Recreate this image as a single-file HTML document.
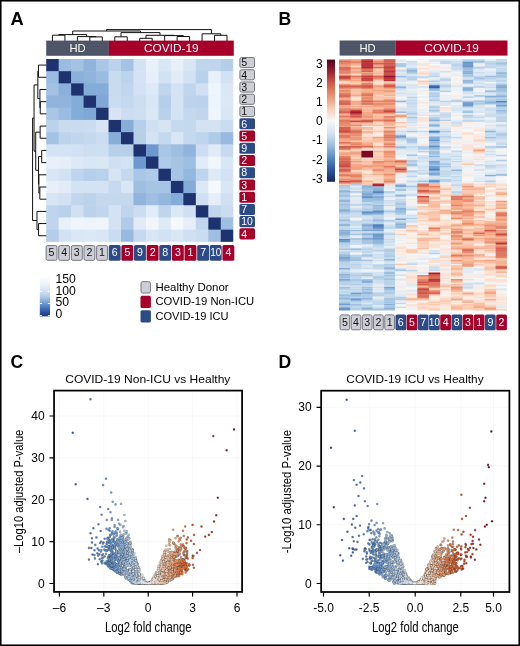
<!DOCTYPE html>
<html><head><meta charset="utf-8"><title>Figure</title>
<style>html,body{margin:0;padding:0;background:#fff;overflow:hidden}svg{display:block;will-change:transform}</style>
</head><body>
<svg width="520" height="646" viewBox="0 0 520 646" font-family="'Liberation Sans', sans-serif">
<rect width="520" height="646" fill="#fff"/>
<g>
<rect x="46.2" y="59" width="13.07" height="12.79" fill="#1d326f"/>
<rect x="58.67" y="59" width="13.07" height="12.79" fill="#9abce0"/>
<rect x="71.14" y="59" width="13.07" height="12.79" fill="#a2c1e3"/>
<rect x="83.61" y="59" width="13.07" height="12.79" fill="#90b4dc"/>
<rect x="96.08" y="59" width="13.07" height="12.79" fill="#a9c6e6"/>
<rect x="108.55" y="59" width="13.07" height="12.79" fill="#bbd2ec"/>
<rect x="121.02" y="59" width="13.07" height="12.79" fill="#a4c2e4"/>
<rect x="133.49" y="59" width="13.07" height="12.79" fill="#d4e3f3"/>
<rect x="145.96" y="59" width="13.07" height="12.79" fill="#e8f0fa"/>
<rect x="158.43" y="59" width="13.07" height="12.79" fill="#d8e6f5"/>
<rect x="170.9" y="59" width="13.07" height="12.79" fill="#e7eff9"/>
<rect x="183.37" y="59" width="13.07" height="12.79" fill="#d8e5f4"/>
<rect x="195.84" y="59" width="13.07" height="12.79" fill="#bfd4ed"/>
<rect x="208.31" y="59" width="13.07" height="12.79" fill="#c0d5ed"/>
<rect x="220.78" y="59" width="12.47" height="12.79" fill="#b4cde9"/>
<rect x="46.2" y="71.19" width="13.07" height="12.79" fill="#9abce0"/>
<rect x="58.67" y="71.19" width="13.07" height="12.79" fill="#1d326f"/>
<rect x="71.14" y="71.19" width="13.07" height="12.79" fill="#8bb1db"/>
<rect x="83.61" y="71.19" width="13.07" height="12.79" fill="#90b4dc"/>
<rect x="96.08" y="71.19" width="13.07" height="12.79" fill="#9abce0"/>
<rect x="108.55" y="71.19" width="13.07" height="12.79" fill="#c8dbef"/>
<rect x="121.02" y="71.19" width="13.07" height="12.79" fill="#bdd3ec"/>
<rect x="133.49" y="71.19" width="13.07" height="12.79" fill="#d4e3f3"/>
<rect x="145.96" y="71.19" width="13.07" height="12.79" fill="#e6eff9"/>
<rect x="158.43" y="71.19" width="13.07" height="12.79" fill="#d3e2f3"/>
<rect x="170.9" y="71.19" width="13.07" height="12.79" fill="#e2ecf8"/>
<rect x="183.37" y="71.19" width="13.07" height="12.79" fill="#d2e1f3"/>
<rect x="195.84" y="71.19" width="13.07" height="12.79" fill="#bad1eb"/>
<rect x="208.31" y="71.19" width="13.07" height="12.79" fill="#e8f0fa"/>
<rect x="220.78" y="71.19" width="12.47" height="12.79" fill="#d2e1f3"/>
<rect x="46.2" y="83.38" width="13.07" height="12.79" fill="#a2c1e3"/>
<rect x="58.67" y="83.38" width="13.07" height="12.79" fill="#8bb1db"/>
<rect x="71.14" y="83.38" width="13.07" height="12.79" fill="#1d326f"/>
<rect x="83.61" y="83.38" width="13.07" height="12.79" fill="#84acd8"/>
<rect x="96.08" y="83.38" width="13.07" height="12.79" fill="#84acd8"/>
<rect x="108.55" y="83.38" width="13.07" height="12.79" fill="#c8dbef"/>
<rect x="121.02" y="83.38" width="13.07" height="12.79" fill="#c1d6ed"/>
<rect x="133.49" y="83.38" width="13.07" height="12.79" fill="#d2e1f3"/>
<rect x="145.96" y="83.38" width="13.07" height="12.79" fill="#dde9f6"/>
<rect x="158.43" y="83.38" width="13.07" height="12.79" fill="#c0d5ed"/>
<rect x="170.9" y="83.38" width="13.07" height="12.79" fill="#d4e3f3"/>
<rect x="183.37" y="83.38" width="13.07" height="12.79" fill="#c1d6ed"/>
<rect x="195.84" y="83.38" width="13.07" height="12.79" fill="#d1e0f2"/>
<rect x="208.31" y="83.38" width="13.07" height="12.79" fill="#eff5fc"/>
<rect x="220.78" y="83.38" width="12.47" height="12.79" fill="#dae7f5"/>
<rect x="46.2" y="95.57" width="13.07" height="12.79" fill="#90b4dc"/>
<rect x="58.67" y="95.57" width="13.07" height="12.79" fill="#90b4dc"/>
<rect x="71.14" y="95.57" width="13.07" height="12.79" fill="#84acd8"/>
<rect x="83.61" y="95.57" width="13.07" height="12.79" fill="#1d326f"/>
<rect x="96.08" y="95.57" width="13.07" height="12.79" fill="#7fa8d6"/>
<rect x="108.55" y="95.57" width="13.07" height="12.79" fill="#c9dcf0"/>
<rect x="121.02" y="95.57" width="13.07" height="12.79" fill="#c4d8ee"/>
<rect x="133.49" y="95.57" width="13.07" height="12.79" fill="#cddef1"/>
<rect x="145.96" y="95.57" width="13.07" height="12.79" fill="#d9e6f5"/>
<rect x="158.43" y="95.57" width="13.07" height="12.79" fill="#b5ceea"/>
<rect x="170.9" y="95.57" width="13.07" height="12.79" fill="#d4e3f3"/>
<rect x="183.37" y="95.57" width="13.07" height="12.79" fill="#bdd3ec"/>
<rect x="195.84" y="95.57" width="13.07" height="12.79" fill="#bbd2ec"/>
<rect x="208.31" y="95.57" width="13.07" height="12.79" fill="#eef4fc"/>
<rect x="220.78" y="95.57" width="12.47" height="12.79" fill="#dbe8f6"/>
<rect x="46.2" y="107.76" width="13.07" height="12.79" fill="#a9c6e6"/>
<rect x="58.67" y="107.76" width="13.07" height="12.79" fill="#9abce0"/>
<rect x="71.14" y="107.76" width="13.07" height="12.79" fill="#84acd8"/>
<rect x="83.61" y="107.76" width="13.07" height="12.79" fill="#7fa8d6"/>
<rect x="96.08" y="107.76" width="13.07" height="12.79" fill="#1d326f"/>
<rect x="108.55" y="107.76" width="13.07" height="12.79" fill="#d6e4f4"/>
<rect x="121.02" y="107.76" width="13.07" height="12.79" fill="#ccddf1"/>
<rect x="133.49" y="107.76" width="13.07" height="12.79" fill="#cfdff2"/>
<rect x="145.96" y="107.76" width="13.07" height="12.79" fill="#dae7f5"/>
<rect x="158.43" y="107.76" width="13.07" height="12.79" fill="#bad1eb"/>
<rect x="170.9" y="107.76" width="13.07" height="12.79" fill="#d4e3f3"/>
<rect x="183.37" y="107.76" width="13.07" height="12.79" fill="#c4d8ee"/>
<rect x="195.84" y="107.76" width="13.07" height="12.79" fill="#c1d6ed"/>
<rect x="208.31" y="107.76" width="13.07" height="12.79" fill="#eff5fc"/>
<rect x="220.78" y="107.76" width="12.47" height="12.79" fill="#d8e6f5"/>
<rect x="46.2" y="119.95" width="13.07" height="12.79" fill="#bbd2ec"/>
<rect x="58.67" y="119.95" width="13.07" height="12.79" fill="#c8dbef"/>
<rect x="71.14" y="119.95" width="13.07" height="12.79" fill="#c8dbef"/>
<rect x="83.61" y="119.95" width="13.07" height="12.79" fill="#c9dcf0"/>
<rect x="96.08" y="119.95" width="13.07" height="12.79" fill="#d6e4f4"/>
<rect x="108.55" y="119.95" width="13.07" height="12.79" fill="#1d326f"/>
<rect x="121.02" y="119.95" width="13.07" height="12.79" fill="#87aed9"/>
<rect x="133.49" y="119.95" width="13.07" height="12.79" fill="#b7d0ea"/>
<rect x="145.96" y="119.95" width="13.07" height="12.79" fill="#d0e0f2"/>
<rect x="158.43" y="119.95" width="13.07" height="12.79" fill="#d6e4f4"/>
<rect x="170.9" y="119.95" width="13.07" height="12.79" fill="#c6d9ef"/>
<rect x="183.37" y="119.95" width="13.07" height="12.79" fill="#c4d8ee"/>
<rect x="195.84" y="119.95" width="13.07" height="12.79" fill="#d4e3f3"/>
<rect x="208.31" y="119.95" width="13.07" height="12.79" fill="#d4e3f3"/>
<rect x="220.78" y="119.95" width="12.47" height="12.79" fill="#cadcf0"/>
<rect x="46.2" y="132.14" width="13.07" height="12.79" fill="#a4c2e4"/>
<rect x="58.67" y="132.14" width="13.07" height="12.79" fill="#bdd3ec"/>
<rect x="71.14" y="132.14" width="13.07" height="12.79" fill="#c1d6ed"/>
<rect x="83.61" y="132.14" width="13.07" height="12.79" fill="#c4d8ee"/>
<rect x="96.08" y="132.14" width="13.07" height="12.79" fill="#ccddf1"/>
<rect x="108.55" y="132.14" width="13.07" height="12.79" fill="#87aed9"/>
<rect x="121.02" y="132.14" width="13.07" height="12.79" fill="#1d326f"/>
<rect x="133.49" y="132.14" width="13.07" height="12.79" fill="#b7d0ea"/>
<rect x="145.96" y="132.14" width="13.07" height="12.79" fill="#d4e3f3"/>
<rect x="158.43" y="132.14" width="13.07" height="12.79" fill="#c4d8ee"/>
<rect x="170.9" y="132.14" width="13.07" height="12.79" fill="#d8e6f5"/>
<rect x="183.37" y="132.14" width="13.07" height="12.79" fill="#c4d8ee"/>
<rect x="195.84" y="132.14" width="13.07" height="12.79" fill="#bfd4ed"/>
<rect x="208.31" y="132.14" width="13.07" height="12.79" fill="#b0cbe8"/>
<rect x="220.78" y="132.14" width="12.47" height="12.79" fill="#98bae0"/>
<rect x="46.2" y="144.33" width="13.07" height="12.79" fill="#d4e3f3"/>
<rect x="58.67" y="144.33" width="13.07" height="12.79" fill="#d4e3f3"/>
<rect x="71.14" y="144.33" width="13.07" height="12.79" fill="#d2e1f3"/>
<rect x="83.61" y="144.33" width="13.07" height="12.79" fill="#cddef1"/>
<rect x="96.08" y="144.33" width="13.07" height="12.79" fill="#cfdff2"/>
<rect x="108.55" y="144.33" width="13.07" height="12.79" fill="#b7d0ea"/>
<rect x="121.02" y="144.33" width="13.07" height="12.79" fill="#b7d0ea"/>
<rect x="133.49" y="144.33" width="13.07" height="12.79" fill="#1d326f"/>
<rect x="145.96" y="144.33" width="13.07" height="12.79" fill="#6d99ce"/>
<rect x="158.43" y="144.33" width="13.07" height="12.79" fill="#a9c6e6"/>
<rect x="170.9" y="144.33" width="13.07" height="12.79" fill="#9ebee2"/>
<rect x="183.37" y="144.33" width="13.07" height="12.79" fill="#90b4dc"/>
<rect x="195.84" y="144.33" width="13.07" height="12.79" fill="#ccddf1"/>
<rect x="208.31" y="144.33" width="13.07" height="12.79" fill="#e0ebf7"/>
<rect x="220.78" y="144.33" width="12.47" height="12.79" fill="#c6d9ef"/>
<rect x="46.2" y="156.52" width="13.07" height="12.79" fill="#e8f0fa"/>
<rect x="58.67" y="156.52" width="13.07" height="12.79" fill="#e6eff9"/>
<rect x="71.14" y="156.52" width="13.07" height="12.79" fill="#dde9f6"/>
<rect x="83.61" y="156.52" width="13.07" height="12.79" fill="#d9e6f5"/>
<rect x="96.08" y="156.52" width="13.07" height="12.79" fill="#dae7f5"/>
<rect x="108.55" y="156.52" width="13.07" height="12.79" fill="#d0e0f2"/>
<rect x="121.02" y="156.52" width="13.07" height="12.79" fill="#d4e3f3"/>
<rect x="133.49" y="156.52" width="13.07" height="12.79" fill="#6d99ce"/>
<rect x="145.96" y="156.52" width="13.07" height="12.79" fill="#1d326f"/>
<rect x="158.43" y="156.52" width="13.07" height="12.79" fill="#b0cbe8"/>
<rect x="170.9" y="156.52" width="13.07" height="12.79" fill="#a7c4e5"/>
<rect x="183.37" y="156.52" width="13.07" height="12.79" fill="#9fbfe2"/>
<rect x="195.84" y="156.52" width="13.07" height="12.79" fill="#e2ecf8"/>
<rect x="208.31" y="156.52" width="13.07" height="12.79" fill="#f1f6fd"/>
<rect x="220.78" y="156.52" width="12.47" height="12.79" fill="#d8e6f5"/>
<rect x="46.2" y="168.71" width="13.07" height="12.79" fill="#d8e6f5"/>
<rect x="58.67" y="168.71" width="13.07" height="12.79" fill="#d3e2f3"/>
<rect x="71.14" y="168.71" width="13.07" height="12.79" fill="#c0d5ed"/>
<rect x="83.61" y="168.71" width="13.07" height="12.79" fill="#b5ceea"/>
<rect x="96.08" y="168.71" width="13.07" height="12.79" fill="#bad1eb"/>
<rect x="108.55" y="168.71" width="13.07" height="12.79" fill="#d6e4f4"/>
<rect x="121.02" y="168.71" width="13.07" height="12.79" fill="#c4d8ee"/>
<rect x="133.49" y="168.71" width="13.07" height="12.79" fill="#a9c6e6"/>
<rect x="145.96" y="168.71" width="13.07" height="12.79" fill="#b0cbe8"/>
<rect x="158.43" y="168.71" width="13.07" height="12.79" fill="#1d326f"/>
<rect x="170.9" y="168.71" width="13.07" height="12.79" fill="#a7c4e5"/>
<rect x="183.37" y="168.71" width="13.07" height="12.79" fill="#94b7de"/>
<rect x="195.84" y="168.71" width="13.07" height="12.79" fill="#bfd4ed"/>
<rect x="208.31" y="168.71" width="13.07" height="12.79" fill="#dfeaf7"/>
<rect x="220.78" y="168.71" width="12.47" height="12.79" fill="#d2e1f3"/>
<rect x="46.2" y="180.9" width="13.07" height="12.79" fill="#e7eff9"/>
<rect x="58.67" y="180.9" width="13.07" height="12.79" fill="#e2ecf8"/>
<rect x="71.14" y="180.9" width="13.07" height="12.79" fill="#d4e3f3"/>
<rect x="83.61" y="180.9" width="13.07" height="12.79" fill="#d4e3f3"/>
<rect x="96.08" y="180.9" width="13.07" height="12.79" fill="#d4e3f3"/>
<rect x="108.55" y="180.9" width="13.07" height="12.79" fill="#c6d9ef"/>
<rect x="121.02" y="180.9" width="13.07" height="12.79" fill="#d8e6f5"/>
<rect x="133.49" y="180.9" width="13.07" height="12.79" fill="#9ebee2"/>
<rect x="145.96" y="180.9" width="13.07" height="12.79" fill="#a7c4e5"/>
<rect x="158.43" y="180.9" width="13.07" height="12.79" fill="#a7c4e5"/>
<rect x="170.9" y="180.9" width="13.07" height="12.79" fill="#1d326f"/>
<rect x="183.37" y="180.9" width="13.07" height="12.79" fill="#84acd8"/>
<rect x="195.84" y="180.9" width="13.07" height="12.79" fill="#dbe8f6"/>
<rect x="208.31" y="180.9" width="13.07" height="12.79" fill="#f5f9fe"/>
<rect x="220.78" y="180.9" width="12.47" height="12.79" fill="#d8e6f5"/>
<rect x="46.2" y="193.09" width="13.07" height="12.79" fill="#d8e5f4"/>
<rect x="58.67" y="193.09" width="13.07" height="12.79" fill="#d2e1f3"/>
<rect x="71.14" y="193.09" width="13.07" height="12.79" fill="#c1d6ed"/>
<rect x="83.61" y="193.09" width="13.07" height="12.79" fill="#bdd3ec"/>
<rect x="96.08" y="193.09" width="13.07" height="12.79" fill="#c4d8ee"/>
<rect x="108.55" y="193.09" width="13.07" height="12.79" fill="#c4d8ee"/>
<rect x="121.02" y="193.09" width="13.07" height="12.79" fill="#c4d8ee"/>
<rect x="133.49" y="193.09" width="13.07" height="12.79" fill="#90b4dc"/>
<rect x="145.96" y="193.09" width="13.07" height="12.79" fill="#9fbfe2"/>
<rect x="158.43" y="193.09" width="13.07" height="12.79" fill="#94b7de"/>
<rect x="170.9" y="193.09" width="13.07" height="12.79" fill="#84acd8"/>
<rect x="183.37" y="193.09" width="13.07" height="12.79" fill="#1d326f"/>
<rect x="195.84" y="193.09" width="13.07" height="12.79" fill="#d0e0f2"/>
<rect x="208.31" y="193.09" width="13.07" height="12.79" fill="#e5eef9"/>
<rect x="220.78" y="193.09" width="12.47" height="12.79" fill="#d0e0f2"/>
<rect x="46.2" y="205.28" width="13.07" height="12.79" fill="#bfd4ed"/>
<rect x="58.67" y="205.28" width="13.07" height="12.79" fill="#bad1eb"/>
<rect x="71.14" y="205.28" width="13.07" height="12.79" fill="#d1e0f2"/>
<rect x="83.61" y="205.28" width="13.07" height="12.79" fill="#bbd2ec"/>
<rect x="96.08" y="205.28" width="13.07" height="12.79" fill="#c1d6ed"/>
<rect x="108.55" y="205.28" width="13.07" height="12.79" fill="#d4e3f3"/>
<rect x="121.02" y="205.28" width="13.07" height="12.79" fill="#bfd4ed"/>
<rect x="133.49" y="205.28" width="13.07" height="12.79" fill="#ccddf1"/>
<rect x="145.96" y="205.28" width="13.07" height="12.79" fill="#e2ecf8"/>
<rect x="158.43" y="205.28" width="13.07" height="12.79" fill="#bfd4ed"/>
<rect x="170.9" y="205.28" width="13.07" height="12.79" fill="#dbe8f6"/>
<rect x="183.37" y="205.28" width="13.07" height="12.79" fill="#d0e0f2"/>
<rect x="195.84" y="205.28" width="13.07" height="12.79" fill="#1d326f"/>
<rect x="208.31" y="205.28" width="13.07" height="12.79" fill="#c1d6ed"/>
<rect x="220.78" y="205.28" width="12.47" height="12.79" fill="#cadcf0"/>
<rect x="46.2" y="217.47" width="13.07" height="12.79" fill="#c0d5ed"/>
<rect x="58.67" y="217.47" width="13.07" height="12.79" fill="#e8f0fa"/>
<rect x="71.14" y="217.47" width="13.07" height="12.79" fill="#eff5fc"/>
<rect x="83.61" y="217.47" width="13.07" height="12.79" fill="#eef4fc"/>
<rect x="96.08" y="217.47" width="13.07" height="12.79" fill="#eff5fc"/>
<rect x="108.55" y="217.47" width="13.07" height="12.79" fill="#d4e3f3"/>
<rect x="121.02" y="217.47" width="13.07" height="12.79" fill="#b0cbe8"/>
<rect x="133.49" y="217.47" width="13.07" height="12.79" fill="#e0ebf7"/>
<rect x="145.96" y="217.47" width="13.07" height="12.79" fill="#f1f6fd"/>
<rect x="158.43" y="217.47" width="13.07" height="12.79" fill="#dfeaf7"/>
<rect x="170.9" y="217.47" width="13.07" height="12.79" fill="#f5f9fe"/>
<rect x="183.37" y="217.47" width="13.07" height="12.79" fill="#e5eef9"/>
<rect x="195.84" y="217.47" width="13.07" height="12.79" fill="#c1d6ed"/>
<rect x="208.31" y="217.47" width="13.07" height="12.79" fill="#1d326f"/>
<rect x="220.78" y="217.47" width="12.47" height="12.79" fill="#9fbfe2"/>
<rect x="46.2" y="229.66" width="13.07" height="12.19" fill="#b4cde9"/>
<rect x="58.67" y="229.66" width="13.07" height="12.19" fill="#d2e1f3"/>
<rect x="71.14" y="229.66" width="13.07" height="12.19" fill="#dae7f5"/>
<rect x="83.61" y="229.66" width="13.07" height="12.19" fill="#dbe8f6"/>
<rect x="96.08" y="229.66" width="13.07" height="12.19" fill="#d8e6f5"/>
<rect x="108.55" y="229.66" width="13.07" height="12.19" fill="#cadcf0"/>
<rect x="121.02" y="229.66" width="13.07" height="12.19" fill="#98bae0"/>
<rect x="133.49" y="229.66" width="13.07" height="12.19" fill="#c6d9ef"/>
<rect x="145.96" y="229.66" width="13.07" height="12.19" fill="#d8e6f5"/>
<rect x="158.43" y="229.66" width="13.07" height="12.19" fill="#d2e1f3"/>
<rect x="170.9" y="229.66" width="13.07" height="12.19" fill="#d8e6f5"/>
<rect x="183.37" y="229.66" width="13.07" height="12.19" fill="#d0e0f2"/>
<rect x="195.84" y="229.66" width="13.07" height="12.19" fill="#cadcf0"/>
<rect x="208.31" y="229.66" width="13.07" height="12.19" fill="#9fbfe2"/>
<rect x="220.78" y="229.66" width="12.47" height="12.19" fill="#1d326f"/>
</g>
<path d="M52.44 41V35.2H64.91V41M89.84 41V36.9H102.31V41M77.38 41V36.6H96.08V36.9M58.67 35.2V34.6H86.73V36.6M114.79 41V36.8H127.26V41M139.73 41V38.3H152.19V41M177.13 41V36.5H189.61V41M164.67 41V35.6H183.37V36.5M145.96 38.3V35.3H174.02V35.6M121.02 36.8V32.6H159.99V35.3M72.7 34.6V31H140.5V32.6M214.55 41V35.3H227.01V41M202.07 41V33.8H220.78V35.3M106.6 31V29.6H211.43V33.8" fill="none" stroke="#111" stroke-width="1"/>
<path d="M46.3 65.09H38.46V77.28H46.3M46.3 101.66H40.24V113.85H46.3M46.3 89.47H39.93V107.76H40.24M38.46 71.19H37.83V98.62H39.93M46.3 126.05H40.14V138.24H46.3M46.3 150.43H41.71V162.62H46.3M46.3 187H39.83V199.19H46.3M46.3 174.81H38.88V193.09H39.83M41.71 156.52H38.56V183.95H38.88M40.14 132.14H35.73V170.23H38.56M37.83 84.9H34.05V151.19H35.73M46.3 223.56H38.56V235.75H46.3M46.3 211.38H36.99V229.66H38.56M34.05 118.05H32.58V220.52H36.99" fill="none" stroke="#111" stroke-width="1"/>
<rect x="46.2" y="40.6" width="62.7" height="15.2" fill="#4e5567"/>
<rect x="108.8" y="40.6" width="125" height="15.2" fill="#a6002a"/>
<text x="77.6" y="51.6" font-size="11.2" text-anchor="middle" fill="#fff">HD</text>
<text x="171.3" y="51.7" font-size="11.2" text-anchor="middle" fill="#fff" textLength="54.5" lengthAdjust="spacingAndGlyphs">COVID-19</text>
<rect x="239.9" y="57.5" width="14.6" height="10.1" rx="1.6" fill="#cecfd6" stroke="#757882" stroke-width="1"/>
<text x="241.3" y="66.3" font-size="10.6" fill="#111">5</text>
<rect x="239.9" y="69.74" width="14.6" height="10.1" rx="1.6" fill="#cecfd6" stroke="#757882" stroke-width="1"/>
<text x="241.3" y="78.54" font-size="10.6" fill="#111">4</text>
<rect x="239.9" y="81.98" width="14.6" height="10.1" rx="1.6" fill="#cecfd6" stroke="#757882" stroke-width="1"/>
<text x="241.3" y="90.78" font-size="10.6" fill="#111">3</text>
<rect x="239.9" y="94.22" width="14.6" height="10.1" rx="1.6" fill="#cecfd6" stroke="#757882" stroke-width="1"/>
<text x="241.3" y="103.02" font-size="10.6" fill="#111">2</text>
<rect x="239.9" y="106.46" width="14.6" height="10.1" rx="1.6" fill="#cecfd6" stroke="#757882" stroke-width="1"/>
<text x="241.3" y="115.26" font-size="10.6" fill="#111">1</text>
<rect x="239.4" y="118.2" width="15.6" height="11.1" rx="1.6" fill="#2c4a86"/>
<text x="241.3" y="127.5" font-size="10.6" fill="#fff">6</text>
<rect x="239.4" y="130.44" width="15.6" height="11.1" rx="1.6" fill="#a6002a"/>
<text x="241.3" y="139.74" font-size="10.6" fill="#fff">5</text>
<rect x="239.4" y="142.68" width="15.6" height="11.1" rx="1.6" fill="#2c4a86"/>
<text x="241.3" y="151.98" font-size="10.6" fill="#fff">9</text>
<rect x="239.4" y="154.92" width="15.6" height="11.1" rx="1.6" fill="#a6002a"/>
<text x="241.3" y="164.22" font-size="10.6" fill="#fff">2</text>
<rect x="239.4" y="167.16" width="15.6" height="11.1" rx="1.6" fill="#2c4a86"/>
<text x="241.3" y="176.46" font-size="10.6" fill="#fff">8</text>
<rect x="239.4" y="179.4" width="15.6" height="11.1" rx="1.6" fill="#a6002a"/>
<text x="241.3" y="188.7" font-size="10.6" fill="#fff">3</text>
<rect x="239.4" y="191.64" width="15.6" height="11.1" rx="1.6" fill="#a6002a"/>
<text x="241.3" y="200.94" font-size="10.6" fill="#fff">1</text>
<rect x="239.4" y="203.88" width="15.6" height="11.1" rx="1.6" fill="#2c4a86"/>
<text x="241.3" y="213.18" font-size="10.6" fill="#fff">7</text>
<rect x="239.4" y="216.12" width="15.6" height="11.1" rx="1.6" fill="#2c4a86"/>
<text x="241.3" y="225.42" font-size="10.6" fill="#fff" textLength="11.6" lengthAdjust="spacingAndGlyphs">10</text>
<rect x="239.4" y="228.36" width="15.6" height="11.1" rx="1.6" fill="#a6002a"/>
<text x="241.3" y="237.66" font-size="10.6" fill="#fff">4</text>
<rect x="46.1" y="245.6" width="10.9" height="14.7" rx="1.6" fill="#cecfd6" stroke="#757882" stroke-width="1"/>
<text x="51.55" y="256" font-size="10.6" text-anchor="middle" fill="#111">5</text>
<rect x="58.73" y="245.6" width="10.9" height="14.7" rx="1.6" fill="#cecfd6" stroke="#757882" stroke-width="1"/>
<text x="64.18" y="256" font-size="10.6" text-anchor="middle" fill="#111">4</text>
<rect x="71.36" y="245.6" width="10.9" height="14.7" rx="1.6" fill="#cecfd6" stroke="#757882" stroke-width="1"/>
<text x="76.81" y="256" font-size="10.6" text-anchor="middle" fill="#111">3</text>
<rect x="83.99" y="245.6" width="10.9" height="14.7" rx="1.6" fill="#cecfd6" stroke="#757882" stroke-width="1"/>
<text x="89.44" y="256" font-size="10.6" text-anchor="middle" fill="#111">2</text>
<rect x="96.62" y="245.6" width="10.9" height="14.7" rx="1.6" fill="#cecfd6" stroke="#757882" stroke-width="1"/>
<text x="102.07" y="256" font-size="10.6" text-anchor="middle" fill="#111">1</text>
<rect x="108.75" y="245.1" width="11.9" height="15.7" rx="1.6" fill="#2c4a86"/>
<text x="114.7" y="256" font-size="10.6" text-anchor="middle" fill="#fff">6</text>
<rect x="121.38" y="245.1" width="11.9" height="15.7" rx="1.6" fill="#a6002a"/>
<text x="127.33" y="256" font-size="10.6" text-anchor="middle" fill="#fff">5</text>
<rect x="134.01" y="245.1" width="11.9" height="15.7" rx="1.6" fill="#2c4a86"/>
<text x="139.96" y="256" font-size="10.6" text-anchor="middle" fill="#fff">9</text>
<rect x="146.64" y="245.1" width="11.9" height="15.7" rx="1.6" fill="#a6002a"/>
<text x="152.59" y="256" font-size="10.6" text-anchor="middle" fill="#fff">2</text>
<rect x="159.27" y="245.1" width="11.9" height="15.7" rx="1.6" fill="#2c4a86"/>
<text x="165.22" y="256" font-size="10.6" text-anchor="middle" fill="#fff">8</text>
<rect x="171.9" y="245.1" width="11.9" height="15.7" rx="1.6" fill="#a6002a"/>
<text x="177.85" y="256" font-size="10.6" text-anchor="middle" fill="#fff">3</text>
<rect x="184.53" y="245.1" width="11.9" height="15.7" rx="1.6" fill="#a6002a"/>
<text x="190.48" y="256" font-size="10.6" text-anchor="middle" fill="#fff">1</text>
<rect x="197.16" y="245.1" width="11.9" height="15.7" rx="1.6" fill="#2c4a86"/>
<text x="203.11" y="256" font-size="10.6" text-anchor="middle" fill="#fff">7</text>
<rect x="209.79" y="245.1" width="11.9" height="15.7" rx="1.6" fill="#2c4a86"/>
<text x="215.74" y="256" font-size="10.6" text-anchor="middle" fill="#fff" textLength="11.2" lengthAdjust="spacingAndGlyphs">10</text>
<rect x="222.42" y="245.1" width="11.9" height="15.7" rx="1.6" fill="#a6002a"/>
<text x="228.37" y="256" font-size="10.6" text-anchor="middle" fill="#fff">4</text>
<defs><linearGradient id="gA" x1="0" y1="1" x2="0" y2="0">
<stop offset="0" stop-color="#1e3680"/>
<stop offset=".02" stop-color="#1f3a86"/>
<stop offset=".18" stop-color="#3a68b0"/>
<stop offset=".33" stop-color="#6a98d0"/>
<stop offset=".49" stop-color="#a9c5e5"/>
<stop offset=".65" stop-color="#d2e0f0"/>
<stop offset=".8" stop-color="#e8eff8"/>
<stop offset=".9" stop-color="#f2f6fc"/>
<stop offset="1" stop-color="#f7fafe"/>
</linearGradient>
<linearGradient id="gB" x1="0" y1="1" x2="0" y2="0">
<stop offset="0" stop-color="#142a66"/>
<stop offset=".1" stop-color="#2b56a0"/>
<stop offset=".2" stop-color="#5a8cc6"/>
<stop offset=".3" stop-color="#9dc0e0"/>
<stop offset=".4" stop-color="#d3e3f1"/>
<stop offset=".5" stop-color="#f7f7f7"/>
<stop offset=".6" stop-color="#f9cbb4"/>
<stop offset=".7" stop-color="#eb9474"/>
<stop offset=".8" stop-color="#d2604a"/>
<stop offset=".9" stop-color="#a02030"/>
<stop offset="1" stop-color="#50001a"/>
</linearGradient></defs>
<rect x="39.8" y="277.9" width="10.2" height="38.5" fill="url(#gA)"/>
<path d="M39.8 291.5h2.2M47.8 291.5h2.2" stroke="#fff" stroke-width="0.9"/>
<path d="M39.8 303.5h2.2M47.8 303.5h2.2" stroke="#fff" stroke-width="0.9"/>
<path d="M39.8 315.6h2.2M47.8 315.6h2.2" stroke="#fff" stroke-width="0.9"/>
<text x="55.4" y="282.6" font-size="12.2">150</text>
<text x="55.4" y="294.5" font-size="12.2">100</text>
<text x="55.4" y="306.2" font-size="12.2">50</text>
<text x="55.4" y="317.9" font-size="12.2">0</text>
<rect x="141" y="281.7" width="9.4" height="11.3" rx="1.6" fill="#cecfd6" stroke="#757882" stroke-width="1"/>
<rect x="140.5" y="295.7" width="10.4" height="12.3" rx="1.6" fill="#a6002a"/>
<rect x="140.5" y="310.2" width="10.4" height="12.3" rx="1.6" fill="#2c4a86"/>
<text x="155.4" y="290.9" font-size="11.2" textLength="73.2" lengthAdjust="spacingAndGlyphs">Healthy Donor</text>
<text x="155.4" y="305.35" font-size="11.2" textLength="98.8" lengthAdjust="spacingAndGlyphs">COVID-19 Non-ICU</text>
<text x="155.4" y="319.8" font-size="11.2" textLength="73.2" lengthAdjust="spacingAndGlyphs">COVID-19 ICU</text>
<path d="M428.55 87.64h11.59" stroke="#335fa6" stroke-width="1.55"/>
<path d="M428.55 86.38h11.59M372.58 226.94h11.59" stroke="#3b68ad" stroke-width="1.55"/>
<path d="M372.58 211.88h11.59" stroke="#4271b3" stroke-width="1.55"/>
<path d="M428.55 169.21h11.59M372.58 225.69h11.59" stroke="#4a7ab9" stroke-width="1.55"/>
<path d="M462.13 65.05h11.59M495.71 101.44h11.19M462.13 103.95h11.59M428.55 131.56h11.59M428.55 140.35h11.59M428.55 146.62h11.59M372.58 191.8h11.59M372.58 193.06h11.59M361.39 211.88h11.59" stroke="#5283c0" stroke-width="1.55"/>
<path d="M428.55 85.13h11.59M428.55 167.96h11.59M428.55 181.76h11.59M361.39 213.14h11.59M339 239.49h11.59" stroke="#5a8cc6" stroke-width="1.55"/>
<path d="M462.13 62.54h11.59M462.13 66.3h11.59M462.13 105.21h11.59M428.55 161.68h11.59M428.55 166.7h11.59M428.55 172.98h11.59M361.39 196.82h11.59M361.39 198.08h11.59M372.58 213.14h11.59M372.58 224.43h11.59M372.58 228.2h11.59M372.58 234.47h11.59M372.58 238.24h11.59M350.19 299.73h11.59M339 304.75h11.59M339 308.52h11.59M339 309.77h11.59" stroke="#6595ca" stroke-width="1.55"/>
<path d="M462.13 63.79h11.59M462.13 102.7h11.59M495.71 105.21h11.19M428.55 132.82h11.59M394.97 136.58h11.59M428.55 139.09h11.59M428.55 162.94h11.59M428.55 170.47h11.59M428.55 174.23h11.59M428.55 180.51h11.59M361.39 193.06h11.59M372.58 210.63h11.59M394.97 226.94h11.59M372.58 235.73h11.59M372.58 236.98h11.59M339 240.75h11.59M339 242h11.59M372.58 242h11.59M339 279.65h11.59M361.39 280.91h11.59M383.77 287.18h11.59M350.19 293.46h11.59" stroke="#709dcf" stroke-width="1.55"/>
<path d="M495.71 87.64h11.19M428.55 88.89h11.59M495.71 102.7h11.19M428.55 120.27h11.59M428.55 125.29h11.59M428.55 137.84h11.59M428.55 152.9h11.59M428.55 156.66h11.59M394.97 185.53h11.59M394.97 186.78h11.59M361.39 188.04h11.59M372.58 188.04h11.59M361.39 194.31h11.59M372.58 196.82h11.59M372.58 198.08h11.59M394.97 219.41h11.59M361.39 225.69h11.59M339 230.71h11.59M361.39 230.71h11.59M372.58 230.71h11.59M361.39 238.24h11.59M372.58 239.49h11.59M339 257.06h11.59M339 258.32h11.59M339 268.36h11.59M339 274.63h11.59M361.39 282.16h11.59M383.77 304.75h11.59" stroke="#7ca6d3" stroke-width="1.55"/>
<path d="M462.13 67.56h11.59M462.13 71.32h11.59M462.13 73.83h11.59M394.97 76.34h11.59M495.71 85.13h11.19M495.71 86.38h11.19M394.97 87.64h11.59M462.13 87.64h11.59M462.13 88.89h11.59M462.13 90.15h11.59M484.51 96.42h11.59M495.71 96.42h11.19M484.51 102.7h11.59M473.32 103.95h11.59M406.16 113.99h11.59M394.97 137.84h11.59M428.55 142.86h11.59M428.55 145.37h11.59M428.55 147.88h11.59M428.55 164.19h11.59M484.51 175.49h11.59M361.39 186.78h11.59M372.58 189.29h11.59M372.58 190.55h11.59M339 191.8h11.59M361.39 195.57h11.59M372.58 205.61h11.59M394.97 208.12h11.59M394.97 209.37h11.59M339 210.63h11.59M394.97 224.43h11.59M361.39 226.94h11.59M372.58 229.45h11.59M350.19 230.71h11.59M339 231.96h11.59M339 233.22h11.59M361.39 234.47h11.59M361.39 239.49h11.59M339 259.57h11.59M383.77 268.36h11.59M339 280.91h11.59M350.19 295.97h11.59M350.19 298.48h11.59M350.19 300.99h11.59M339 307.26h11.59M361.39 308.52h11.59M383.77 308.52h11.59" stroke="#87afd7" stroke-width="1.55"/>
<path d="M473.32 61.28h11.59M406.16 70.07h11.59M406.16 71.32h11.59M462.13 72.58h11.59M495.71 73.83h11.19M484.51 76.34h11.59M462.13 80.11h11.59M462.13 81.36h11.59M428.55 90.15h11.59M394.97 101.44h11.59M484.51 103.95h11.59M495.71 103.95h11.19M495.71 106.46h11.19M495.71 110.23h11.19M394.97 112.74h11.59M484.51 131.56h11.59M495.71 134.07h11.19M394.97 135.33h11.59M484.51 137.84h11.59M406.16 139.09h11.59M394.97 147.88h11.59M428.55 149.13h11.59M450.93 170.47h11.59M428.55 183.02h11.59M361.39 191.8h11.59M372.58 194.31h11.59M394.97 195.57h11.59M372.58 199.33h11.59M339 200.59h11.59M339 201.84h11.59M372.58 208.12h11.59M339 209.37h11.59M339 211.88h11.59M394.97 211.88h11.59M361.39 214.39h11.59M339 220.67h11.59M372.58 220.67h11.59M339 224.43h11.59M361.39 224.43h11.59M339 225.69h11.59M361.39 229.45h11.59M372.58 233.22h11.59M339 234.47h11.59M372.58 240.75h11.59M361.39 242h11.59M372.58 243.26h11.59M339 255.81h11.59M383.77 259.57h11.59M339 260.83h11.59M383.77 273.38h11.59M361.39 275.89h11.59M383.77 275.89h11.59M339 277.14h11.59M361.39 279.65h11.59M383.77 288.44h11.59M361.39 289.69h11.59M361.39 292.2h11.59M361.39 293.46h11.59M339 298.48h11.59M361.39 298.48h11.59M339 303.5h11.59M350.19 304.75h11.59" stroke="#92b7dc" stroke-width="1.55"/>
<path d="M462.13 61.28h11.59M394.97 63.79h11.59M495.71 63.79h11.19M450.93 65.05h11.59M462.13 68.81h11.59M462.13 70.07h11.59M495.71 72.58h11.19M473.32 78.85h11.59M462.13 82.62h11.59M495.71 88.89h11.19M495.71 90.15h11.19M484.51 91.4h11.59M428.55 93.91h11.59M495.71 95.17h11.19M484.51 101.44h11.59M462.13 106.46h11.59M428.55 110.23h11.59M406.16 117.76h11.59M428.55 119.01h11.59M439.74 120.27h11.59M428.55 124.03h11.59M406.16 140.35h11.59M428.55 141.6h11.59M495.71 146.62h11.19M428.55 151.64h11.59M406.16 164.19h11.59M428.55 171.72h11.59M495.71 174.23h11.19M417.35 181.76h11.59M361.39 185.53h11.59M372.58 186.78h11.59M406.16 186.78h11.59M339 188.04h11.59M361.39 189.29h11.59M394.97 189.29h11.59M339 190.55h11.59M339 193.06h11.59M339 195.57h11.59M361.39 199.33h11.59M361.39 200.59h11.59M372.58 200.59h11.59M361.39 201.84h11.59M339 204.35h11.59M361.39 204.35h11.59M372.58 206.86h11.59M394.97 210.63h11.59M383.77 211.88h11.59M394.97 213.14h11.59M372.58 214.39h11.59M383.77 220.67h11.59M394.97 223.18h11.59M394.97 225.69h11.59M361.39 228.2h11.59M361.39 233.22h11.59M339 235.73h11.59M361.39 243.26h11.59M350.19 249.53h11.59M361.39 252.04h11.59M361.39 255.81h11.59M350.19 259.57h11.59M350.19 260.83h11.59M361.39 260.83h11.59M339 262.08h11.59M383.77 267.1h11.59M406.16 270.87h11.59M383.77 272.12h11.59M339 275.89h11.59M383.77 279.65h11.59M339 287.18h11.59M361.39 287.18h11.59M383.77 289.69h11.59M339 294.71h11.59M350.19 294.71h11.59M339 295.97h11.59M383.77 302.24h11.59M361.39 309.77h11.59M372.58 309.77h11.59M383.77 309.77h11.59" stroke="#9dc0e0" stroke-width="1.55"/>
<path d="M394.97 65.05h11.59M495.71 65.05h11.19M394.97 66.3h11.59M406.16 72.58h11.59M462.13 75.09h11.59M495.71 75.09h11.19M462.13 76.34h11.59M495.71 76.34h11.19M439.74 80.11h11.59M428.55 81.36h11.59M495.71 91.4h11.19M495.71 93.91h11.19M484.51 97.68h11.59M495.71 98.93h11.19M428.55 100.19h11.59M495.71 100.19h11.19M462.13 101.44h11.59M473.32 101.44h11.59M462.13 111.48h11.59M495.71 111.48h11.19M462.13 112.74h11.59M495.71 113.99h11.19M428.55 126.54h11.59M428.55 130.31h11.59M406.16 131.56h11.59M428.55 136.58h11.59M394.97 139.09h11.59M428.55 144.11h11.59M394.97 146.62h11.59M428.55 154.15h11.59M406.16 155.41h11.59M439.74 164.19h11.59M406.16 165.45h11.59M428.55 165.45h11.59M439.74 166.7h11.59M406.16 171.72h11.59M428.55 175.49h11.59M495.71 175.49h11.19M350.19 184.27h11.59M394.97 184.27h11.59M339 185.53h11.59M361.39 190.55h11.59M394.97 190.55h11.59M350.19 191.8h11.59M383.77 191.8h11.59M372.58 195.57h11.59M339 196.82h11.59M394.97 203.1h11.59M394.97 204.35h11.59M339 205.61h11.59M372.58 209.37h11.59M350.19 211.88h11.59M339 213.14h11.59M339 216.9h11.59M394.97 218.16h11.59M406.16 218.16h11.59M372.58 219.41h11.59M350.19 221.92h11.59M372.58 221.92h11.59M394.97 228.2h11.59M350.19 234.47h11.59M361.39 236.98h11.59M350.19 239.49h11.59M361.39 240.75h11.59M339 249.53h11.59M339 252.04h11.59M428.55 253.3h11.59M339 254.55h11.59M350.19 257.06h11.59M350.19 258.32h11.59M383.77 260.83h11.59M339 269.61h11.59M394.97 270.87h11.59M350.19 275.89h11.59M372.58 277.14h11.59M350.19 279.65h11.59M350.19 280.91h11.59M350.19 284.67h11.59M361.39 290.95h11.59M383.77 290.95h11.59M350.19 292.2h11.59M339 297.22h11.59M383.77 298.48h11.59M339 299.73h11.59M361.39 299.73h11.59M383.77 299.73h11.59M383.77 300.99h11.59M339 302.24h11.59M339 306.01h11.59M350.19 306.01h11.59M383.77 306.01h11.59M361.39 307.26h11.59M383.77 307.26h11.59" stroke="#a6c6e3" stroke-width="1.55"/>
<path d="M462.13 60.03h11.59M495.71 60.03h11.19M473.32 62.54h11.59M495.71 62.54h11.19M484.51 63.79h11.59M406.16 68.81h11.59M428.55 76.34h11.59M473.32 77.6h11.59M495.71 77.6h11.19M484.51 78.85h11.59M495.71 83.87h11.19M394.97 86.38h11.59M439.74 86.38h11.59M473.32 95.17h11.59M428.55 96.42h11.59M406.16 97.68h11.59M495.71 97.68h11.19M484.51 100.19h11.59M406.16 103.95h11.59M428.55 107.72h11.59M495.71 112.74h11.19M462.13 115.25h11.59M428.55 117.76h11.59M495.71 119.01h11.19M439.74 131.56h11.59M495.71 135.33h11.19M406.16 141.6h11.59M406.16 142.86h11.59M417.35 146.62h11.59M484.51 146.62h11.59M417.35 147.88h11.59M495.71 147.88h11.19M417.35 149.13h11.59M417.35 151.64h11.59M417.35 157.92h11.59M439.74 159.17h11.59M406.16 160.43h11.59M495.71 160.43h11.19M406.16 161.68h11.59M439.74 162.94h11.59M417.35 172.98h11.59M428.55 179.25h11.59M484.51 181.76h11.59M339 186.78h11.59M383.77 193.06h11.59M339 194.31h11.59M394.97 196.82h11.59M339 199.33h11.59M372.58 201.84h11.59M339 203.1h11.59M372.58 203.1h11.59M339 206.86h11.59M339 208.12h11.59M361.39 209.37h11.59M350.19 210.63h11.59M361.39 210.63h11.59M350.19 216.9h11.59M339 219.41h11.59M361.39 220.67h11.59M339 221.92h11.59M394.97 221.92h11.59M383.77 226.94h11.59M361.39 235.73h11.59M339 236.98h11.59M350.19 238.24h11.59M350.19 242h11.59M383.77 242h11.59M339 243.26h11.59M372.58 244.51h11.59M372.58 247.02h11.59M383.77 249.53h11.59M372.58 250.79h11.59M383.77 250.79h11.59M383.77 252.04h11.59M350.19 255.81h11.59M383.77 255.81h11.59M361.39 257.06h11.59M383.77 257.06h11.59M383.77 264.59h11.59M372.58 265.85h11.59M383.77 269.61h11.59M394.97 269.61h11.59M361.39 273.38h11.59M339 278.4h11.59M383.77 278.4h11.59M339 288.44h11.59M361.39 288.44h11.59M383.77 292.2h11.59M383.77 293.46h11.59M361.39 294.71h11.59M361.39 295.97h11.59M361.39 297.22h11.59M394.97 297.22h11.59M394.97 299.73h11.59M339 300.99h11.59M361.39 300.99h11.59M383.77 303.5h11.59M350.19 308.52h11.59" stroke="#afcce6" stroke-width="1.55"/>
<path d="M473.32 60.03h11.59M484.51 65.05h11.59M473.32 67.56h11.59M495.71 68.81h11.19M394.97 70.07h11.59M406.16 73.83h11.59M406.16 77.6h11.59M484.51 77.6h11.59M406.16 78.85h11.59M439.74 78.85h11.59M406.16 80.11h11.59M473.32 80.11h11.59M495.71 80.11h11.19M495.71 81.36h11.19M462.13 83.87h11.59M439.74 85.13h11.59M473.32 86.38h11.59M484.51 90.15h11.59M439.74 91.4h11.59M428.55 92.66h11.59M495.71 92.66h11.19M428.55 95.17h11.59M473.32 96.42h11.59M462.13 97.68h11.59M428.55 98.93h11.59M484.51 98.93h11.59M406.16 100.19h11.59M450.93 100.19h11.59M439.74 101.44h11.59M450.93 101.44h11.59M473.32 102.7h11.59M428.55 106.46h11.59M495.71 107.72h11.19M484.51 108.97h11.59M495.71 108.97h11.19M394.97 111.48h11.59M428.55 111.48h11.59M484.51 113.99h11.59M462.13 116.5h11.59M495.71 117.76h11.19M462.13 120.27h11.59M495.71 120.27h11.19M428.55 121.52h11.59M495.71 121.52h11.19M495.71 125.29h11.19M484.51 132.82h11.59M428.55 134.07h11.59M439.74 136.58h11.59M484.51 139.09h11.59M495.71 139.09h11.19M495.71 144.11h11.19M406.16 146.62h11.59M484.51 147.88h11.59M428.55 150.39h11.59M450.93 151.64h11.59M428.55 155.41h11.59M495.71 155.41h11.19M428.55 160.43h11.59M450.93 161.68h11.59M406.16 162.94h11.59M484.51 165.45h11.59M484.51 167.96h11.59M450.93 169.21h11.59M439.74 171.72h11.59M406.16 176.74h11.59M450.93 176.74h11.59M439.74 179.25h11.59M439.74 180.51h11.59M450.93 191.8h11.59M350.19 193.06h11.59M450.93 193.06h11.59M394.97 194.31h11.59M339 198.08h11.59M394.97 201.84h11.59M372.58 204.35h11.59M361.39 205.61h11.59M394.97 205.61h11.59M394.97 206.86h11.59M361.39 208.12h11.59M406.16 209.37h11.59M383.77 210.63h11.59M394.97 214.39h11.59M406.16 221.92h11.59M339 223.18h11.59M361.39 223.18h11.59M372.58 223.18h11.59M339 226.94h11.59M383.77 228.2h11.59M339 229.45h11.59M372.58 231.96h11.59M383.77 234.47h11.59M339 238.24h11.59M339 244.51h11.59M339 248.28h11.59M350.19 248.28h11.59M361.39 249.53h11.59M339 253.3h11.59M383.77 253.3h11.59M361.39 254.55h11.59M383.77 254.55h11.59M339 263.34h11.59M339 264.59h11.59M350.19 264.59h11.59M383.77 265.85h11.59M361.39 268.36h11.59M339 272.12h11.59M339 273.38h11.59M350.19 274.63h11.59M361.39 274.63h11.59M383.77 274.63h11.59M372.58 275.89h11.59M383.77 277.14h11.59M372.58 278.4h11.59M372.58 279.65h11.59M383.77 280.91h11.59M339 282.16h11.59M350.19 282.16h11.59M383.77 282.16h11.59M339 283.42h11.59M383.77 283.42h11.59M339 284.67h11.59M361.39 284.67h11.59M383.77 284.67h11.59M339 289.69h11.59M350.19 289.69h11.59M339 292.2h11.59M372.58 293.46h11.59M372.58 294.71h11.59M372.58 295.97h11.59M383.77 295.97h11.59M350.19 297.22h11.59M394.97 298.48h11.59M361.39 304.75h11.59M361.39 306.01h11.59M394.97 307.26h11.59M372.58 308.52h11.59M350.19 309.77h11.59" stroke="#b8d2e8" stroke-width="1.55"/>
<path d="M406.16 61.28h11.59M439.74 61.28h11.59M484.51 61.28h11.59M439.74 62.54h11.59M484.51 62.54h11.59M439.74 63.79h11.59M450.93 63.79h11.59M450.93 66.3h11.59M484.51 66.3h11.59M495.71 66.3h11.19M484.51 67.56h11.59M473.32 68.81h11.59M495.71 70.07h11.19M495.71 71.32h11.19M406.16 76.34h11.59M473.32 76.34h11.59M394.97 77.6h11.59M417.35 77.6h11.59M484.51 81.36h11.59M428.55 83.87h11.59M473.32 87.64h11.59M484.51 87.64h11.59M394.97 88.89h11.59M462.13 91.4h11.59M406.16 93.91h11.59M484.51 95.17h11.59M473.32 100.19h11.59M406.16 102.7h11.59M462.13 107.72h11.59M394.97 108.97h11.59M406.16 108.97h11.59M428.55 108.97h11.59M462.13 110.23h11.59M406.16 112.74h11.59M439.74 113.99h11.59M428.55 115.25h11.59M439.74 115.25h11.59M495.71 116.5h11.19M462.13 117.76h11.59M473.32 117.76h11.59M406.16 119.01h11.59M473.32 120.27h11.59M484.51 130.31h11.59M495.71 132.82h11.19M495.71 136.58h11.19M406.16 137.84h11.59M439.74 137.84h11.59M450.93 137.84h11.59M495.71 137.84h11.19M439.74 141.6h11.59M495.71 142.86h11.19M439.74 146.62h11.59M439.74 147.88h11.59M406.16 154.15h11.59M450.93 156.66h11.59M428.55 157.92h11.59M439.74 157.92h11.59M428.55 159.17h11.59M439.74 165.45h11.59M484.51 166.7h11.59M439.74 167.96h11.59M439.74 172.98h11.59M417.35 174.23h11.59M439.74 174.23h11.59M439.74 176.74h11.59M417.35 180.51h11.59M450.93 180.51h11.59M406.16 181.76h11.59M439.74 181.76h11.59M450.93 185.53h11.59M350.19 188.04h11.59M394.97 188.04h11.59M339 189.29h11.59M383.77 196.82h11.59M394.97 199.33h11.59M361.39 203.1h11.59M350.19 204.35h11.59M350.19 205.61h11.59M383.77 205.61h11.59M361.39 206.86h11.59M350.19 213.14h11.59M339 214.39h11.59M361.39 215.65h11.59M372.58 215.65h11.59M372.58 216.9h11.59M339 218.16h11.59M372.58 218.16h11.59M361.39 221.92h11.59M383.77 221.92h11.59M339 228.2h11.59M350.19 228.2h11.59M361.39 231.96h11.59M350.19 233.22h11.59M383.77 233.22h11.59M383.77 239.49h11.59M350.19 240.75h11.59M339 245.77h11.59M372.58 245.77h11.59M339 247.02h11.59M361.39 248.28h11.59M372.58 257.06h11.59M383.77 258.32h11.59M406.16 264.59h11.59M339 265.85h11.59M350.19 265.85h11.59M339 267.1h11.59M350.19 267.1h11.59M372.58 267.1h11.59M428.55 267.1h11.59M350.19 268.36h11.59M372.58 268.36h11.59M350.19 273.38h11.59M350.19 277.14h11.59M350.19 278.4h11.59M350.19 283.42h11.59M361.39 283.42h11.59M361.39 285.93h11.59M383.77 285.93h11.59M350.19 287.18h11.59M462.13 287.18h11.59M339 290.95h11.59M350.19 290.95h11.59M383.77 294.71h11.59M383.77 297.22h11.59M372.58 300.99h11.59M350.19 302.24h11.59M372.58 302.24h11.59M350.19 303.5h11.59M372.58 303.5h11.59M394.97 303.5h11.59M372.58 304.75h11.59M350.19 307.26h11.59" stroke="#c1d7eb" stroke-width="1.55"/>
<path d="M450.93 61.28h11.59M495.71 61.28h11.19M450.93 67.56h11.59M450.93 68.81h11.59M450.93 70.07h11.59M394.97 71.32h11.59M439.74 71.32h11.59M473.32 72.58h11.59M428.55 73.83h11.59M428.55 75.09h11.59M484.51 75.09h11.59M417.35 76.34h11.59M462.13 77.6h11.59M495.71 78.85h11.19M428.55 80.11h11.59M484.51 80.11h11.59M439.74 83.87h11.59M406.16 85.13h11.59M439.74 87.64h11.59M439.74 90.15h11.59M484.51 92.66h11.59M462.13 96.42h11.59M428.55 97.68h11.59M394.97 100.19h11.59M406.16 106.46h11.59M450.93 108.97h11.59M484.51 110.23h11.59M406.16 111.48h11.59M439.74 112.74h11.59M484.51 115.25h11.59M495.71 115.25h11.19M406.16 116.5h11.59M439.74 116.5h11.59M484.51 116.5h11.59M439.74 117.76h11.59M406.16 120.27h11.59M462.13 121.52h11.59M473.32 121.52h11.59M406.16 122.78h11.59M450.93 122.78h11.59M450.93 124.03h11.59M484.51 129.05h11.59M394.97 131.56h11.59M417.35 131.56h11.59M439.74 132.82h11.59M394.97 134.07h11.59M484.51 134.07h11.59M484.51 135.33h11.59M484.51 136.58h11.59M439.74 139.09h11.59M394.97 140.35h11.59M484.51 140.35h11.59M406.16 147.88h11.59M394.97 149.13h11.59M484.51 151.64h11.59M439.74 154.15h11.59M484.51 154.15h11.59M450.93 159.17h11.59M439.74 160.43h11.59M495.71 165.45h11.19M406.16 166.7h11.59M406.16 170.47h11.59M417.35 170.47h11.59M439.74 170.47h11.59M450.93 171.72h11.59M406.16 172.98h11.59M450.93 172.98h11.59M450.93 174.23h11.59M484.51 174.23h11.59M439.74 175.49h11.59M484.51 176.74h11.59M450.93 178h11.59M484.51 180.51h11.59M473.32 181.76h11.59M450.93 184.27h11.59M350.19 185.53h11.59M406.16 185.53h11.59M383.77 188.04h11.59M406.16 188.04h11.59M350.19 189.29h11.59M406.16 194.31h11.59M406.16 195.57h11.59M350.19 196.82h11.59M383.77 200.59h11.59M394.97 200.59h11.59M350.19 209.37h11.59M383.77 213.14h11.59M350.19 214.39h11.59M339 215.65h11.59M350.19 215.65h11.59M406.16 215.65h11.59M361.39 216.9h11.59M361.39 219.41h11.59M394.97 220.67h11.59M350.19 223.18h11.59M350.19 224.43h11.59M350.19 225.69h11.59M383.77 225.69h11.59M350.19 231.96h11.59M350.19 243.26h11.59M350.19 244.51h11.59M361.39 247.02h11.59M383.77 248.28h11.59M372.58 249.53h11.59M350.19 250.79h11.59M361.39 250.79h11.59M428.55 250.79h11.59M350.19 252.04h11.59M372.58 252.04h11.59M372.58 254.55h11.59M372.58 258.32h11.59M361.39 259.57h11.59M372.58 260.83h11.59M350.19 262.08h11.59M361.39 262.08h11.59M383.77 262.08h11.59M350.19 263.34h11.59M406.16 263.34h11.59M361.39 264.59h11.59M372.58 264.59h11.59M428.55 269.61h11.59M339 270.87h11.59M383.77 270.87h11.59M428.55 270.87h11.59M372.58 280.91h11.59M372.58 282.16h11.59M473.32 283.42h11.59M462.13 284.67h11.59M339 285.93h11.59M350.19 285.93h11.59M372.58 287.18h11.59M350.19 288.44h11.59M406.16 290.95h11.59M372.58 292.2h11.59M339 293.46h11.59M372.58 299.73h11.59M361.39 302.24h11.59M372.58 307.26h11.59" stroke="#caddee" stroke-width="1.55"/>
<path d="M439.74 60.03h11.59M406.16 62.54h11.59M450.93 62.54h11.59M406.16 63.79h11.59M406.16 65.05h11.59M495.71 67.56h11.19M406.16 75.09h11.59M473.32 75.09h11.59M462.13 78.85h11.59M394.97 80.11h11.59M394.97 81.36h11.59M439.74 81.36h11.59M428.55 82.62h11.59M473.32 82.62h11.59M495.71 82.62h11.19M473.32 83.87h11.59M484.51 83.87h11.59M394.97 85.13h11.59M484.51 85.13h11.59M417.35 86.38h11.59M462.13 86.38h11.59M406.16 87.64h11.59M394.97 90.15h11.59M394.97 92.66h11.59M462.13 92.66h11.59M473.32 92.66h11.59M394.97 93.91h11.59M462.13 93.91h11.59M406.16 98.93h11.59M406.16 101.44h11.59M428.55 101.44h11.59M394.97 102.7h11.59M406.16 105.21h11.59M428.55 105.21h11.59M439.74 105.21h11.59M473.32 105.21h11.59M406.16 107.72h11.59M473.32 107.72h11.59M484.51 107.72h11.59M406.16 110.23h11.59M450.93 110.23h11.59M428.55 112.74h11.59M484.51 112.74h11.59M406.16 115.25h11.59M428.55 116.5h11.59M473.32 116.5h11.59M462.13 119.01h11.59M450.93 121.52h11.59M450.93 125.29h11.59M484.51 125.29h11.59M495.71 126.54h11.19M428.55 129.05h11.59M439.74 129.05h11.59M495.71 129.05h11.19M406.16 130.31h11.59M439.74 130.31h11.59M495.71 131.56h11.19M439.74 134.07h11.59M428.55 135.33h11.59M439.74 135.33h11.59M406.16 144.11h11.59M406.16 149.13h11.59M439.74 149.13h11.59M462.13 152.9h11.59M450.93 154.15h11.59M417.35 155.41h11.59M417.35 156.66h11.59M473.32 159.17h11.59M417.35 160.43h11.59M417.35 161.68h11.59M439.74 161.68h11.59M484.51 161.68h11.59M473.32 164.19h11.59M495.71 164.19h11.19M473.32 165.45h11.59M417.35 166.7h11.59M495.71 166.7h11.19M417.35 167.96h11.59M495.71 167.96h11.19M439.74 169.21h11.59M473.32 170.47h11.59M495.71 172.98h11.19M406.16 175.49h11.59M428.55 176.74h11.59M428.55 178h11.59M450.93 179.25h11.59M406.16 183.02h11.59M417.35 183.02h11.59M484.51 183.02h11.59M450.93 194.31h11.59M350.19 195.57h11.59M383.77 201.84h11.59M383.77 203.1h11.59M350.19 208.12h11.59M406.16 208.12h11.59M394.97 215.65h11.59M394.97 216.9h11.59M406.16 216.9h11.59M361.39 218.16h11.59M350.19 220.67h11.59M406.16 220.67h11.59M350.19 229.45h11.59M383.77 231.96h11.59M383.77 240.75h11.59M361.39 244.51h11.59M383.77 244.51h11.59M383.77 245.77h11.59M372.58 248.28h11.59M339 250.79h11.59M428.55 252.04h11.59M361.39 253.3h11.59M372.58 255.81h11.59M383.77 263.34h11.59M361.39 267.1h11.59M428.55 268.36h11.59M350.19 272.12h11.59M361.39 272.12h11.59M372.58 272.12h11.59M372.58 273.38h11.59M372.58 274.63h11.59M394.97 274.63h11.59M372.58 283.42h11.59M462.13 283.42h11.59M406.16 285.93h11.59M462.13 285.93h11.59M462.13 288.44h11.59M372.58 289.69h11.59M495.71 289.69h11.19M394.97 295.97h11.59" stroke="#d3e3f1" stroke-width="1.55"/>
<path d="M428.55 60.03h11.59M450.93 60.03h11.59M394.97 61.28h11.59M428.55 61.28h11.59M473.32 66.3h11.59M394.97 67.56h11.59M428.55 72.58h11.59M484.51 72.58h11.59M394.97 73.83h11.59M473.32 73.83h11.59M394.97 75.09h11.59M394.97 78.85h11.59M473.32 81.36h11.59M394.97 83.87h11.59M473.32 85.13h11.59M450.93 86.38h11.59M484.51 86.38h11.59M417.35 87.64h11.59M439.74 88.89h11.59M428.55 91.4h11.59M484.51 93.91h11.59M406.16 96.42h11.59M450.93 98.93h11.59M462.13 100.19h11.59M439.74 102.7h11.59M439.74 103.95h11.59M473.32 106.46h11.59M394.97 107.72h11.59M450.93 107.72h11.59M462.13 108.97h11.59M473.32 108.97h11.59M394.97 110.23h11.59M473.32 111.48h11.59M484.51 111.48h11.59M473.32 112.74h11.59M473.32 115.25h11.59M439.74 119.01h11.59M484.51 120.27h11.59M406.16 121.52h11.59M484.51 121.52h11.59M428.55 122.78h11.59M495.71 124.03h11.19M406.16 125.29h11.59M428.55 127.8h11.59M439.74 127.8h11.59M495.71 127.8h11.19M495.71 130.31h11.19M394.97 132.82h11.59M406.16 132.82h11.59M439.74 140.35h11.59M495.71 140.35h11.19M484.51 141.6h11.59M495.71 141.6h11.19M439.74 142.86h11.59M394.97 145.37h11.59M495.71 145.37h11.19M484.51 149.13h11.59M417.35 150.39h11.59M450.93 150.39h11.59M394.97 152.9h11.59M439.74 152.9h11.59M450.93 152.9h11.59M439.74 155.41h11.59M450.93 155.41h11.59M439.74 156.66h11.59M450.93 157.92h11.59M417.35 159.17h11.59M495.71 161.68h11.19M417.35 165.45h11.59M450.93 166.7h11.59M450.93 167.96h11.59M417.35 169.21h11.59M473.32 169.21h11.59M484.51 169.21h11.59M495.71 170.47h11.19M417.35 171.72h11.59M473.32 172.98h11.59M484.51 172.98h11.59M406.16 174.23h11.59M417.35 178h11.59M473.32 178h11.59M406.16 180.51h11.59M450.93 181.76h11.59M394.97 183.02h11.59M450.93 183.02h11.59M383.77 185.53h11.59M450.93 186.78h11.59M450.93 188.04h11.59M406.16 189.29h11.59M406.16 190.55h11.59M406.16 193.06h11.59M383.77 195.57h11.59M394.97 198.08h11.59M350.19 203.1h11.59M383.77 204.35h11.59M406.16 206.86h11.59M406.16 210.63h11.59M383.77 216.9h11.59M406.16 219.41h11.59M383.77 224.43h11.59M350.19 235.73h11.59M383.77 235.73h11.59M383.77 236.98h11.59M383.77 238.24h11.59M383.77 243.26h11.59M428.55 258.32h11.59M361.39 263.34h11.59M361.39 265.85h11.59M428.55 265.85h11.59M394.97 268.36h11.59M350.19 269.61h11.59M372.58 269.61h11.59M406.16 269.61h11.59M473.32 269.61h11.59M417.35 272.12h11.59M462.13 272.12h11.59M394.97 275.89h11.59M361.39 277.14h11.59M394.97 279.65h11.59M361.39 303.5h11.59M372.58 306.01h11.59" stroke="#d9e6f2" stroke-width="1.55"/>
<path d="M394.97 60.03h11.59M473.32 63.79h11.59M406.16 66.3h11.59M406.16 67.56h11.59M484.51 68.81h11.59M473.32 70.07h11.59M428.55 71.32h11.59M450.93 71.32h11.59M473.32 71.32h11.59M484.51 71.32h11.59M394.97 72.58h11.59M439.74 72.58h11.59M484.51 73.83h11.59M450.93 75.09h11.59M428.55 77.6h11.59M439.74 77.6h11.59M450.93 85.13h11.59M406.16 86.38h11.59M406.16 88.89h11.59M484.51 88.89h11.59M406.16 91.4h11.59M394.97 95.17h11.59M406.16 95.17h11.59M473.32 97.68h11.59M439.74 100.19h11.59M428.55 102.7h11.59M428.55 103.95h11.59M450.93 105.21h11.59M450.93 106.46h11.59M473.32 110.23h11.59M417.35 112.74h11.59M462.13 113.99h11.59M473.32 119.01h11.59M484.51 122.78h11.59M406.16 124.03h11.59M439.74 125.29h11.59M406.16 127.8h11.59M406.16 129.05h11.59M394.97 130.31h11.59M417.35 132.82h11.59M450.93 134.07h11.59M450.93 139.09h11.59M394.97 141.6h11.59M394.97 144.11h11.59M406.16 145.37h11.59M417.35 145.37h11.59M450.93 147.88h11.59M406.16 150.39h11.59M406.16 151.64h11.59M417.35 152.9h11.59M484.51 152.9h11.59M394.97 154.15h11.59M484.51 155.41h11.59M406.16 156.66h11.59M495.71 156.66h11.19M406.16 157.92h11.59M406.16 159.17h11.59M495.71 159.17h11.19M450.93 160.43h11.59M417.35 162.94h11.59M450.93 162.94h11.59M484.51 162.94h11.59M450.93 164.19h11.59M484.51 164.19h11.59M450.93 165.45h11.59M495.71 169.21h11.19M495.71 171.72h11.19M450.93 175.49h11.59M406.16 178h11.59M439.74 178h11.59M417.35 179.25h11.59M473.32 179.25h11.59M350.19 186.78h11.59M450.93 189.29h11.59M350.19 190.55h11.59M450.93 190.55h11.59M394.97 191.8h11.59M394.97 193.06h11.59M383.77 194.31h11.59M350.19 198.08h11.59M406.16 199.33h11.59M350.19 200.59h11.59M350.19 201.84h11.59M383.77 209.37h11.59M383.77 214.39h11.59M383.77 215.65h11.59M383.77 219.41h11.59M350.19 226.94h11.59M383.77 229.45h11.59M394.97 236.98h11.59M350.19 254.55h11.59M394.97 257.06h11.59M372.58 259.57h11.59M417.35 259.57h11.59M428.55 259.57h11.59M406.16 262.08h11.59M462.13 267.1h11.59M462.13 268.36h11.59M473.32 268.36h11.59M462.13 269.61h11.59M462.13 270.87h11.59M473.32 270.87h11.59M361.39 278.4h11.59M473.32 282.16h11.59M406.16 283.42h11.59M406.16 284.67h11.59M473.32 284.67h11.59M372.58 285.93h11.59M495.71 285.93h11.19M372.58 290.95h11.59M394.97 294.71h11.59M372.58 297.22h11.59M394.97 300.99h11.59M495.71 306.01h11.19M495.71 307.26h11.19" stroke="#dfeaf3" stroke-width="1.55"/>
<path d="M484.51 60.03h11.59M428.55 63.79h11.59M439.74 67.56h11.59M428.55 70.07h11.59M417.35 78.85h11.59M428.55 78.85h11.59M406.16 81.36h11.59M439.74 82.62h11.59M406.16 83.87h11.59M450.93 90.15h11.59M394.97 91.4h11.59M406.16 92.66h11.59M473.32 93.91h11.59M439.74 95.17h11.59M394.97 96.42h11.59M450.93 102.7h11.59M417.35 110.23h11.59M450.93 111.48h11.59M450.93 112.74h11.59M417.35 113.99h11.59M428.55 113.99h11.59M450.93 115.25h11.59M484.51 117.76h11.59M450.93 120.27h11.59M417.35 121.52h11.59M439.74 124.03h11.59M417.35 125.29h11.59M484.51 126.54h11.59M462.13 127.8h11.59M484.51 127.8h11.59M394.97 129.05h11.59M417.35 130.31h11.59M417.35 135.33h11.59M406.16 136.58h11.59M450.93 136.58h11.59M417.35 137.84h11.59M417.35 141.6h11.59M394.97 142.86h11.59M484.51 142.86h11.59M439.74 144.11h11.59M473.32 144.11h11.59M484.51 145.37h11.59M394.97 150.39h11.59M484.51 150.39h11.59M394.97 151.64h11.59M406.16 152.9h11.59M495.71 154.15h11.19M484.51 156.66h11.59M462.13 160.43h11.59M484.51 160.43h11.59M417.35 164.19h11.59M473.32 166.7h11.59M406.16 167.96h11.59M484.51 171.72h11.59M394.97 176.74h11.59M394.97 178h11.59M484.51 178h11.59M484.51 179.25h11.59M473.32 180.51h11.59M439.74 183.02h11.59M462.13 183.02h11.59M406.16 184.27h11.59M383.77 186.78h11.59M383.77 189.29h11.59M406.16 196.82h11.59M383.77 198.08h11.59M350.19 199.33h11.59M350.19 206.86h11.59M383.77 206.86h11.59M406.16 214.39h11.59M383.77 223.18h11.59M383.77 230.71h11.59M361.39 245.77h11.59M383.77 247.02h11.59M372.58 253.3h11.59M439.74 253.3h11.59M428.55 254.55h11.59M361.39 258.32h11.59M394.97 258.32h11.59M417.35 258.32h11.59M372.58 262.08h11.59M439.74 262.08h11.59M417.35 263.34h11.59M439.74 263.34h11.59M350.19 270.87h11.59M406.16 272.12h11.59M417.35 273.38h11.59M473.32 274.63h11.59M439.74 275.89h11.59M394.97 280.91h11.59M462.13 282.16h11.59M372.58 284.67h11.59M495.71 284.67h11.19M394.97 285.93h11.59M372.58 288.44h11.59M495.71 288.44h11.19M406.16 289.69h11.59M394.97 290.95h11.59M394.97 292.2h11.59M372.58 298.48h11.59M394.97 302.24h11.59" stroke="#e5edf4" stroke-width="1.55"/>
<path d="M417.35 60.03h11.59M473.32 65.05h11.59M484.51 70.07h11.59M450.93 73.83h11.59M439.74 76.34h11.59M450.93 76.34h11.59M394.97 82.62h11.59M462.13 85.13h11.59M450.93 87.64h11.59M406.16 90.15h11.59M417.35 90.15h11.59M439.74 92.66h11.59M417.35 93.91h11.59M462.13 95.17h11.59M417.35 96.42h11.59M439.74 96.42h11.59M417.35 97.68h11.59M439.74 97.68h11.59M439.74 98.93h11.59M462.13 98.93h11.59M473.32 98.93h11.59M417.35 100.19h11.59M394.97 103.95h11.59M484.51 105.21h11.59M394.97 106.46h11.59M484.51 106.46h11.59M484.51 119.01h11.59M439.74 121.52h11.59M495.71 122.78h11.19M473.32 124.03h11.59M484.51 124.03h11.59M462.13 125.29h11.59M439.74 126.54h11.59M462.13 129.05h11.59M450.93 131.56h11.59M473.32 131.56h11.59M406.16 134.07h11.59M417.35 134.07h11.59M450.93 135.33h11.59M417.35 139.09h11.59M450.93 140.35h11.59M473.32 142.86h11.59M450.93 144.11h11.59M462.13 144.11h11.59M450.93 146.62h11.59M439.74 150.39h11.59M473.32 154.15h11.59M394.97 155.41h11.59M394.97 156.66h11.59M462.13 157.92h11.59M484.51 157.92h11.59M495.71 162.94h11.19M462.13 166.7h11.59M462.13 167.96h11.59M473.32 167.96h11.59M462.13 174.23h11.59M462.13 175.49h11.59M473.32 175.49h11.59M417.35 176.74h11.59M473.32 176.74h11.59M406.16 179.25h11.59M462.13 181.76h11.59M406.16 191.8h11.59M383.77 199.33h11.59M484.51 199.33h11.59M406.16 203.1h11.59M383.77 208.12h11.59M484.51 215.65h11.59M406.16 223.18h11.59M350.19 236.98h11.59M394.97 240.75h11.59M394.97 244.51h11.59M406.16 245.77h11.59M439.74 245.77h11.59M484.51 253.3h11.59M439.74 254.55h11.59M484.51 254.55h11.59M417.35 255.81h11.59M417.35 257.06h11.59M394.97 259.57h11.59M417.35 262.08h11.59M372.58 263.34h11.59M417.35 264.59h11.59M394.97 267.1h11.59M439.74 268.36h11.59M361.39 269.61h11.59M462.13 273.38h11.59M462.13 274.63h11.59M394.97 278.4h11.59M473.32 280.91h11.59M473.32 285.93h11.59M394.97 287.18h11.59M462.13 289.69h11.59M394.97 293.46h11.59M495.71 295.97h11.19M394.97 306.01h11.59M439.74 307.26h11.59M406.16 308.52h11.59" stroke="#ebf0f5" stroke-width="1.55"/>
<path d="M394.97 62.54h11.59M428.55 62.54h11.59M439.74 65.05h11.59M439.74 66.3h11.59M450.93 72.58h11.59M439.74 73.83h11.59M450.93 81.36h11.59M406.16 82.62h11.59M484.51 82.62h11.59M417.35 88.89h11.59M450.93 88.89h11.59M473.32 88.89h11.59M473.32 90.15h11.59M417.35 91.4h11.59M473.32 91.4h11.59M450.93 92.66h11.59M417.35 101.44h11.59M417.35 103.95h11.59M450.93 103.95h11.59M417.35 111.48h11.59M439.74 111.48h11.59M394.97 113.99h11.59M473.32 113.99h11.59M450.93 116.5h11.59M450.93 119.01h11.59M473.32 122.78h11.59M417.35 126.54h11.59M450.93 132.82h11.59M406.16 135.33h11.59M462.13 142.86h11.59M439.74 145.37h11.59M473.32 146.62h11.59M495.71 149.13h11.19M439.74 151.64h11.59M462.13 151.64h11.59M495.71 151.64h11.19M495.71 152.9h11.19M473.32 155.41h11.59M462.13 156.66h11.59M394.97 157.92h11.59M495.71 157.92h11.19M473.32 160.43h11.59M406.16 169.21h11.59M462.13 169.21h11.59M462.13 170.47h11.59M484.51 170.47h11.59M462.13 171.72h11.59M473.32 171.72h11.59M473.32 174.23h11.59M495.71 180.51h11.19M394.97 181.76h11.59M495.71 181.76h11.19M495.71 183.02h11.19M484.51 188.04h11.59M383.77 190.55h11.59M406.16 204.35h11.59M406.16 213.14h11.59M439.74 215.65h11.59M383.77 218.16h11.59M350.19 219.41h11.59M417.35 225.69h11.59M394.97 238.24h11.59M394.97 239.49h11.59M406.16 239.49h11.59M394.97 245.77h11.59M350.19 247.02h11.59M406.16 247.02h11.59M428.55 249.53h11.59M350.19 253.3h11.59M406.16 254.55h11.59M428.55 257.06h11.59M406.16 258.32h11.59M406.16 260.83h11.59M406.16 265.85h11.59M361.39 270.87h11.59M372.58 270.87h11.59M417.35 270.87h11.59M394.97 272.12h11.59M394.97 273.38h11.59M417.35 274.63h11.59M439.74 282.16h11.59M484.51 282.16h11.59M406.16 287.18h11.59M473.32 290.95h11.59M495.71 292.2h11.19M394.97 304.75h11.59" stroke="#f1f4f6" stroke-width="1.55"/>
<path d="M406.16 60.03h11.59M417.35 61.28h11.59M428.55 65.05h11.59M450.93 77.6h11.59M417.35 80.11h11.59M450.93 82.62h11.59M450.93 91.4h11.59M439.74 93.91h11.59M450.93 93.91h11.59M417.35 95.17h11.59M394.97 97.68h11.59M417.35 98.93h11.59M439.74 106.46h11.59M417.35 107.72h11.59M417.35 116.5h11.59M450.93 117.76h11.59M462.13 124.03h11.59M462.13 126.54h11.59M450.93 127.8h11.59M417.35 129.05h11.59M462.13 130.31h11.59M462.13 131.56h11.59M473.32 132.82h11.59M417.35 140.35h11.59M417.35 142.86h11.59M484.51 144.11h11.59M450.93 149.13h11.59M417.35 154.15h11.59M462.13 154.15h11.59M394.97 159.17h11.59M417.35 175.49h11.59M462.13 178h11.59M495.71 178h11.19M394.97 179.25h11.59M462.13 179.25h11.59M495.71 179.25h11.19M462.13 180.51h11.59M484.51 189.29h11.59M484.51 193.06h11.59M350.19 194.31h11.59M484.51 194.31h11.59M473.32 195.57h11.59M406.16 198.08h11.59M484.51 198.08h11.59M484.51 200.59h11.59M439.74 204.35h11.59M484.51 204.35h11.59M406.16 211.88h11.59M484.51 214.39h11.59M417.35 229.45h11.59M406.16 233.22h11.59M439.74 236.98h11.59M406.16 244.51h11.59M417.35 254.55h11.59M428.55 255.81h11.59M417.35 260.83h11.59M394.97 262.08h11.59M417.35 265.85h11.59M473.32 267.1h11.59M473.32 272.12h11.59M394.97 277.14h11.59M484.51 277.14h11.59M473.32 278.4h11.59M495.71 278.4h11.19M439.74 279.65h11.59M394.97 282.16h11.59M495.71 283.42h11.19M495.71 287.18h11.19M406.16 288.44h11.59M406.16 295.97h11.59M450.93 300.99h11.59M406.16 303.5h11.59M394.97 308.52h11.59M394.97 309.77h11.59" stroke="#f7f7f7" stroke-width="1.55"/>
<path d="M417.35 62.54h11.59M417.35 66.3h11.59M417.35 67.56h11.59M428.55 68.81h11.59M417.35 70.07h11.59M439.74 70.07h11.59M450.93 78.85h11.59M450.93 80.11h11.59M417.35 92.66h11.59M450.93 97.68h11.59M394.97 105.21h11.59M417.35 105.21h11.59M417.35 106.46h11.59M450.93 113.99h11.59M394.97 121.52h11.59M417.35 122.78h11.59M394.97 125.29h11.59M473.32 125.29h11.59M473.32 126.54h11.59M450.93 130.31h11.59M372.58 134.07h11.59M462.13 135.33h11.59M417.35 136.58h11.59M462.13 136.58h11.59M462.13 137.84h11.59M462.13 140.35h11.59M450.93 141.6h11.59M450.93 145.37h11.59M495.71 150.39h11.19M462.13 155.41h11.59M484.51 159.17h11.59M473.32 162.94h11.59M462.13 165.45h11.59M361.39 171.72h11.59M462.13 176.74h11.59M495.71 176.74h11.19M473.32 183.02h11.59M495.71 186.78h11.19M495.71 198.08h11.19M495.71 199.33h11.19M406.16 200.59h11.59M439.74 205.61h11.59M350.19 218.16h11.59M439.74 218.16h11.59M450.93 220.67h11.59M406.16 224.43h11.59M394.97 229.45h11.59M394.97 233.22h11.59M406.16 234.47h11.59M394.97 235.73h11.59M406.16 235.73h11.59M439.74 235.73h11.59M406.16 240.75h11.59M394.97 242h11.59M406.16 242h11.59M394.97 243.26h11.59M350.19 245.77h11.59M439.74 247.02h11.59M406.16 248.28h11.59M428.55 248.28h11.59M394.97 253.3h11.59M406.16 255.81h11.59M406.16 257.06h11.59M394.97 263.34h11.59M428.55 263.34h11.59M394.97 265.85h11.59M417.35 267.1h11.59M439.74 267.1h11.59M417.35 269.61h11.59M428.55 272.12h11.59M439.74 272.12h11.59M473.32 273.38h11.59M462.13 278.4h11.59M473.32 279.65h11.59M462.13 280.91h11.59M484.51 283.42h11.59M394.97 284.67h11.59M394.97 288.44h11.59M462.13 290.95h11.59M406.16 292.2h11.59M439.74 292.2h11.59M495.71 293.46h11.19M439.74 295.97h11.59M462.13 297.22h11.59M428.55 298.48h11.59M417.35 300.99h11.59M417.35 302.24h11.59M406.16 307.26h11.59M406.16 309.77h11.59" stroke="#f8f2ef" stroke-width="1.55"/>
<path d="M394.97 68.81h11.59M439.74 68.81h11.59M417.35 71.32h11.59M439.74 75.09h11.59M450.93 83.87h11.59M417.35 85.13h11.59M450.93 95.17h11.59M450.93 96.42h11.59M394.97 98.93h11.59M417.35 108.97h11.59M394.97 119.01h11.59M394.97 120.27h11.59M417.35 124.03h11.59M361.39 126.54h11.59M406.16 126.54h11.59M473.32 127.8h11.59M450.93 129.05h11.59M473.32 129.05h11.59M473.32 134.07h11.59M372.58 135.33h11.59M473.32 135.33h11.59M462.13 139.09h11.59M462.13 141.6h11.59M372.58 145.37h11.59M473.32 145.37h11.59M361.39 150.39h11.59M462.13 159.17h11.59M473.32 161.68h11.59M462.13 172.98h11.59M394.97 174.23h11.59M394.97 180.51h11.59M439.74 184.27h11.59M495.71 190.55h11.19M484.51 196.82h11.59M439.74 198.08h11.59M406.16 201.84h11.59M417.35 204.35h11.59M406.16 205.61h11.59M417.35 205.61h11.59M484.51 206.86h11.59M439.74 208.12h11.59M495.71 209.37h11.19M417.35 210.63h11.59M484.51 211.88h11.59M484.51 213.14h11.59M439.74 216.9h11.59M484.51 216.9h11.59M473.32 219.41h11.59M417.35 223.18h11.59M428.55 223.18h11.59M417.35 226.94h11.59M417.35 228.2h11.59M417.35 236.98h11.59M439.74 238.24h11.59M428.55 242h11.59M473.32 244.51h11.59M417.35 250.79h11.59M417.35 252.04h11.59M473.32 253.3h11.59M394.97 255.81h11.59M484.51 255.81h11.59M484.51 258.32h11.59M439.74 259.57h11.59M450.93 264.59h11.59M406.16 268.36h11.59M417.35 268.36h11.59M439.74 270.87h11.59M406.16 274.63h11.59M462.13 275.89h11.59M484.51 275.89h11.59M462.13 277.14h11.59M450.93 278.4h11.59M406.16 279.65h11.59M394.97 283.42h11.59M394.97 289.69h11.59M473.32 289.69h11.59M495.71 290.95h11.19M439.74 293.46h11.59M439.74 294.71h11.59M473.32 295.97h11.59M428.55 297.22h11.59M462.13 298.48h11.59M473.32 298.48h11.59M428.55 299.73h11.59M495.71 300.99h11.19M406.16 302.24h11.59M495.71 308.52h11.19" stroke="#f9eee7" stroke-width="1.55"/>
<path d="M428.55 67.56h11.59M417.35 75.09h11.59M372.58 82.62h11.59M350.19 97.68h11.59M439.74 110.23h11.59M462.13 122.78h11.59M372.58 127.8h11.59M394.97 127.8h11.59M473.32 137.84h11.59M450.93 142.86h11.59M417.35 144.11h11.59M473.32 147.88h11.59M462.13 150.39h11.59M473.32 156.66h11.59M473.32 157.92h11.59M462.13 161.68h11.59M394.97 175.49h11.59M361.39 179.25h11.59M473.32 185.53h11.59M439.74 186.78h11.59M439.74 193.06h11.59M428.55 195.57h11.59M439.74 199.33h11.59M484.51 208.12h11.59M417.35 215.65h11.59M439.74 219.41h11.59M484.51 220.67h11.59M417.35 221.92h11.59M406.16 228.2h11.59M394.97 231.96h11.59M439.74 231.96h11.59M406.16 236.98h11.59M406.16 238.24h11.59M439.74 239.49h11.59M439.74 242h11.59M428.55 243.26h11.59M439.74 244.51h11.59M439.74 248.28h11.59M394.97 249.53h11.59M394.97 250.79h11.59M439.74 250.79h11.59M394.97 252.04h11.59M394.97 254.55h11.59M439.74 258.32h11.59M406.16 259.57h11.59M394.97 260.83h11.59M428.55 264.59h11.59M450.93 270.87h11.59M406.16 273.38h11.59M439.74 273.38h11.59M473.32 275.89h11.59M439.74 277.14h11.59M450.93 277.14h11.59M473.32 277.14h11.59M484.51 278.4h11.59M406.16 282.16h11.59M495.71 282.16h11.19M473.32 287.18h11.59M484.51 287.18h11.59M473.32 288.44h11.59M439.74 290.95h11.59M495.71 294.71h11.19M406.16 297.22h11.59M495.71 298.48h11.19M473.32 299.73h11.59M406.16 300.99h11.59M450.93 302.24h11.59M450.93 303.5h11.59M484.51 303.5h11.59M495.71 303.5h11.19M495.71 304.75h11.19M439.74 308.52h11.59M439.74 309.77h11.59" stroke="#fae9df" stroke-width="1.55"/>
<path d="M417.35 63.79h11.59M417.35 65.05h11.59M428.55 66.3h11.59M417.35 82.62h11.59M372.58 83.87h11.59M350.19 98.93h11.59M417.35 102.7h11.59M439.74 107.72h11.59M439.74 108.97h11.59M417.35 115.25h11.59M417.35 117.76h11.59M417.35 119.01h11.59M417.35 120.27h11.59M439.74 122.78h11.59M394.97 124.03h11.59M372.58 126.54h11.59M417.35 127.8h11.59M372.58 129.05h11.59M361.39 130.31h11.59M473.32 130.31h11.59M372.58 132.82h11.59M462.13 132.82h11.59M361.39 135.33h11.59M473.32 136.58h11.59M473.32 139.09h11.59M473.32 141.6h11.59M372.58 144.11h11.59M462.13 145.37h11.59M462.13 146.62h11.59M462.13 147.88h11.59M372.58 149.13h11.59M462.13 149.13h11.59M361.39 157.92h11.59M361.39 172.98h11.59M473.32 184.27h11.59M439.74 185.53h11.59M484.51 190.55h11.59M484.51 191.8h11.59M473.32 194.31h11.59M484.51 203.1h11.59M473.32 206.86h11.59M473.32 209.37h11.59M495.71 210.63h11.19M417.35 211.88h11.59M439.74 214.39h11.59M473.32 218.16h11.59M417.35 219.41h11.59M428.55 221.92h11.59M439.74 221.92h11.59M450.93 221.92h11.59M439.74 223.18h11.59M417.35 224.43h11.59M428.55 224.43h11.59M394.97 230.71h11.59M417.35 230.71h11.59M406.16 231.96h11.59M428.55 233.22h11.59M417.35 235.73h11.59M428.55 236.98h11.59M406.16 243.26h11.59M439.74 243.26h11.59M473.32 245.77h11.59M439.74 249.53h11.59M450.93 250.79h11.59M439.74 252.04h11.59M406.16 253.3h11.59M473.32 258.32h11.59M473.32 259.57h11.59M473.32 263.34h11.59M439.74 264.59h11.59M473.32 265.85h11.59M406.16 267.1h11.59M439.74 269.61h11.59M484.51 270.87h11.59M484.51 272.12h11.59M439.74 274.63h11.59M495.71 274.63h11.19M406.16 275.89h11.59M495.71 277.14h11.19M439.74 280.91h11.59M439.74 283.42h11.59M450.93 283.42h11.59M484.51 284.67h11.59M439.74 288.44h11.59M484.51 288.44h11.59M473.32 292.2h11.59M406.16 293.46h11.59M428.55 295.97h11.59M439.74 297.22h11.59M495.71 297.22h11.19M462.13 299.73h11.59M484.51 302.24h11.59M495.71 302.24h11.19M462.13 303.5h11.59M406.16 304.75h11.59M439.74 304.75h11.59M484.51 304.75h11.59M406.16 306.01h11.59M428.55 306.01h11.59M439.74 306.01h11.59" stroke="#fbe4d7" stroke-width="1.55"/>
<path d="M350.19 66.3h11.59M417.35 68.81h11.59M417.35 72.58h11.59M350.19 75.09h11.59M372.58 81.36h11.59M339 82.62h11.59M417.35 83.87h11.59M394.97 117.76h11.59M372.58 122.78h11.59M450.93 126.54h11.59M361.39 134.07h11.59M361.39 149.13h11.59M350.19 150.39h11.59M473.32 152.9h11.59M462.13 162.94h11.59M394.97 172.98h11.59M372.58 178h11.59M495.71 184.27h11.19M495.71 188.04h11.19M439.74 190.55h11.59M439.74 194.31h11.59M484.51 195.57h11.59M428.55 196.82h11.59M495.71 196.82h11.19M428.55 200.59h11.59M484.51 201.84h11.59M439.74 206.86h11.59M428.55 210.63h11.59M484.51 210.63h11.59M473.32 215.65h11.59M484.51 218.16h11.59M484.51 219.41h11.59M450.93 223.18h11.59M462.13 228.2h11.59M439.74 229.45h11.59M439.74 230.71h11.59M428.55 231.96h11.59M428.55 234.47h11.59M473.32 236.98h11.59M473.32 243.26h11.59M428.55 244.51h11.59M428.55 245.77h11.59M394.97 247.02h11.59M394.97 248.28h11.59M417.35 249.53h11.59M473.32 250.79h11.59M473.32 252.04h11.59M417.35 253.3h11.59M439.74 255.81h11.59M428.55 260.83h11.59M439.74 265.85h11.59M484.51 273.38h11.59M495.71 273.38h11.19M406.16 278.4h11.59M439.74 278.4h11.59M484.51 279.65h11.59M495.71 279.65h11.19M406.16 280.91h11.59M484.51 280.91h11.59M495.71 280.91h11.19M406.16 294.71h11.59M450.93 295.97h11.59M473.32 297.22h11.59M495.71 299.73h11.19M473.32 300.99h11.59M473.32 302.24h11.59M417.35 306.01h11.59M428.55 307.26h11.59M417.35 309.77h11.59" stroke="#fce0cf" stroke-width="1.55"/>
<path d="M417.35 73.83h11.59M350.19 83.87h11.59M350.19 100.19h11.59M383.77 115.25h11.59M372.58 130.31h11.59M462.13 134.07h11.59M361.39 136.58h11.59M372.58 142.86h11.59M339 145.37h11.59M372.58 150.39h11.59M361.39 175.49h11.59M361.39 178h11.59M372.58 181.76h11.59M372.58 183.02h11.59M383.77 184.27h11.59M484.51 185.53h11.59M495.71 185.53h11.19M473.32 186.78h11.59M439.74 191.8h11.59M495.71 191.8h11.19M417.35 194.31h11.59M495.71 195.57h11.19M439.74 196.82h11.59M473.32 200.59h11.59M439.74 203.1h11.59M495.71 203.1h11.19M484.51 205.61h11.59M417.35 208.12h11.59M428.55 208.12h11.59M473.32 208.12h11.59M439.74 209.37h11.59M450.93 210.63h11.59M473.32 210.63h11.59M417.35 218.16h11.59M439.74 220.67h11.59M439.74 224.43h11.59M428.55 225.69h11.59M462.13 226.94h11.59M473.32 226.94h11.59M406.16 229.45h11.59M428.55 235.73h11.59M439.74 240.75h11.59M462.13 242h11.59M450.93 245.77h11.59M428.55 247.02h11.59M439.74 260.83h11.59M428.55 262.08h11.59M484.51 264.59h11.59M484.51 265.85h11.59M495.71 270.87h11.19M484.51 274.63h11.59M406.16 277.14h11.59M462.13 279.65h11.59M439.74 284.67h11.59M439.74 287.18h11.59M450.93 292.2h11.59M473.32 293.46h11.59M450.93 294.71h11.59M473.32 294.71h11.59M462.13 295.97h11.59M484.51 297.22h11.59M439.74 298.48h11.59M484.51 298.48h11.59M439.74 299.73h11.59M428.55 300.99h11.59M484.51 300.99h11.59M439.74 302.24h11.59M428.55 303.5h11.59M450.93 304.75h11.59M462.13 309.77h11.59" stroke="#fddbc7" stroke-width="1.55"/>
<path d="M339 81.36h11.59M383.77 82.62h11.59M372.58 95.17h11.59M383.77 96.42h11.59M350.19 105.21h11.59M372.58 124.03h11.59M372.58 136.58h11.59M361.39 139.09h11.59M473.32 140.35h11.59M372.58 147.88h11.59M383.77 149.13h11.59M473.32 149.13h11.59M372.58 152.9h11.59M372.58 154.15h11.59M372.58 155.41h11.59M350.19 157.92h11.59M361.39 159.17h11.59M361.39 160.43h11.59M350.19 170.47h11.59M361.39 170.47h11.59M350.19 171.72h11.59M372.58 175.49h11.59M361.39 176.74h11.59M372.58 176.74h11.59M372.58 179.25h11.59M372.58 180.51h11.59M484.51 184.27h11.59M484.51 186.78h11.59M439.74 188.04h11.59M428.55 194.31h11.59M428.55 199.33h11.59M439.74 200.59h11.59M495.71 200.59h11.19M462.13 203.1h11.59M473.32 203.1h11.59M495.71 206.86h11.19M417.35 209.37h11.59M473.32 214.39h11.59M417.35 216.9h11.59M462.13 219.41h11.59M417.35 220.67h11.59M473.32 221.92h11.59M473.32 223.18h11.59M439.74 225.69h11.59M406.16 226.94h11.59M428.55 226.94h11.59M495.71 229.45h11.19M417.35 231.96h11.59M462.13 231.96h11.59M417.35 233.22h11.59M394.97 234.47h11.59M439.74 234.47h11.59M462.13 235.73h11.59M462.13 236.98h11.59M450.93 240.75h11.59M417.35 242h11.59M417.35 244.51h11.59M484.51 244.51h11.59M417.35 245.77h11.59M417.35 247.02h11.59M406.16 249.53h11.59M473.32 249.53h11.59M484.51 249.53h11.59M450.93 252.04h11.59M450.93 258.32h11.59M484.51 259.57h11.59M450.93 272.12h11.59M450.93 275.89h11.59M495.71 275.89h11.19M484.51 285.93h11.59M439.74 289.69h11.59M462.13 292.2h11.59M450.93 293.46h11.59M462.13 294.71h11.59M484.51 294.71h11.59M450.93 297.22h11.59M417.35 303.5h11.59M439.74 303.5h11.59M417.35 304.75h11.59M417.35 307.26h11.59M462.13 307.26h11.59M417.35 308.52h11.59M428.55 308.52h11.59M495.71 309.77h11.19" stroke="#fcd2bb" stroke-width="1.55"/>
<path d="M372.58 70.07h11.59M350.19 73.83h11.59M372.58 80.11h11.59M417.35 81.36h11.59M350.19 82.62h11.59M339 83.87h11.59M372.58 85.13h11.59M350.19 90.15h11.59M350.19 92.66h11.59M350.19 96.42h11.59M372.58 96.42h11.59M372.58 98.93h11.59M372.58 115.25h11.59M372.58 117.76h11.59M394.97 122.78h11.59M383.77 126.54h11.59M394.97 126.54h11.59M383.77 129.05h11.59M372.58 131.56h11.59M361.39 137.84h11.59M361.39 140.35h11.59M350.19 141.6h11.59M361.39 141.6h11.59M361.39 147.88h11.59M350.19 149.13h11.59M339 150.39h11.59M383.77 150.39h11.59M339 151.64h11.59M473.32 151.64h11.59M350.19 156.66h11.59M372.58 156.66h11.59M372.58 157.92h11.59M372.58 160.43h11.59M350.19 162.94h11.59M361.39 164.19h11.59M462.13 164.19h11.59M361.39 174.23h11.59M361.39 180.51h11.59M361.39 183.02h11.59M339 184.27h11.59M361.39 184.27h11.59M462.13 184.27h11.59M428.55 189.29h11.59M495.71 189.29h11.19M462.13 190.55h11.59M473.32 190.55h11.59M462.13 191.8h11.59M473.32 191.8h11.59M473.32 193.06h11.59M417.35 195.57h11.59M439.74 195.57h11.59M473.32 196.82h11.59M473.32 199.33h11.59M473.32 201.84h11.59M473.32 204.35h11.59M417.35 206.86h11.59M450.93 206.86h11.59M428.55 209.37h11.59M484.51 209.37h11.59M428.55 211.88h11.59M417.35 213.14h11.59M473.32 213.14h11.59M428.55 214.39h11.59M428.55 215.65h11.59M450.93 215.65h11.59M428.55 216.9h11.59M473.32 220.67h11.59M406.16 225.69h11.59M450.93 226.94h11.59M439.74 228.2h11.59M439.74 233.22h11.59M462.13 234.47h11.59M428.55 239.49h11.59M428.55 240.75h11.59M473.32 240.75h11.59M473.32 242h11.59M417.35 243.26h11.59M462.13 243.26h11.59M462.13 244.51h11.59M406.16 250.79h11.59M484.51 252.04h11.59M450.93 253.3h11.59M439.74 257.06h11.59M450.93 259.57h11.59M450.93 262.08h11.59M484.51 263.34h11.59M394.97 264.59h11.59M473.32 264.59h11.59M450.93 265.85h11.59M450.93 267.1h11.59M484.51 267.1h11.59M484.51 269.61h11.59M495.71 269.61h11.19M450.93 282.16h11.59M450.93 285.93h11.59M428.55 288.44h11.59M428.55 289.69h11.59M484.51 289.69h11.59M417.35 299.73h11.59M428.55 302.24h11.59M428.55 304.75h11.59M462.13 304.75h11.59M462.13 306.01h11.59M484.51 306.01h11.59M462.13 308.52h11.59M473.32 308.52h11.59M428.55 309.77h11.59M450.93 309.77h11.59M473.32 309.77h11.59" stroke="#fac9b0" stroke-width="1.55"/>
<path d="M372.58 68.81h11.59M350.19 70.07h11.59M372.58 71.32h11.59M372.58 72.58h11.59M372.58 75.09h11.59M350.19 81.36h11.59M361.39 82.62h11.59M350.19 88.89h11.59M350.19 91.4h11.59M383.77 92.66h11.59M372.58 97.68h11.59M383.77 97.68h11.59M361.39 105.21h11.59M350.19 107.72h11.59M372.58 107.72h11.59M361.39 108.97h11.59M361.39 111.48h11.59M350.19 122.78h11.59M361.39 124.03h11.59M361.39 125.29h11.59M372.58 125.29h11.59M383.77 125.29h11.59M350.19 126.54h11.59M361.39 127.8h11.59M372.58 140.35h11.59M372.58 141.6h11.59M383.77 141.6h11.59M383.77 147.88h11.59M350.19 155.41h11.59M372.58 159.17h11.59M350.19 160.43h11.59M361.39 161.68h11.59M361.39 162.94h11.59M394.97 165.45h11.59M394.97 166.7h11.59M361.39 169.21h11.59M372.58 171.72h11.59M372.58 172.98h11.59M428.55 184.27h11.59M462.13 185.53h11.59M462.13 188.04h11.59M439.74 189.29h11.59M462.13 193.06h11.59M462.13 194.31h11.59M428.55 201.84h11.59M439.74 201.84h11.59M428.55 203.1h11.59M428.55 204.35h11.59M462.13 206.86h11.59M462.13 208.12h11.59M495.71 211.88h11.19M428.55 213.14h11.59M417.35 214.39h11.59M428.55 218.16h11.59M450.93 219.41h11.59M428.55 220.67h11.59M473.32 225.69h11.59M450.93 228.2h11.59M473.32 228.2h11.59M462.13 229.45h11.59M473.32 229.45h11.59M406.16 230.71h11.59M473.32 230.71h11.59M484.51 235.73h11.59M484.51 236.98h11.59M417.35 238.24h11.59M473.32 239.49h11.59M450.93 242h11.59M462.13 245.77h11.59M417.35 248.28h11.59M450.93 249.53h11.59M484.51 250.79h11.59M406.16 252.04h11.59M473.32 257.06h11.59M484.51 257.06h11.59M462.13 259.57h11.59M495.71 259.57h11.19M462.13 260.83h11.59M495.71 260.83h11.19M473.32 262.08h11.59M450.93 263.34h11.59M484.51 268.36h11.59M450.93 273.38h11.59M450.93 284.67h11.59M484.51 290.95h11.59M428.55 294.71h11.59M484.51 295.97h11.59M406.16 298.48h11.59M450.93 298.48h11.59M439.74 300.99h11.59M473.32 303.5h11.59M473.32 304.75h11.59M450.93 306.01h11.59M484.51 307.26h11.59" stroke="#f8c0a4" stroke-width="1.55"/>
<path d="M372.58 66.3h11.59M372.58 73.83h11.59M339 75.09h11.59M350.19 78.85h11.59M383.77 81.36h11.59M372.58 87.64h11.59M372.58 88.89h11.59M383.77 88.89h11.59M361.39 90.15h11.59M372.58 91.4h11.59M372.58 92.66h11.59M350.19 93.91h11.59M372.58 93.91h11.59M383.77 93.91h11.59M383.77 98.93h11.59M361.39 107.72h11.59M372.58 113.99h11.59M372.58 116.5h11.59M361.39 119.01h11.59M383.77 122.78h11.59M361.39 129.05h11.59M383.77 130.31h11.59M361.39 131.56h11.59M361.39 132.82h11.59M372.58 139.09h11.59M350.19 140.35h11.59M361.39 142.86h11.59M350.19 145.37h11.59M361.39 145.37h11.59M383.77 145.37h11.59M350.19 151.64h11.59M372.58 151.64h11.59M350.19 159.17h11.59M383.77 159.17h11.59M383.77 169.21h11.59M383.77 172.98h11.59M383.77 176.74h11.59M361.39 181.76h11.59M383.77 183.02h11.59M473.32 188.04h11.59M473.32 189.29h11.59M450.93 195.57h11.59M473.32 198.08h11.59M428.55 205.61h11.59M428.55 206.86h11.59M439.74 211.88h11.59M439.74 213.14h11.59M450.93 216.9h11.59M462.13 216.9h11.59M473.32 216.9h11.59M428.55 219.41h11.59M495.71 221.92h11.19M484.51 223.18h11.59M450.93 224.43h11.59M462.13 225.69h11.59M439.74 226.94h11.59M462.13 230.71h11.59M462.13 233.22h11.59M484.51 233.22h11.59M417.35 234.47h11.59M450.93 234.47h11.59M428.55 238.24h11.59M417.35 239.49h11.59M417.35 240.75h11.59M484.51 245.77h11.59M462.13 247.02h11.59M473.32 247.02h11.59M484.51 247.02h11.59M484.51 248.28h11.59M473.32 254.55h11.59M462.13 258.32h11.59M495.71 258.32h11.19M484.51 262.08h11.59M495.71 264.59h11.19M450.93 268.36h11.59M450.93 269.61h11.59M495.71 272.12h11.19M450.93 274.63h11.59M439.74 285.93h11.59M406.16 299.73h11.59M462.13 300.99h11.59M462.13 302.24h11.59M450.93 307.26h11.59M450.93 308.52h11.59" stroke="#f7b799" stroke-width="1.55"/>
<path d="M372.58 60.03h11.59M350.19 63.79h11.59M350.19 65.05h11.59M339 66.3h11.59M350.19 67.56h11.59M383.77 83.87h11.59M361.39 91.4h11.59M383.77 95.17h11.59M339 98.93h11.59M372.58 100.19h11.59M350.19 102.7h11.59M372.58 102.7h11.59M383.77 105.21h11.59M350.19 106.46h11.59M361.39 106.46h11.59M339 107.72h11.59M383.77 107.72h11.59M372.58 108.97h11.59M361.39 110.23h11.59M339 113.99h11.59M383.77 113.99h11.59M372.58 121.52h11.59M361.39 122.78h11.59M350.19 127.8h11.59M339 141.6h11.59M383.77 142.86h11.59M339 144.11h11.59M372.58 146.62h11.59M350.19 154.15h11.59M339 155.41h11.59M383.77 157.92h11.59M383.77 162.94h11.59M350.19 164.19h11.59M372.58 164.19h11.59M383.77 164.19h11.59M394.97 164.19h11.59M350.19 166.7h11.59M361.39 167.96h11.59M372.58 167.96h11.59M383.77 170.47h11.59M383.77 171.72h11.59M339 172.98h11.59M350.19 172.98h11.59M372.58 174.23h11.59M339 176.74h11.59M339 178h11.59M383.77 178h11.59M428.55 185.53h11.59M417.35 189.29h11.59M462.13 189.29h11.59M495.71 193.06h11.19M495.71 194.31h11.19M428.55 198.08h11.59M462.13 198.08h11.59M417.35 203.1h11.59M462.13 204.35h11.59M495.71 204.35h11.19M462.13 205.61h11.59M473.32 205.61h11.59M495.71 205.61h11.19M450.93 209.37h11.59M462.13 209.37h11.59M439.74 210.63h11.59M462.13 218.16h11.59M495.71 218.16h11.19M462.13 220.67h11.59M484.51 221.92h11.59M473.32 224.43h11.59M450.93 230.71h11.59M450.93 238.24h11.59M473.32 238.24h11.59M495.71 238.24h11.19M462.13 240.75h11.59M484.51 240.75h11.59M484.51 243.26h11.59M450.93 244.51h11.59M495.71 245.77h11.19M450.93 247.02h11.59M473.32 248.28h11.59M462.13 253.3h11.59M462.13 254.55h11.59M473.32 255.81h11.59M462.13 257.06h11.59M473.32 260.83h11.59M462.13 263.34h11.59M495.71 263.34h11.19M417.35 287.18h11.59M450.93 290.95h11.59M484.51 299.73h11.59M473.32 306.01h11.59M473.32 307.26h11.59M484.51 309.77h11.59" stroke="#f6ae8e" stroke-width="1.55"/>
<path d="M350.19 71.32h11.59M350.19 72.58h11.59M361.39 72.58h11.59M339 80.11h11.59M350.19 80.11h11.59M339 88.89h11.59M361.39 88.89h11.59M372.58 90.15h11.59M383.77 90.15h11.59M339 92.66h11.59M361.39 92.66h11.59M350.19 95.17h11.59M350.19 101.44h11.59M383.77 102.7h11.59M339 105.21h11.59M339 106.46h11.59M372.58 106.46h11.59M383.77 106.46h11.59M361.39 112.74h11.59M339 115.25h11.59M361.39 115.25h11.59M394.97 115.25h11.59M339 117.76h11.59M339 119.01h11.59M350.19 119.01h11.59M372.58 119.01h11.59M350.19 124.03h11.59M383.77 124.03h11.59M339 134.07h11.59M350.19 136.58h11.59M372.58 137.84h11.59M339 140.35h11.59M361.39 144.11h11.59M473.32 150.39h11.59M339 154.15h11.59M383.77 155.41h11.59M383.77 160.43h11.59M350.19 165.45h11.59M361.39 165.45h11.59M383.77 165.45h11.59M372.58 166.7h11.59M350.19 169.21h11.59M383.77 175.49h11.59M350.19 179.25h11.59M383.77 179.25h11.59M462.13 195.57h11.59M450.93 200.59h11.59M450.93 201.84h11.59M450.93 203.1h11.59M450.93 204.35h11.59M450.93 208.12h11.59M495.71 208.12h11.19M473.32 211.88h11.59M462.13 213.14h11.59M450.93 214.39h11.59M495.71 216.9h11.19M495.71 220.67h11.19M462.13 221.92h11.59M495.71 223.18h11.19M484.51 224.43h11.59M495.71 224.43h11.19M450.93 225.69h11.59M495.71 225.69h11.19M484.51 228.2h11.59M428.55 229.45h11.59M428.55 230.71h11.59M473.32 231.96h11.59M473.32 234.47h11.59M484.51 234.47h11.59M495.71 236.98h11.19M484.51 238.24h11.59M495.71 240.75h11.19M450.93 248.28h11.59M462.13 248.28h11.59M450.93 254.55h11.59M450.93 257.06h11.59M484.51 260.83h11.59M462.13 262.08h11.59M495.71 262.08h11.19M495.71 265.85h11.19M417.35 277.14h11.59M417.35 278.4h11.59M450.93 280.91h11.59M417.35 285.93h11.59M450.93 289.69h11.59M484.51 292.2h11.59M462.13 293.46h11.59M484.51 293.46h11.59M417.35 298.48h11.59M450.93 299.73h11.59" stroke="#f4a582" stroke-width="1.55"/>
<path d="M339 60.03h11.59M350.19 60.03h11.59M372.58 65.05h11.59M350.19 68.81h11.59M339 73.83h11.59M372.58 78.85h11.59M361.39 81.36h11.59M350.19 85.13h11.59M372.58 86.38h11.59M383.77 91.4h11.59M361.39 96.42h11.59M339 97.68h11.59M350.19 103.95h11.59M372.58 105.21h11.59M361.39 113.99h11.59M361.39 116.5h11.59M394.97 116.5h11.59M361.39 117.76h11.59M383.77 119.01h11.59M339 126.54h11.59M350.19 129.05h11.59M383.77 134.07h11.59M350.19 137.84h11.59M339 139.09h11.59M350.19 142.86h11.59M339 152.9h11.59M383.77 154.15h11.59M383.77 156.66h11.59M350.19 161.68h11.59M394.97 162.94h11.59M372.58 165.45h11.59M361.39 166.7h11.59M372.58 169.21h11.59M350.19 174.23h11.59M350.19 178h11.59M383.77 180.51h11.59M350.19 183.02h11.59M462.13 186.78h11.59M417.35 188.04h11.59M428.55 188.04h11.59M417.35 193.06h11.59M428.55 193.06h11.59M417.35 199.33h11.59M462.13 199.33h11.59M462.13 201.84h11.59M495.71 201.84h11.19M450.93 211.88h11.59M462.13 214.39h11.59M462.13 215.65h11.59M495.71 219.41h11.19M462.13 224.43h11.59M484.51 226.94h11.59M450.93 229.45h11.59M484.51 229.45h11.59M495.71 230.71h11.19M495.71 231.96h11.19M450.93 233.22h11.59M473.32 235.73h11.59M450.93 239.49h11.59M484.51 239.49h11.59M495.71 239.49h11.19M450.93 243.26h11.59M450.93 260.83h11.59M462.13 264.59h11.59M462.13 265.85h11.59M428.55 287.18h11.59M450.93 288.44h11.59M484.51 308.52h11.59" stroke="#ef9a79" stroke-width="1.55"/>
<path d="M350.19 61.28h11.59M372.58 61.28h11.59M372.58 62.54h11.59M339 65.05h11.59M361.39 73.83h11.59M350.19 77.6h11.59M383.77 87.64h11.59M339 90.15h11.59M339 91.4h11.59M361.39 97.68h11.59M361.39 98.93h11.59M339 100.19h11.59M361.39 102.7h11.59M350.19 108.97h11.59M383.77 117.76h11.59M350.19 120.27h11.59M383.77 121.52h11.59M339 122.78h11.59M339 125.29h11.59M350.19 125.29h11.59M383.77 127.8h11.59M383.77 132.82h11.59M350.19 135.33h11.59M383.77 139.09h11.59M383.77 140.35h11.59M350.19 147.88h11.59M383.77 151.64h11.59M350.19 152.9h11.59M383.77 152.9h11.59M394.97 160.43h11.59M372.58 161.68h11.59M383.77 161.68h11.59M372.58 162.94h11.59M350.19 167.96h11.59M383.77 167.96h11.59M372.58 170.47h11.59M339 174.23h11.59M383.77 174.23h11.59M339 179.25h11.59M339 180.51h11.59M428.55 190.55h11.59M462.13 200.59h11.59M462.13 210.63h11.59M450.93 218.16h11.59M462.13 223.18h11.59M484.51 225.69h11.59M495.71 228.2h11.19M484.51 231.96h11.59M450.93 235.73h11.59M450.93 236.98h11.59M462.13 238.24h11.59M462.13 255.81h11.59M450.93 279.65h11.59M450.93 287.18h11.59" stroke="#ea8e70" stroke-width="1.55"/>
<path d="M339 62.54h11.59M350.19 62.54h11.59M339 63.79h11.59M339 71.32h11.59M339 72.58h11.59M361.39 75.09h11.59M361.39 83.87h11.59M339 85.13h11.59M350.19 87.64h11.59M361.39 100.19h11.59M383.77 100.19h11.59M372.58 101.44h11.59M383.77 101.44h11.59M383.77 108.97h11.59M339 110.23h11.59M372.58 110.23h11.59M372.58 111.48h11.59M383.77 116.5h11.59M350.19 117.76h11.59M372.58 120.27h11.59M350.19 130.31h11.59M383.77 131.56h11.59M350.19 134.07h11.59M383.77 136.58h11.59M339 137.84h11.59M350.19 139.09h11.59M350.19 144.11h11.59M383.77 144.11h11.59M383.77 146.62h11.59M339 149.13h11.59M339 156.66h11.59M339 167.96h11.59M394.97 171.72h11.59M350.19 175.49h11.59M350.19 176.74h11.59M383.77 181.76h11.59M339 183.02h11.59M417.35 186.78h11.59M428.55 186.78h11.59M417.35 198.08h11.59M417.35 200.59h11.59M417.35 201.84h11.59M450.93 205.61h11.59M462.13 211.88h11.59M450.93 213.14h11.59M495.71 213.14h11.19M495.71 233.22h11.19M495.71 235.73h11.19M484.51 242h11.59M417.35 275.89h11.59M417.35 279.65h11.59M428.55 290.95h11.59M417.35 294.71h11.59" stroke="#e58268" stroke-width="1.55"/>
<path d="M350.19 76.34h11.59M372.58 77.6h11.59M361.39 85.13h11.59M339 87.64h11.59M361.39 93.91h11.59M361.39 95.17h11.59M372.58 103.95h11.59M383.77 103.95h11.59M339 108.97h11.59M372.58 112.74h11.59M383.77 112.74h11.59M350.19 115.25h11.59M339 116.5h11.59M339 120.27h11.59M339 121.52h11.59M339 124.03h11.59M350.19 132.82h11.59M339 135.33h11.59M383.77 135.33h11.59M339 136.58h11.59M383.77 137.84h11.59M339 142.86h11.59M339 160.43h11.59M383.77 166.7h11.59M394.97 167.96h11.59M394.97 170.47h11.59M339 171.72h11.59M339 175.49h11.59M417.35 184.27h11.59M428.55 191.8h11.59M450.93 196.82h11.59M462.13 196.82h11.59M450.93 199.33h11.59M495.71 214.39h11.19M495.71 215.65h11.19M428.55 228.2h11.59M495.71 242h11.19M462.13 249.53h11.59M462.13 252.04h11.59M495.71 253.3h11.19M495.71 254.55h11.19M450.93 255.81h11.59M495.71 255.81h11.19M428.55 282.16h11.59M417.35 283.42h11.59M428.55 283.42h11.59M428.55 284.67h11.59M428.55 285.93h11.59M417.35 297.22h11.59" stroke="#e0775f" stroke-width="1.55"/>
<path d="M339 61.28h11.59M383.77 62.54h11.59M339 67.56h11.59M372.58 67.56h11.59M339 68.81h11.59M339 70.07h11.59M361.39 70.07h11.59M372.58 76.34h11.59M339 78.85h11.59M383.77 85.13h11.59M361.39 87.64h11.59M339 95.17h11.59M339 96.42h11.59M339 101.44h11.59M361.39 101.44h11.59M339 102.7h11.59M339 111.48h11.59M383.77 120.27h11.59M350.19 131.56h11.59M339 132.82h11.59M361.39 146.62h11.59M339 157.92h11.59M339 159.17h11.59M394.97 161.68h11.59M350.19 180.51h11.59M417.35 185.53h11.59M450.93 198.08h11.59M495.71 226.94h11.19M450.93 231.96h11.59M473.32 233.22h11.59M462.13 239.49h11.59M495.71 244.51h11.19M495.71 247.02h11.19M495.71 249.53h11.19M462.13 250.79h11.59M495.71 250.79h11.19M495.71 257.06h11.19M495.71 268.36h11.19M428.55 277.14h11.59M428.55 278.4h11.59M417.35 280.91h11.59M428.55 292.2h11.59M428.55 293.46h11.59" stroke="#db6b56" stroke-width="1.55"/>
<path d="M383.77 61.28h11.59M372.58 63.79h11.59M361.39 68.81h11.59M361.39 71.32h11.59M339 86.38h11.59M350.19 86.38h11.59M339 93.91h11.59M361.39 103.95h11.59M383.77 110.23h11.59M339 112.74h11.59M361.39 120.27h11.59M339 127.8h11.59M339 129.05h11.59M339 130.31h11.59M339 146.62h11.59M350.19 146.62h11.59M339 147.88h11.59M339 161.68h11.59M339 169.21h11.59M339 170.47h11.59M350.19 181.76h11.59M417.35 190.55h11.59M417.35 191.8h11.59M495.71 248.28h11.19M495.71 252.04h11.19M428.55 274.63h11.59M428.55 275.89h11.59M417.35 284.67h11.59M417.35 288.44h11.59M417.35 292.2h11.59" stroke="#d6604d" stroke-width="1.55"/>
<path d="M383.77 63.79h11.59M383.77 66.3h11.59M383.77 68.81h11.59M383.77 73.83h11.59M361.39 77.6h11.59M361.39 86.38h11.59M383.77 86.38h11.59M350.19 110.23h11.59M350.19 116.5h11.59M361.39 121.52h11.59M339 164.19h11.59M339 165.45h11.59M484.51 230.71h11.59M495.71 267.1h11.19M417.35 282.16h11.59M417.35 290.95h11.59M417.35 293.46h11.59M417.35 295.97h11.59" stroke="#d05447" stroke-width="1.55"/>
<path d="M383.77 60.03h11.59M383.77 65.05h11.59M383.77 72.58h11.59M339 76.34h11.59M361.39 80.11h11.59M339 103.95h11.59M383.77 111.48h11.59M350.19 121.52h11.59M339 131.56h11.59M339 162.94h11.59M339 166.7h11.59M394.97 169.21h11.59M339 181.76h11.59M417.35 196.82h11.59M495.71 234.47h11.19M417.35 289.69h11.59" stroke="#ca4842" stroke-width="1.55"/>
<path d="M361.39 62.54h11.59M361.39 66.3h11.59M383.77 67.56h11.59M383.77 70.07h11.59M361.39 76.34h11.59M339 77.6h11.59M361.39 78.85h11.59M383.77 78.85h11.59" stroke="#c43c3c" stroke-width="1.55"/>
<path d="M361.39 60.03h11.59M361.39 63.79h11.59M383.77 71.32h11.59M383.77 75.09h11.59M383.77 77.6h11.59M383.77 80.11h11.59M350.19 113.99h11.59M495.71 243.26h11.19M428.55 279.65h11.59" stroke="#be3036" stroke-width="1.55"/>
<path d="M361.39 61.28h11.59M361.39 67.56h11.59M350.19 111.48h11.59M372.58 184.27h11.59M372.58 185.53h11.59" stroke="#b82431" stroke-width="1.55"/>
<path d="M428.55 273.38h11.59M428.55 280.91h11.59" stroke="#b2182b" stroke-width="1.55"/>
<path d="M361.39 65.05h11.59M350.19 112.74h11.59" stroke="#a61429" stroke-width="1.55"/>
<path d="M383.77 76.34h11.59" stroke="#991027" stroke-width="1.55"/>
<path d="M361.39 151.64h11.59M361.39 152.9h11.59M361.39 154.15h11.59M361.39 155.41h11.59M361.39 156.66h11.59" stroke="#800823" stroke-width="1.55"/>
<rect x="339.6" y="40.5" width="56" height="15.1" fill="#4e5567"/>
<rect x="395.5" y="40.5" width="112" height="15.1" fill="#a6002a"/>
<text x="367.6" y="51.6" font-size="11.2" text-anchor="middle" fill="#fff">HD</text>
<text x="451.6" y="51.6" font-size="11.2" text-anchor="middle" fill="#fff" textLength="54.5" lengthAdjust="spacingAndGlyphs">COVID-19</text>
<rect x="327.0" y="59.6" width="8.0" height="122.2" fill="url(#gB)"/>
<text x="322.7" y="67.7" font-size="12" text-anchor="end">3</text>
<text x="322.7" y="86.88" font-size="12" text-anchor="end">2</text>
<text x="322.7" y="106.06" font-size="12" text-anchor="end">1</text>
<text x="322.7" y="125.24" font-size="12" text-anchor="end">0</text>
<text x="322.7" y="144.42" font-size="12" text-anchor="end">-1</text>
<text x="322.7" y="163.6" font-size="12" text-anchor="end">-2</text>
<text x="322.7" y="182.78" font-size="12" text-anchor="end">-3</text>
<rect x="340" y="314.9" width="9.7" height="14.9" rx="1.6" fill="#cecfd6" stroke="#757882" stroke-width="1"/>
<text x="344.85" y="325.6" font-size="10.6" text-anchor="middle" fill="#111">5</text>
<rect x="351.19" y="314.9" width="9.7" height="14.9" rx="1.6" fill="#cecfd6" stroke="#757882" stroke-width="1"/>
<text x="356.04" y="325.6" font-size="10.6" text-anchor="middle" fill="#111">4</text>
<rect x="362.39" y="314.9" width="9.7" height="14.9" rx="1.6" fill="#cecfd6" stroke="#757882" stroke-width="1"/>
<text x="367.24" y="325.6" font-size="10.6" text-anchor="middle" fill="#111">3</text>
<rect x="373.58" y="314.9" width="9.7" height="14.9" rx="1.6" fill="#cecfd6" stroke="#757882" stroke-width="1"/>
<text x="378.43" y="325.6" font-size="10.6" text-anchor="middle" fill="#111">2</text>
<rect x="384.77" y="314.9" width="9.7" height="14.9" rx="1.6" fill="#cecfd6" stroke="#757882" stroke-width="1"/>
<text x="389.62" y="325.6" font-size="10.6" text-anchor="middle" fill="#111">1</text>
<rect x="395.47" y="314.4" width="10.7" height="15.9" rx="1.6" fill="#2c4a86"/>
<text x="400.82" y="325.6" font-size="10.6" text-anchor="middle" fill="#fff">6</text>
<rect x="406.66" y="314.4" width="10.7" height="15.9" rx="1.6" fill="#a6002a"/>
<text x="412.01" y="325.6" font-size="10.6" text-anchor="middle" fill="#fff">5</text>
<rect x="417.85" y="314.4" width="10.7" height="15.9" rx="1.6" fill="#2c4a86"/>
<text x="423.2" y="325.6" font-size="10.6" text-anchor="middle" fill="#fff">7</text>
<rect x="429.05" y="314.4" width="10.7" height="15.9" rx="1.6" fill="#2c4a86"/>
<text x="434.4" y="325.6" font-size="10.6" text-anchor="middle" fill="#fff" textLength="10.6" lengthAdjust="spacingAndGlyphs">10</text>
<rect x="440.24" y="314.4" width="10.7" height="15.9" rx="1.6" fill="#a6002a"/>
<text x="445.59" y="325.6" font-size="10.6" text-anchor="middle" fill="#fff">4</text>
<rect x="451.43" y="314.4" width="10.7" height="15.9" rx="1.6" fill="#2c4a86"/>
<text x="456.78" y="325.6" font-size="10.6" text-anchor="middle" fill="#fff">8</text>
<rect x="462.63" y="314.4" width="10.7" height="15.9" rx="1.6" fill="#a6002a"/>
<text x="467.98" y="325.6" font-size="10.6" text-anchor="middle" fill="#fff">3</text>
<rect x="473.82" y="314.4" width="10.7" height="15.9" rx="1.6" fill="#a6002a"/>
<text x="479.17" y="325.6" font-size="10.6" text-anchor="middle" fill="#fff">1</text>
<rect x="485.01" y="314.4" width="10.7" height="15.9" rx="1.6" fill="#2c4a86"/>
<text x="490.36" y="325.6" font-size="10.6" text-anchor="middle" fill="#fff">9</text>
<rect x="496.21" y="314.4" width="10.7" height="15.9" rx="1.6" fill="#a6002a"/>
<text x="501.56" y="325.6" font-size="10.6" text-anchor="middle" fill="#fff">2</text>
<path d="M59.4 390.6V591.9M103.8 390.6V591.9M148.2 390.6V591.9M192.6 390.6V591.9M237 390.6V591.9M54.05 583.5H242.1M54.05 541.62H242.1M54.05 499.75H242.1M54.05 457.88H242.1M54.05 416H242.1" stroke="#f2f2f2" stroke-width="0.6"/>
<path d="M160.2 573.2h0M161.7 583.4h0M161.4 573.3h0M162 576.1h0M163.6 565.4h0M159.3 579.5h0M161.7 579.4h0M159.7 583h0M159.4 571.4h0M161.5 581.8h0M160.4 578.8h0M163.5 558.8h0M160.5 581.7h0M162 582.9h0M162.9 555.7h0M163.4 560.3h0M156.2 580.1h0M155.7 582.5h0M157.2 579.3h0M156.6 583.3h0M156.3 580.1h0M159.1 579.7h0M157.7 581.1h0M156 572.7h0M154.9 579.3h0M158.6 583.1h0M157.3 583.1h0M155.6 583.2h0M155.5 575.8h0M157.7 578.8h0M155.7 583h0M155.3 577.9h0M121.1 550.3h0M122.3 551.8h0M121.2 541.4h0M121.7 539.5h0M121.9 558h0M120 553.7h0M121.2 538.8h0M119.7 571.5h0M123.3 552.7h0M123.3 541.1h0M119.8 560.1h0M120.6 574.4h0M121.1 540.3h0M120.4 556.6h0M120.8 562.1h0M120.7 572.5h0M120.6 554h0M122.6 551h0M170.1 545.2h0M170.3 540h0M169.1 552.3h0M170.2 556.9h0M170.2 558.5h0M172.3 563.7h0M169.3 572.7h0M168.7 565.4h0M170 572.2h0M168.7 564.9h0M172.4 570.4h0M170.2 567.7h0M171.6 555.9h0M171.1 568.5h0M124.6 540.6h0M124.9 573.1h0M123.9 566.7h0M127.2 554h0M126.9 537.9h0M126.3 577h0M128 547.5h0M127.3 576.9h0M124 564.1h0M124.6 553.2h0M125.9 549h0M126.9 545h0M117.7 543.6h0M118.1 560.8h0M118 529.3h0M117.2 552.9h0M119.1 523.7h0M118.9 569h0M116.9 542.4h0M115 562.8h0M117 572.7h0M116.7 555.9h0M115 557.9h0M118.2 545h0M118.7 566.6h0M117.7 559.3h0M117.5 553.6h0M116.3 571.5h0M132.4 552.1h0M129.6 559.7h0M131.1 569.9h0M128.7 562.2h0M130.5 553.1h0M132.6 549.3h0M130.9 572.7h0M129.7 556.9h0M128.8 551.8h0M129.5 547.3h0M129.8 575.1h0M131.8 562.3h0M129.3 569.5h0M131.7 580h0M128.5 550.7h0M130.7 558.6h0M128.5 547.7h0M130.8 565.4h0M167.8 572.2h0M163.9 559.4h0M164.7 570.7h0M167.5 569.9h0M167.1 560.8h0M165.1 580.3h0M166.5 578.5h0M167.4 566.4h0M166.8 571.7h0M166.5 577.3h0M164.6 570.8h0M167.2 581.2h0M167.5 572.3h0M166.2 566.2h0M164.5 567.4h0M165.5 568.1h0M166.1 580.9h0M167.6 551.4h0M164.3 563.5h0M165.3 564.1h0M166.7 580.1h0M167.8 567.4h0M166.6 562.4h0M168.1 555.7h0M163.8 557h0M165.4 578.5h0M183.4 546h0M184.5 560h0M183.8 554.7h0M182.4 566.2h0M183.9 551.5h0M136.9 568h0M135.8 565h0M135.6 577.3h0M136.3 580h0M133.2 582.2h0M135.3 572.7h0M136.1 581.5h0M137.1 564.7h0M136.2 581.2h0M135.6 580.3h0M134.1 581.2h0M135.6 566.8h0M135.3 566.8h0M135.3 578.8h0M133.4 557.8h0M112.2 564h0M112.6 545.9h0M112.7 567h0M114.8 542.6h0M112.2 553.4h0M112.5 563h0M113.6 540h0M112.3 554.7h0M175.1 562.6h0M174.3 575.3h0M173.1 578.5h0M175.6 556.5h0M176.7 562.6h0M173.2 568.8h0M172.8 579.1h0M173 556.4h0M176.7 575h0M153.3 582.1h0M153.3 582.2h0M154.5 583.3h0M151.7 582.8h0M150.4 582.6h0M154.7 580.4h0M153 582.3h0M152.9 582.8h0M150.6 581.7h0M154.9 583h0M153.9 580.7h0M153.4 580.6h0M153.6 577.1h0M181.2 548h0M179.8 572.9h0M179.1 565.4h0M180.2 570.8h0M181.3 549.1h0M177.4 536.1h0M180.1 568.8h0M177.4 549.6h0M181.1 569.4h0M109.7 556.1h0M109.2 555.6h0M106.4 528.7h0M106.1 546.8h0M106 553.8h0M109.6 561.8h0M143.6 582.3h0M143.1 582.3h0M144.2 580.8h0M141.9 581.5h0M141.7 578.2h0M144.4 581.2h0M142.8 583.3h0M142.6 582.3h0M144.4 583.2h0M144.5 583.3h0M142.7 582.1h0M186.5 555.9h0M98.8 550.2h0M99.4 554.2h0M141.3 580h0M139 570.6h0M141.1 582.3h0M138.5 581.3h0M137.2 583h0M138.1 583.4h0M137.7 573.4h0M139.8 583.4h0M140.3 582.9h0M139.2 581.8h0M138 581h0M141.5 582.6h0M137.3 563.8h0M140.9 581.8h0M102.4 546.8h0M103.3 557.6h0M104.7 556.4h0M226.6 450.3h0M72.7 432.8h0M146.9 583.2h0M149.1 583.2h0M149.6 582.7h0M192.7 555.7h0M193.9 567.8h0M90.5 399.2h0" stroke="#000" stroke-opacity=".35" stroke-width="2.6" stroke-linecap="round"/>
<path d="M72.7 432.8h0" stroke="#274c98" stroke-width="1.9" stroke-linecap="round"/>
<path d="M90.5 399.2h0" stroke="#3d6cb3" stroke-width="1.9" stroke-linecap="round"/>
<path d="M98.8 550.2h0M99.4 554.2h0" stroke="#4b7bbe" stroke-width="1.9" stroke-linecap="round"/>
<path d="M102.4 546.8h0M103.3 557.6h0M104.7 556.4h0" stroke="#5283c3" stroke-width="1.9" stroke-linecap="round"/>
<path d="M109.7 556.1h0M109.2 555.6h0M106.4 528.7h0M106.1 546.8h0M106 553.8h0M109.6 561.8h0" stroke="#5f8ec8" stroke-width="1.9" stroke-linecap="round"/>
<path d="M112.2 564h0M112.6 545.9h0M112.7 567h0M114.8 542.6h0M112.2 553.4h0M112.5 563h0M113.6 540h0M112.3 554.7h0" stroke="#6c98ce" stroke-width="1.9" stroke-linecap="round"/>
<path d="M117.7 543.6h0M118.1 560.8h0M118 529.3h0M117.2 552.9h0M119.1 523.7h0M118.9 569h0M116.9 542.4h0M115 562.8h0M117 572.7h0M116.7 555.9h0M115 557.9h0M118.2 545h0M118.7 566.6h0M117.7 559.3h0M117.5 553.6h0M116.3 571.5h0" stroke="#7ca5d4" stroke-width="1.9" stroke-linecap="round"/>
<path d="M121.1 550.3h0M122.3 551.8h0M121.2 541.4h0M121.7 539.5h0M121.9 558h0M120 553.7h0M121.2 538.8h0M119.7 571.5h0M123.3 552.7h0M123.3 541.1h0M119.8 560.1h0M120.6 574.4h0M121.1 540.3h0M120.4 556.6h0M120.8 562.1h0M120.7 572.5h0M120.6 554h0M122.6 551h0" stroke="#8db1da" stroke-width="1.9" stroke-linecap="round"/>
<path d="M124.6 540.6h0M124.9 573.1h0M123.9 566.7h0M127.2 554h0M126.9 537.9h0M126.3 577h0M128 547.5h0M127.3 576.9h0M124 564.1h0M124.6 553.2h0M125.9 549h0M126.9 545h0" stroke="#9dbee0" stroke-width="1.9" stroke-linecap="round"/>
<path d="M132.4 552.1h0M129.6 559.7h0M131.1 569.9h0M128.7 562.2h0M130.5 553.1h0M132.6 549.3h0M130.9 572.7h0M129.7 556.9h0M128.8 551.8h0M129.5 547.3h0M129.8 575.1h0M131.8 562.3h0M129.3 569.5h0M131.7 580h0M128.5 550.7h0M130.7 558.6h0M128.5 547.7h0M130.8 565.4h0" stroke="#adc7e2" stroke-width="1.9" stroke-linecap="round"/>
<path d="M136.9 568h0M135.8 565h0M135.6 577.3h0M136.3 580h0M133.2 582.2h0M135.3 572.7h0M136.1 581.5h0M137.1 564.7h0M136.2 581.2h0M135.6 580.3h0M134.1 581.2h0M135.6 566.8h0M135.3 566.8h0M135.3 578.8h0M133.4 557.8h0" stroke="#bdd0e5" stroke-width="1.9" stroke-linecap="round"/>
<path d="M141.3 580h0M139 570.6h0M141.1 582.3h0M138.5 581.3h0M137.2 583h0M138.1 583.4h0M137.7 573.4h0M139.8 583.4h0M140.3 582.9h0M139.2 581.8h0M138 581h0M141.5 582.6h0M137.3 563.8h0M140.9 581.8h0" stroke="#ccdae7" stroke-width="1.9" stroke-linecap="round"/>
<path d="M143.6 582.3h0M143.1 582.3h0M144.2 580.8h0M141.9 581.5h0M141.7 578.2h0M144.4 581.2h0M142.8 583.3h0M142.6 582.3h0M144.4 583.2h0M144.5 583.3h0M142.7 582.1h0" stroke="#dce3ea" stroke-width="1.9" stroke-linecap="round"/>
<path d="M146.9 583.2h0M149.1 583.2h0M149.6 582.7h0" stroke="#ececec" stroke-width="1.9" stroke-linecap="round"/>
<path d="M153.3 582.1h0M153.3 582.2h0M154.5 583.3h0M151.7 582.8h0M150.4 582.6h0M154.7 580.4h0M153 582.3h0M152.9 582.8h0M150.6 581.7h0M154.9 583h0M153.9 580.7h0M153.4 580.6h0M153.6 577.1h0" stroke="#ede2da" stroke-width="1.9" stroke-linecap="round"/>
<path d="M156.2 580.1h0M155.7 582.5h0M157.2 579.3h0M156.6 583.3h0M156.3 580.1h0M159.1 579.7h0M157.7 581.1h0M156 572.7h0M154.9 579.3h0M158.6 583.1h0M157.3 583.1h0M155.6 583.2h0M155.5 575.8h0M157.7 578.8h0M155.7 583h0M155.3 577.9h0" stroke="#eed7c8" stroke-width="1.9" stroke-linecap="round"/>
<path d="M160.2 573.2h0M161.7 583.4h0M161.4 573.3h0M162 576.1h0M163.6 565.4h0M159.3 579.5h0M161.7 579.4h0M159.7 583h0M159.4 571.4h0M161.5 581.8h0M160.4 578.8h0M163.5 558.8h0M160.5 581.7h0M162 582.9h0M162.9 555.7h0M163.4 560.3h0" stroke="#eecdb6" stroke-width="1.9" stroke-linecap="round"/>
<path d="M167.8 572.2h0M163.9 559.4h0M164.7 570.7h0M167.5 569.9h0M167.1 560.8h0M165.1 580.3h0M166.5 578.5h0M167.4 566.4h0M166.8 571.7h0M166.5 577.3h0M164.6 570.8h0M167.2 581.2h0M167.5 572.3h0M166.2 566.2h0M164.5 567.4h0M165.5 568.1h0M166.1 580.9h0M167.6 551.4h0M164.3 563.5h0M165.3 564.1h0M166.7 580.1h0M167.8 567.4h0M166.6 562.4h0M168.1 555.7h0M163.8 557h0M165.4 578.5h0" stroke="#efc2a4" stroke-width="1.9" stroke-linecap="round"/>
<path d="M170.1 545.2h0M170.3 540h0M169.1 552.3h0M170.2 556.9h0M170.2 558.5h0M172.3 563.7h0M169.3 572.7h0M168.7 565.4h0M170 572.2h0M168.7 564.9h0M172.4 570.4h0M170.2 567.7h0M171.6 555.9h0M171.1 568.5h0" stroke="#ebad88" stroke-width="1.9" stroke-linecap="round"/>
<path d="M175.1 562.6h0M174.3 575.3h0M173.1 578.5h0M175.6 556.5h0M176.7 562.6h0M173.2 568.8h0M172.8 579.1h0M173 556.4h0M176.7 575h0" stroke="#e7986d" stroke-width="1.9" stroke-linecap="round"/>
<path d="M181.2 548h0M179.8 572.9h0M179.1 565.4h0M180.2 570.8h0M181.3 549.1h0M177.4 536.1h0M180.1 568.8h0M177.4 549.6h0M181.1 569.4h0" stroke="#e28454" stroke-width="1.9" stroke-linecap="round"/>
<path d="M183.4 546h0M184.5 560h0M183.8 554.7h0M182.4 566.2h0M183.9 551.5h0" stroke="#db6f3f" stroke-width="1.9" stroke-linecap="round"/>
<path d="M186.5 555.9h0" stroke="#d55a2a" stroke-width="1.9" stroke-linecap="round"/>
<path d="M192.7 555.7h0M193.9 567.8h0" stroke="#ce4b20" stroke-width="1.9" stroke-linecap="round"/>
<path d="M226.6 450.3h0" stroke="#810b1a" stroke-width="1.9" stroke-linecap="round"/>
<path d="M151.5 582.6h0M152.4 579.1h0M151 583.5h0M154.2 583.2h0M152.5 583.2h0M151.5 582.4h0M151 583.5h0M154.1 580.6h0M154 582.3h0M153.9 583.2h0M151.1 583.2h0M153 583.2h0M153.3 583.4h0M154.5 581.7h0M154.2 579.5h0M112 533h0M114.5 570.3h0M114.7 537.6h0M112.2 562.4h0M113.8 547.9h0M113 552.6h0M111.9 518.2h0M114.1 533.9h0M113.3 564.8h0M111.9 547.6h0M113.2 568.4h0M113.2 539.4h0M112.1 566.1h0M114.6 560.3h0M175.6 545.2h0M174.4 576.3h0M173.8 571.4h0M172.8 576.8h0M175.4 576.8h0M173.4 575.1h0M173.8 560.5h0M174.6 556.3h0M175.7 557.1h0M172.8 576.9h0M175.9 574.7h0M176.4 573.3h0M174.9 565.5h0M174.2 567.2h0M137.1 572.8h0M134.3 581h0M135.5 560h0M134.1 583h0M136 582.2h0M135 583.2h0M136.4 561.6h0M132.7 562.2h0M133.4 568.8h0M136.3 571.7h0M135.9 565.3h0M132.8 583.1h0M135.1 575.4h0M137.1 565.8h0M133.7 569.2h0M135.4 559h0M154.9 582.5h0M156.6 575.4h0M157.6 580.6h0M158.4 580h0M155.3 583h0M157.8 569.8h0M159.1 579.2h0M155.6 574.8h0M158.2 577.9h0M156.1 580.7h0M157 577.6h0M157.4 582.1h0M156 582.9h0M156.2 581.7h0M155 579h0M75.7 484.3h0M117.9 557.3h0M118.9 563.1h0M116.9 551.3h0M117.2 569.9h0M116.3 536.1h0M117.8 546.3h0M116.5 564.2h0M116.4 556.8h0M119.3 565.8h0M115.8 533h0M117.5 540.7h0M116.4 544.8h0M119.1 573.1h0M115.2 566.3h0M147.6 583.1h0M149.8 582.8h0M148.1 583.3h0M146.9 583.5h0M166.6 578.7h0M166.9 579.1h0M164.4 564.1h0M163.9 572h0M164.6 554h0M164.1 580.9h0M165.9 573.1h0M166.5 570h0M164.6 577.1h0M165.2 573.6h0M167.8 580.5h0M165.3 554.8h0M121.2 572.4h0M121 565.9h0M121.6 567.6h0M123.3 547.1h0M121.8 549.5h0M120 561.4h0M123.5 563.9h0M123.3 559.8h0M122.6 538.4h0M120.6 535.8h0M121.7 555.4h0M122.6 557.7h0M119.9 545.7h0M123.5 542.9h0M123.4 551.3h0M170 576.6h0M171 574.9h0M169.3 561.6h0M169.7 563.2h0M169.9 568.4h0M172.2 574.1h0M168.4 569.2h0M172 572.5h0M170.4 577.2h0M172 574.9h0M169.3 539.2h0M171.8 566.8h0M172 574.6h0M171.5 570h0M144.8 582.1h0M143.3 581.4h0M143 580.6h0M143.3 577.6h0M144.2 583.4h0M144.2 582.2h0M142.9 582.8h0M142.3 582.8h0M144.9 582.2h0M143.8 582.3h0M145.9 582.6h0M142.2 577.2h0M144.7 582.7h0M139.6 574h0M138.3 568.3h0M138.4 583.4h0M140.9 583.2h0M140.2 582.4h0M141.2 583h0M138.3 583.2h0M139.4 582.9h0M140 580.4h0M139.3 575.6h0M137.2 566.8h0M140.7 579.5h0M139.2 580.7h0M137.5 564.1h0M138.4 566.9h0M140.2 575.6h0M124.3 565.2h0M123.9 552.8h0M124.5 558.3h0M127.3 538.9h0M128.2 577.4h0M124.4 557.2h0M126.2 548.2h0M124 569.9h0M126.6 533.2h0M129.9 556h0M130.4 543.9h0M128.6 538h0M129.6 562h0M132.3 583.1h0M132.5 551.6h0M129.7 547.6h0M130.2 562.9h0M132.1 572.4h0M129 576.3h0M132 555.9h0M131.2 571.8h0M132.3 552.6h0M130.1 580.8h0M129.3 548.9h0M131 580.9h0M129.2 560.9h0M132.6 583.1h0M132.4 550.1h0M132.2 570.9h0M132 583.2h0M128.7 573.8h0M128.9 534.7h0M130.9 563.9h0M129.9 550.4h0M214.1 521.5h0M213.3 436.1h0M191.1 540.8h0M192.6 524.9h0M161.3 583.3h0M163.4 581.6h0M163.2 577.8h0M161.1 571.1h0M159.5 567.1h0M163.4 581.3h0M162.2 569.7h0M162.3 575.9h0M160.1 583.2h0M162.3 556.7h0M108.6 564h0M108 562.2h0M109.4 540h0M110.1 564.7h0M106.5 564.4h0M106.6 544.1h0M110.1 557.4h0M106.5 563.4h0M107.5 561.5h0M183.3 565.4h0M185.4 548.8h0M181.7 566.1h0M182.8 559.7h0M183 530.7h0M101.7 561h0M103.5 542.5h0M178.8 562.8h0M181.3 563.3h0M177.1 561.5h0M178.2 570.3h0M178.4 566.8h0M179.9 568.6h0M179 550.1h0M177.4 563.7h0M211.8 532h0M101.2 561.8h0M187.1 555.3h0M94.4 555.1h0" stroke="#000" stroke-opacity=".35" stroke-width="2.6" stroke-linecap="round"/>
<path d="M75.7 484.3h0" stroke="#2b54a0" stroke-width="1.9" stroke-linecap="round"/>
<path d="M94.4 555.1h0" stroke="#4473b8" stroke-width="1.9" stroke-linecap="round"/>
<path d="M101.2 561.8h0" stroke="#4b7bbe" stroke-width="1.9" stroke-linecap="round"/>
<path d="M101.7 561h0M103.5 542.5h0" stroke="#5283c3" stroke-width="1.9" stroke-linecap="round"/>
<path d="M108.6 564h0M108 562.2h0M109.4 540h0M110.1 564.7h0M106.5 564.4h0M106.6 544.1h0M110.1 557.4h0M106.5 563.4h0M107.5 561.5h0" stroke="#5f8ec8" stroke-width="1.9" stroke-linecap="round"/>
<path d="M112 533h0M114.5 570.3h0M114.7 537.6h0M112.2 562.4h0M113.8 547.9h0M113 552.6h0M111.9 518.2h0M114.1 533.9h0M113.3 564.8h0M111.9 547.6h0M113.2 568.4h0M113.2 539.4h0M112.1 566.1h0M114.6 560.3h0" stroke="#6c98ce" stroke-width="1.9" stroke-linecap="round"/>
<path d="M117.9 557.3h0M118.9 563.1h0M116.9 551.3h0M117.2 569.9h0M116.3 536.1h0M117.8 546.3h0M116.5 564.2h0M116.4 556.8h0M119.3 565.8h0M115.8 533h0M117.5 540.7h0M116.4 544.8h0M119.1 573.1h0M115.2 566.3h0" stroke="#7ca5d4" stroke-width="1.9" stroke-linecap="round"/>
<path d="M121.2 572.4h0M121 565.9h0M121.6 567.6h0M123.3 547.1h0M121.8 549.5h0M120 561.4h0M123.5 563.9h0M123.3 559.8h0M122.6 538.4h0M120.6 535.8h0M121.7 555.4h0M122.6 557.7h0M119.9 545.7h0M123.5 542.9h0M123.4 551.3h0" stroke="#8db1da" stroke-width="1.9" stroke-linecap="round"/>
<path d="M124.3 565.2h0M123.9 552.8h0M124.5 558.3h0M127.3 538.9h0M128.2 577.4h0M124.4 557.2h0M126.2 548.2h0M124 569.9h0M126.6 533.2h0" stroke="#9dbee0" stroke-width="1.9" stroke-linecap="round"/>
<path d="M129.9 556h0M130.4 543.9h0M128.6 538h0M129.6 562h0M132.3 583.1h0M132.5 551.6h0M129.7 547.6h0M130.2 562.9h0M132.1 572.4h0M129 576.3h0M132 555.9h0M131.2 571.8h0M132.3 552.6h0M130.1 580.8h0M129.3 548.9h0M131 580.9h0M129.2 560.9h0M132.6 583.1h0M132.4 550.1h0M132.2 570.9h0M132 583.2h0M128.7 573.8h0M128.9 534.7h0M130.9 563.9h0M129.9 550.4h0" stroke="#adc7e2" stroke-width="1.9" stroke-linecap="round"/>
<path d="M137.1 572.8h0M134.3 581h0M135.5 560h0M134.1 583h0M136 582.2h0M135 583.2h0M136.4 561.6h0M132.7 562.2h0M133.4 568.8h0M136.3 571.7h0M135.9 565.3h0M132.8 583.1h0M135.1 575.4h0M137.1 565.8h0M133.7 569.2h0M135.4 559h0" stroke="#bdd0e5" stroke-width="1.9" stroke-linecap="round"/>
<path d="M139.6 574h0M138.3 568.3h0M138.4 583.4h0M140.9 583.2h0M140.2 582.4h0M141.2 583h0M138.3 583.2h0M139.4 582.9h0M140 580.4h0M139.3 575.6h0M137.2 566.8h0M140.7 579.5h0M139.2 580.7h0M137.5 564.1h0M138.4 566.9h0M140.2 575.6h0" stroke="#ccdae7" stroke-width="1.9" stroke-linecap="round"/>
<path d="M144.8 582.1h0M143.3 581.4h0M143 580.6h0M143.3 577.6h0M144.2 583.4h0M144.2 582.2h0M142.9 582.8h0M142.3 582.8h0M144.9 582.2h0M143.8 582.3h0M145.9 582.6h0M142.2 577.2h0M144.7 582.7h0" stroke="#dce3ea" stroke-width="1.9" stroke-linecap="round"/>
<path d="M147.6 583.1h0M149.8 582.8h0M148.1 583.3h0M146.9 583.5h0" stroke="#ececec" stroke-width="1.9" stroke-linecap="round"/>
<path d="M151.5 582.6h0M152.4 579.1h0M151 583.5h0M154.2 583.2h0M152.5 583.2h0M151.5 582.4h0M151 583.5h0M154.1 580.6h0M154 582.3h0M153.9 583.2h0M151.1 583.2h0M153 583.2h0M153.3 583.4h0M154.5 581.7h0M154.2 579.5h0" stroke="#ede2da" stroke-width="1.9" stroke-linecap="round"/>
<path d="M154.9 582.5h0M156.6 575.4h0M157.6 580.6h0M158.4 580h0M155.3 583h0M157.8 569.8h0M159.1 579.2h0M155.6 574.8h0M158.2 577.9h0M156.1 580.7h0M157 577.6h0M157.4 582.1h0M156 582.9h0M156.2 581.7h0M155 579h0" stroke="#eed7c8" stroke-width="1.9" stroke-linecap="round"/>
<path d="M161.3 583.3h0M163.4 581.6h0M163.2 577.8h0M161.1 571.1h0M159.5 567.1h0M163.4 581.3h0M162.2 569.7h0M162.3 575.9h0M160.1 583.2h0M162.3 556.7h0" stroke="#eecdb6" stroke-width="1.9" stroke-linecap="round"/>
<path d="M166.6 578.7h0M166.9 579.1h0M164.4 564.1h0M163.9 572h0M164.6 554h0M164.1 580.9h0M165.9 573.1h0M166.5 570h0M164.6 577.1h0M165.2 573.6h0M167.8 580.5h0M165.3 554.8h0" stroke="#efc2a4" stroke-width="1.9" stroke-linecap="round"/>
<path d="M170 576.6h0M171 574.9h0M169.3 561.6h0M169.7 563.2h0M169.9 568.4h0M172.2 574.1h0M168.4 569.2h0M172 572.5h0M170.4 577.2h0M172 574.9h0M169.3 539.2h0M171.8 566.8h0M172 574.6h0M171.5 570h0" stroke="#ebad88" stroke-width="1.9" stroke-linecap="round"/>
<path d="M175.6 545.2h0M174.4 576.3h0M173.8 571.4h0M172.8 576.8h0M175.4 576.8h0M173.4 575.1h0M173.8 560.5h0M174.6 556.3h0M175.7 557.1h0M172.8 576.9h0M175.9 574.7h0M176.4 573.3h0M174.9 565.5h0M174.2 567.2h0" stroke="#e7986d" stroke-width="1.9" stroke-linecap="round"/>
<path d="M178.8 562.8h0M181.3 563.3h0M177.1 561.5h0M178.2 570.3h0M178.4 566.8h0M179.9 568.6h0M179 550.1h0M177.4 563.7h0" stroke="#e28454" stroke-width="1.9" stroke-linecap="round"/>
<path d="M183.3 565.4h0M185.4 548.8h0M181.7 566.1h0M182.8 559.7h0M183 530.7h0" stroke="#db6f3f" stroke-width="1.9" stroke-linecap="round"/>
<path d="M187.1 555.3h0" stroke="#d55a2a" stroke-width="1.9" stroke-linecap="round"/>
<path d="M191.1 540.8h0M192.6 524.9h0" stroke="#ce4b20" stroke-width="1.9" stroke-linecap="round"/>
<path d="M211.8 532h0" stroke="#b0200f" stroke-width="1.9" stroke-linecap="round"/>
<path d="M214.1 521.5h0M213.3 436.1h0" stroke="#a41b12" stroke-width="1.9" stroke-linecap="round"/>
<path d="M141.2 583.3h0M137.5 582.5h0M140.6 582.6h0M137.4 577.4h0M139.6 583.4h0M140.4 583.1h0M137.8 575.1h0M141.2 580.3h0M138.7 577.6h0M141.1 583.4h0M166.7 573.6h0M167.1 574.4h0M164.4 575.4h0M164.8 579.6h0M165 551.5h0M165.2 555.7h0M166.8 570h0M166.4 567.1h0M165.7 582.3h0M166.3 545.8h0M165.2 571.7h0M165.9 580.9h0M167.2 569.2h0M165.4 573.9h0M165.4 577.4h0M164.1 562.7h0M164.2 569.1h0M164.8 562.5h0M164.5 578.9h0M165.3 582.8h0M165.9 581.5h0M165.4 557.6h0M165.9 581.6h0M172.4 569.9h0M170.8 580h0M170.8 552.6h0M169 540.5h0M168.8 563.6h0M169.8 564.7h0M168.9 576.6h0M171.3 552.8h0M171 575.6h0M169 555.6h0M175.2 575.7h0M174.2 558.2h0M175.9 576h0M174.3 556.8h0M173.9 573.9h0M175.3 565h0M173.9 563.8h0M97.3 553.2h0M112.7 562h0M113.1 569.8h0M112 550.8h0M112.7 539.5h0M112.9 564h0M113.2 556.5h0M113.4 541.6h0M113.7 537.3h0M112.7 501.8h0M113.4 534.6h0M112.3 532.7h0M114.6 527h0M110.5 512.3h0M112.1 539.4h0M112.4 562.5h0M113.8 568h0M113.9 563.8h0M114.4 542.2h0M135.3 583.5h0M135.8 561.8h0M134.6 562.4h0M137 581.3h0M133.8 581.2h0M133.7 577.4h0M134.2 557.3h0M134.4 565.6h0M134.8 581.4h0M132.7 577.7h0M135.4 567.7h0M136.9 572.6h0M133.2 583.1h0M135.8 575h0M133.7 582.1h0M134.9 583.3h0M136.1 567.8h0M135.6 582h0M127.2 550.8h0M126.9 570.9h0M127.4 574h0M124.8 567.5h0M125.4 557.1h0M124.7 541.6h0M124.6 574.2h0M124.5 530.8h0M124.6 571.5h0M125.8 558.8h0M126.8 531.3h0M127 571.3h0M127 565.7h0M125.8 558.8h0M127.6 570.7h0M116.6 541.2h0M116.4 565.2h0M116.8 550.9h0M117.4 544.7h0M118.9 562.1h0M117.3 570.1h0M117.4 570.2h0M118.6 566h0M118.4 561h0M115.4 559h0M118.5 557.1h0M116.8 532.9h0M117.8 566.4h0M192.6 558h0M193 564.7h0M194.1 534.9h0M120.8 569h0M121.3 563.6h0M120.4 544.4h0M123 558.2h0M119.6 569.1h0M119.8 542.9h0M119.7 554.3h0M123.5 543.1h0M121.4 560.5h0M121.5 567.7h0M122.6 549.1h0M121.4 574.9h0M119.6 537.3h0M160.2 582.5h0M159.4 582.6h0M160.4 580.6h0M161 577.6h0M159.8 565.1h0M161.5 581.4h0M162.1 582h0M162.2 561h0M159.4 583.3h0M159.5 577h0M163.2 582.7h0M160.1 581.8h0M161.3 559.8h0M161 580.8h0M160.4 572.2h0M161.1 582.8h0M155.1 582.5h0M158.7 576.4h0M156.2 583.4h0M156 573h0M157.5 575.3h0M158.4 583.2h0M156.2 583.4h0M156.7 581.7h0M155.7 581.1h0M156.7 583.4h0M156.3 581.5h0M155.5 576h0M157.4 575.5h0M155.5 581.7h0M156.2 579.7h0M155.9 574h0M158.7 573.3h0M106 478.8h0M102 555.2h0M101.8 558.1h0M105 563.4h0M143.1 580.6h0M145.1 583.4h0M141.7 576.1h0M143.1 581.7h0M142.4 582.8h0M142.6 583.3h0M143 580.3h0M142.2 574.9h0M92 542.5h0M153.5 579.6h0M153 582.4h0M151.8 582.4h0M153.2 582.5h0M154.3 583.4h0M154.5 580.9h0M151.2 582.9h0M129.2 561.9h0M130 557.6h0M129.8 559.6h0M130.1 561.2h0M129 576.6h0M132.3 553.5h0M132.2 555.1h0M129.9 542.9h0M132.6 577.1h0M129.7 578.2h0M129.5 570.3h0M131 544.2h0M129.6 580.3h0M132.3 564.3h0M130 555.7h0M129.8 548.9h0M130.5 571.8h0M131.7 572.5h0M130.3 543.3h0M181.6 570.8h0M185.2 526.5h0M183.4 566.1h0M182.3 574.2h0M181.6 559.4h0M184.8 569h0M183.9 555.1h0M183.1 565.5h0M183 566.9h0M183.6 559.6h0M149.5 582.9h0M150.2 583.5h0M149.8 582.8h0M146.4 583.1h0M181.3 570.9h0M178 571.8h0M181.1 562.3h0M177.5 552.2h0M180.3 566.8h0M179.4 560.5h0M177.8 549.6h0M178.9 559.7h0M181.1 557.3h0M180.4 564.4h0M180.8 544.4h0M108 537.7h0M108.4 563.6h0M106.8 519.9h0M108.9 548.3h0M108.6 565.9h0M110 555.3h0M107.7 561.9h0M109.8 536.7h0M186.8 558h0M205.2 536.6h0M96.4 537.4h0" stroke="#000" stroke-opacity=".35" stroke-width="2.6" stroke-linecap="round"/>
<path d="M92 542.5h0" stroke="#3d6cb3" stroke-width="1.9" stroke-linecap="round"/>
<path d="M96.4 537.4h0" stroke="#4473b8" stroke-width="1.9" stroke-linecap="round"/>
<path d="M97.3 553.2h0" stroke="#4b7bbe" stroke-width="1.9" stroke-linecap="round"/>
<path d="M106 478.8h0M102 555.2h0M101.8 558.1h0M105 563.4h0" stroke="#5283c3" stroke-width="1.9" stroke-linecap="round"/>
<path d="M108 537.7h0M108.4 563.6h0M106.8 519.9h0M108.9 548.3h0M108.6 565.9h0M110 555.3h0M107.7 561.9h0M109.8 536.7h0" stroke="#5f8ec8" stroke-width="1.9" stroke-linecap="round"/>
<path d="M112.7 562h0M113.1 569.8h0M112 550.8h0M112.7 539.5h0M112.9 564h0M113.2 556.5h0M113.4 541.6h0M113.7 537.3h0M112.7 501.8h0M113.4 534.6h0M112.3 532.7h0M114.6 527h0M110.5 512.3h0M112.1 539.4h0M112.4 562.5h0M113.8 568h0M113.9 563.8h0M114.4 542.2h0" stroke="#6c98ce" stroke-width="1.9" stroke-linecap="round"/>
<path d="M116.6 541.2h0M116.4 565.2h0M116.8 550.9h0M117.4 544.7h0M118.9 562.1h0M117.3 570.1h0M117.4 570.2h0M118.6 566h0M118.4 561h0M115.4 559h0M118.5 557.1h0M116.8 532.9h0M117.8 566.4h0" stroke="#7ca5d4" stroke-width="1.9" stroke-linecap="round"/>
<path d="M120.8 569h0M121.3 563.6h0M120.4 544.4h0M123 558.2h0M119.6 569.1h0M119.8 542.9h0M119.7 554.3h0M123.5 543.1h0M121.4 560.5h0M121.5 567.7h0M122.6 549.1h0M121.4 574.9h0M119.6 537.3h0" stroke="#8db1da" stroke-width="1.9" stroke-linecap="round"/>
<path d="M127.2 550.8h0M126.9 570.9h0M127.4 574h0M124.8 567.5h0M125.4 557.1h0M124.7 541.6h0M124.6 574.2h0M124.5 530.8h0M124.6 571.5h0M125.8 558.8h0M126.8 531.3h0M127 571.3h0M127 565.7h0M125.8 558.8h0M127.6 570.7h0" stroke="#9dbee0" stroke-width="1.9" stroke-linecap="round"/>
<path d="M129.2 561.9h0M130 557.6h0M129.8 559.6h0M130.1 561.2h0M129 576.6h0M132.3 553.5h0M132.2 555.1h0M129.9 542.9h0M132.6 577.1h0M129.7 578.2h0M129.5 570.3h0M131 544.2h0M129.6 580.3h0M132.3 564.3h0M130 555.7h0M129.8 548.9h0M130.5 571.8h0M131.7 572.5h0M130.3 543.3h0" stroke="#adc7e2" stroke-width="1.9" stroke-linecap="round"/>
<path d="M135.3 583.5h0M135.8 561.8h0M134.6 562.4h0M137 581.3h0M133.8 581.2h0M133.7 577.4h0M134.2 557.3h0M134.4 565.6h0M134.8 581.4h0M132.7 577.7h0M135.4 567.7h0M136.9 572.6h0M133.2 583.1h0M135.8 575h0M133.7 582.1h0M134.9 583.3h0M136.1 567.8h0M135.6 582h0" stroke="#bdd0e5" stroke-width="1.9" stroke-linecap="round"/>
<path d="M141.2 583.3h0M137.5 582.5h0M140.6 582.6h0M137.4 577.4h0M139.6 583.4h0M140.4 583.1h0M137.8 575.1h0M141.2 580.3h0M138.7 577.6h0M141.1 583.4h0" stroke="#ccdae7" stroke-width="1.9" stroke-linecap="round"/>
<path d="M143.1 580.6h0M145.1 583.4h0M141.7 576.1h0M143.1 581.7h0M142.4 582.8h0M142.6 583.3h0M143 580.3h0M142.2 574.9h0" stroke="#dce3ea" stroke-width="1.9" stroke-linecap="round"/>
<path d="M149.5 582.9h0M150.2 583.5h0M149.8 582.8h0M146.4 583.1h0" stroke="#ececec" stroke-width="1.9" stroke-linecap="round"/>
<path d="M153.5 579.6h0M153 582.4h0M151.8 582.4h0M153.2 582.5h0M154.3 583.4h0M154.5 580.9h0M151.2 582.9h0" stroke="#ede2da" stroke-width="1.9" stroke-linecap="round"/>
<path d="M155.1 582.5h0M158.7 576.4h0M156.2 583.4h0M156 573h0M157.5 575.3h0M158.4 583.2h0M156.2 583.4h0M156.7 581.7h0M155.7 581.1h0M156.7 583.4h0M156.3 581.5h0M155.5 576h0M157.4 575.5h0M155.5 581.7h0M156.2 579.7h0M155.9 574h0M158.7 573.3h0" stroke="#eed7c8" stroke-width="1.9" stroke-linecap="round"/>
<path d="M160.2 582.5h0M159.4 582.6h0M160.4 580.6h0M161 577.6h0M159.8 565.1h0M161.5 581.4h0M162.1 582h0M162.2 561h0M159.4 583.3h0M159.5 577h0M163.2 582.7h0M160.1 581.8h0M161.3 559.8h0M161 580.8h0M160.4 572.2h0M161.1 582.8h0" stroke="#eecdb6" stroke-width="1.9" stroke-linecap="round"/>
<path d="M166.7 573.6h0M167.1 574.4h0M164.4 575.4h0M164.8 579.6h0M165 551.5h0M165.2 555.7h0M166.8 570h0M166.4 567.1h0M165.7 582.3h0M166.3 545.8h0M165.2 571.7h0M165.9 580.9h0M167.2 569.2h0M165.4 573.9h0M165.4 577.4h0M164.1 562.7h0M164.2 569.1h0M164.8 562.5h0M164.5 578.9h0M165.3 582.8h0M165.9 581.5h0M165.4 557.6h0M165.9 581.6h0" stroke="#efc2a4" stroke-width="1.9" stroke-linecap="round"/>
<path d="M172.4 569.9h0M170.8 580h0M170.8 552.6h0M169 540.5h0M168.8 563.6h0M169.8 564.7h0M168.9 576.6h0M171.3 552.8h0M171 575.6h0M169 555.6h0" stroke="#ebad88" stroke-width="1.9" stroke-linecap="round"/>
<path d="M175.2 575.7h0M174.2 558.2h0M175.9 576h0M174.3 556.8h0M173.9 573.9h0M175.3 565h0M173.9 563.8h0" stroke="#e7986d" stroke-width="1.9" stroke-linecap="round"/>
<path d="M181.3 570.9h0M178 571.8h0M181.1 562.3h0M177.5 552.2h0M180.3 566.8h0M179.4 560.5h0M177.8 549.6h0M178.9 559.7h0M181.1 557.3h0M180.4 564.4h0M180.8 544.4h0" stroke="#e28454" stroke-width="1.9" stroke-linecap="round"/>
<path d="M181.6 570.8h0M185.2 526.5h0M183.4 566.1h0M182.3 574.2h0M181.6 559.4h0M184.8 569h0M183.9 555.1h0M183.1 565.5h0M183 566.9h0M183.6 559.6h0" stroke="#db6f3f" stroke-width="1.9" stroke-linecap="round"/>
<path d="M186.8 558h0" stroke="#d55a2a" stroke-width="1.9" stroke-linecap="round"/>
<path d="M192.6 558h0M193 564.7h0M194.1 534.9h0" stroke="#ce4b20" stroke-width="1.9" stroke-linecap="round"/>
<path d="M205.2 536.6h0" stroke="#b72911" stroke-width="1.9" stroke-linecap="round"/>
<path d="M158.2 568.4h0M155.9 580.8h0M158 580.2h0M156.3 580h0M156.8 581.9h0M157.1 580.1h0M157.5 573.6h0M156.1 581.5h0M156 582.7h0M185.9 557.6h0M184.7 548.2h0M184 564.1h0M182.2 560.9h0M182 567.8h0M181.9 564.8h0M185.9 569h0M132.3 557.1h0M130.6 556.6h0M131.4 564.6h0M131.7 577.6h0M128.8 577.6h0M129.4 557.6h0M130.9 582.2h0M132 561.8h0M131.1 556.7h0M131.9 566h0M132.6 583h0M131.5 549h0M128.7 572.1h0M132 571.1h0M132.1 578.9h0M132.2 568.9h0M130.6 547.4h0M130.4 541.7h0M164.7 551.1h0M165.9 575.2h0M166.9 573.5h0M167.6 561.5h0M166.1 563.8h0M164.8 578.9h0M167.3 570.7h0M166.9 574.4h0M165.6 570.4h0M167.7 578.4h0M164.8 577.4h0M166.4 567.8h0M165.4 575h0M163.8 560.4h0M167.3 569.6h0M167.2 572.9h0M166.9 572.1h0M137 577.1h0M135.1 579.6h0M134.6 576.2h0M136.8 583.1h0M136.2 580.1h0M134.1 556.5h0M136.1 560.1h0M133.9 562.5h0M132.7 574.6h0M133.1 556.3h0M135.6 557.1h0M135.3 578.6h0M133.7 570.5h0M136.8 582.3h0M136.8 570.3h0M135.4 567.7h0M134.4 553.5h0M108 566.2h0M108.2 557.1h0M108.5 546h0M108.4 538.3h0M109.7 530.8h0M107.7 563.6h0M125.7 539.2h0M124.6 543.9h0M127.9 536.3h0M127.5 570.4h0M124.8 541h0M124.8 554.2h0M125.4 568.4h0M124.7 554h0M126 578.4h0M125.4 552.3h0M124.9 566.3h0M125 576.9h0M128 579.3h0M128.1 573.1h0M124.2 561.4h0M127.6 545.2h0M127.9 556.6h0M125.6 569h0M125.2 546.6h0M123.8 548.8h0M126.7 552.6h0M126.8 560.2h0M127.4 539.5h0M127.7 576.7h0M124.5 539.9h0M120.9 534.7h0M121.7 535.4h0M120.4 562.9h0M121.8 561.2h0M119.7 558.2h0M123.3 555.5h0M120.3 561h0M119.5 549.3h0M122.4 571.2h0M123.5 540.7h0M122.6 571.5h0M120.4 565.6h0M121.7 559.2h0M151.5 583.1h0M152.3 582.6h0M153.5 581.2h0M151 582.8h0M154.8 579.3h0M152.9 582h0M150.8 583.2h0M154.7 575.1h0M152.5 582.5h0M154.3 580.7h0M150.7 582.9h0M151.4 582.7h0M152.2 583.3h0M114.1 566.5h0M112.7 545.3h0M112.5 563.6h0M110.7 566.4h0M112.5 540.3h0M111.1 551.5h0M111 561.4h0M111.7 552.8h0M114.9 556.3h0M111.6 556.8h0M113.3 546.9h0M112.1 547.3h0M111.7 560h0M115.5 544.5h0M117.8 539.5h0M115.4 566.3h0M117.2 570.3h0M116.1 531.2h0M115.6 564.1h0M119.1 572.9h0M115.4 554.7h0M118.8 561.3h0M169.9 565.7h0M171.2 573.5h0M168.4 574.6h0M171.7 558h0M171.8 563.6h0M169.8 559.3h0M168.7 562.7h0M171.7 559.9h0M171.4 575h0M141.1 582.8h0M139.9 581.8h0M139.8 580.6h0M137.4 582.8h0M138.6 573.5h0M137.1 580.2h0M140.9 583.3h0M138.9 582.6h0M139.8 582.4h0M138 567.3h0M139.3 583.3h0M139.2 573.6h0M140.5 582.5h0M139.2 582.1h0M140.3 579.4h0M137.8 583.3h0M138.6 574.1h0M163 583.2h0M161.4 582h0M161.3 561h0M161.2 582.6h0M159.8 578.5h0M159.5 570.7h0M161.6 578.2h0M162.6 573.1h0M160.5 583h0M161.4 564h0M161.2 574h0M162 572.1h0M160.2 583.4h0M161.1 581.9h0M159.4 578.3h0M179.5 560.4h0M179.1 567.5h0M179.9 561.5h0M180.3 561.6h0M179.5 572.8h0M180.9 571.9h0M179.9 561.7h0M181.2 566.5h0M178.5 566.7h0M143.3 583.2h0M141.9 578.2h0M145.9 583.3h0M143.4 583.3h0M143 582.2h0M143.6 579.3h0M143.1 583h0M141.8 583.3h0M145.4 583.3h0M142.4 582.6h0M141.7 578.9h0M144.4 582.6h0M142.7 580.4h0M142.6 580.3h0M102.5 560.6h0M104.7 550.2h0M102.9 543.6h0M103.1 485.1h0M175.5 567.6h0M172.7 564.8h0M174.8 570.8h0M175.6 573.6h0M174.4 562.9h0M174.1 557.7h0M175.5 547.3h0M175.4 574.4h0M173.7 543.3h0M150.1 582.8h0M149.3 583.3h0M148.5 583.1h0M150.2 582.7h0M146.9 583.4h0M147.8 583h0M100.1 507h0M100.7 531h0M97.6 548.5h0M98.5 524.3h0M94.9 558.4h0M93.4 528.2h0M189.1 565.6h0M217.8 497.7h0M193.9 544h0" stroke="#000" stroke-opacity=".35" stroke-width="2.6" stroke-linecap="round"/>
<path d="M94.9 558.4h0M93.4 528.2h0" stroke="#4473b8" stroke-width="1.9" stroke-linecap="round"/>
<path d="M100.1 507h0M100.7 531h0M97.6 548.5h0M98.5 524.3h0" stroke="#4b7bbe" stroke-width="1.9" stroke-linecap="round"/>
<path d="M102.5 560.6h0M104.7 550.2h0M102.9 543.6h0M103.1 485.1h0" stroke="#5283c3" stroke-width="1.9" stroke-linecap="round"/>
<path d="M108 566.2h0M108.2 557.1h0M108.5 546h0M108.4 538.3h0M109.7 530.8h0M107.7 563.6h0" stroke="#5f8ec8" stroke-width="1.9" stroke-linecap="round"/>
<path d="M114.1 566.5h0M112.7 545.3h0M112.5 563.6h0M110.7 566.4h0M112.5 540.3h0M111.1 551.5h0M111 561.4h0M111.7 552.8h0M114.9 556.3h0M111.6 556.8h0M113.3 546.9h0M112.1 547.3h0M111.7 560h0" stroke="#6c98ce" stroke-width="1.9" stroke-linecap="round"/>
<path d="M115.5 544.5h0M117.8 539.5h0M115.4 566.3h0M117.2 570.3h0M116.1 531.2h0M115.6 564.1h0M119.1 572.9h0M115.4 554.7h0M118.8 561.3h0" stroke="#7ca5d4" stroke-width="1.9" stroke-linecap="round"/>
<path d="M120.9 534.7h0M121.7 535.4h0M120.4 562.9h0M121.8 561.2h0M119.7 558.2h0M123.3 555.5h0M120.3 561h0M119.5 549.3h0M122.4 571.2h0M123.5 540.7h0M122.6 571.5h0M120.4 565.6h0M121.7 559.2h0" stroke="#8db1da" stroke-width="1.9" stroke-linecap="round"/>
<path d="M125.7 539.2h0M124.6 543.9h0M127.9 536.3h0M127.5 570.4h0M124.8 541h0M124.8 554.2h0M125.4 568.4h0M124.7 554h0M126 578.4h0M125.4 552.3h0M124.9 566.3h0M125 576.9h0M128 579.3h0M128.1 573.1h0M124.2 561.4h0M127.6 545.2h0M127.9 556.6h0M125.6 569h0M125.2 546.6h0M123.8 548.8h0M126.7 552.6h0M126.8 560.2h0M127.4 539.5h0M127.7 576.7h0M124.5 539.9h0" stroke="#9dbee0" stroke-width="1.9" stroke-linecap="round"/>
<path d="M132.3 557.1h0M130.6 556.6h0M131.4 564.6h0M131.7 577.6h0M128.8 577.6h0M129.4 557.6h0M130.9 582.2h0M132 561.8h0M131.1 556.7h0M131.9 566h0M132.6 583h0M131.5 549h0M128.7 572.1h0M132 571.1h0M132.1 578.9h0M132.2 568.9h0M130.6 547.4h0M130.4 541.7h0" stroke="#adc7e2" stroke-width="1.9" stroke-linecap="round"/>
<path d="M137 577.1h0M135.1 579.6h0M134.6 576.2h0M136.8 583.1h0M136.2 580.1h0M134.1 556.5h0M136.1 560.1h0M133.9 562.5h0M132.7 574.6h0M133.1 556.3h0M135.6 557.1h0M135.3 578.6h0M133.7 570.5h0M136.8 582.3h0M136.8 570.3h0M135.4 567.7h0M134.4 553.5h0" stroke="#bdd0e5" stroke-width="1.9" stroke-linecap="round"/>
<path d="M141.1 582.8h0M139.9 581.8h0M139.8 580.6h0M137.4 582.8h0M138.6 573.5h0M137.1 580.2h0M140.9 583.3h0M138.9 582.6h0M139.8 582.4h0M138 567.3h0M139.3 583.3h0M139.2 573.6h0M140.5 582.5h0M139.2 582.1h0M140.3 579.4h0M137.8 583.3h0M138.6 574.1h0" stroke="#ccdae7" stroke-width="1.9" stroke-linecap="round"/>
<path d="M143.3 583.2h0M141.9 578.2h0M145.9 583.3h0M143.4 583.3h0M143 582.2h0M143.6 579.3h0M143.1 583h0M141.8 583.3h0M145.4 583.3h0M142.4 582.6h0M141.7 578.9h0M144.4 582.6h0M142.7 580.4h0M142.6 580.3h0" stroke="#dce3ea" stroke-width="1.9" stroke-linecap="round"/>
<path d="M150.1 582.8h0M149.3 583.3h0M148.5 583.1h0M150.2 582.7h0M146.9 583.4h0M147.8 583h0" stroke="#ececec" stroke-width="1.9" stroke-linecap="round"/>
<path d="M151.5 583.1h0M152.3 582.6h0M153.5 581.2h0M151 582.8h0M154.8 579.3h0M152.9 582h0M150.8 583.2h0M154.7 575.1h0M152.5 582.5h0M154.3 580.7h0M150.7 582.9h0M151.4 582.7h0M152.2 583.3h0" stroke="#ede2da" stroke-width="1.9" stroke-linecap="round"/>
<path d="M158.2 568.4h0M155.9 580.8h0M158 580.2h0M156.3 580h0M156.8 581.9h0M157.1 580.1h0M157.5 573.6h0M156.1 581.5h0M156 582.7h0" stroke="#eed7c8" stroke-width="1.9" stroke-linecap="round"/>
<path d="M163 583.2h0M161.4 582h0M161.3 561h0M161.2 582.6h0M159.8 578.5h0M159.5 570.7h0M161.6 578.2h0M162.6 573.1h0M160.5 583h0M161.4 564h0M161.2 574h0M162 572.1h0M160.2 583.4h0M161.1 581.9h0M159.4 578.3h0" stroke="#eecdb6" stroke-width="1.9" stroke-linecap="round"/>
<path d="M164.7 551.1h0M165.9 575.2h0M166.9 573.5h0M167.6 561.5h0M166.1 563.8h0M164.8 578.9h0M167.3 570.7h0M166.9 574.4h0M165.6 570.4h0M167.7 578.4h0M164.8 577.4h0M166.4 567.8h0M165.4 575h0M163.8 560.4h0M167.3 569.6h0M167.2 572.9h0M166.9 572.1h0" stroke="#efc2a4" stroke-width="1.9" stroke-linecap="round"/>
<path d="M169.9 565.7h0M171.2 573.5h0M168.4 574.6h0M171.7 558h0M171.8 563.6h0M169.8 559.3h0M168.7 562.7h0M171.7 559.9h0M171.4 575h0" stroke="#ebad88" stroke-width="1.9" stroke-linecap="round"/>
<path d="M175.5 567.6h0M172.7 564.8h0M174.8 570.8h0M175.6 573.6h0M174.4 562.9h0M174.1 557.7h0M175.5 547.3h0M175.4 574.4h0M173.7 543.3h0" stroke="#e7986d" stroke-width="1.9" stroke-linecap="round"/>
<path d="M179.5 560.4h0M179.1 567.5h0M179.9 561.5h0M180.3 561.6h0M179.5 572.8h0M180.9 571.9h0M179.9 561.7h0M181.2 566.5h0M178.5 566.7h0" stroke="#e28454" stroke-width="1.9" stroke-linecap="round"/>
<path d="M185.9 557.6h0M184.7 548.2h0M184 564.1h0M182.2 560.9h0M182 567.8h0M181.9 564.8h0M185.9 569h0" stroke="#db6f3f" stroke-width="1.9" stroke-linecap="round"/>
<path d="M189.1 565.6h0" stroke="#d55a2a" stroke-width="1.9" stroke-linecap="round"/>
<path d="M193.9 544h0" stroke="#ce4b20" stroke-width="1.9" stroke-linecap="round"/>
<path d="M217.8 497.7h0" stroke="#991515" stroke-width="1.9" stroke-linecap="round"/>
<path d="M175.8 560.7h0M176.4 552h0M174.3 572.1h0M174.3 543.8h0M173 559.4h0M173.6 557h0M174.3 575.7h0M173.2 529.8h0M175.1 570.2h0M176.6 561.2h0M175.1 562h0M174.7 569.8h0M172.6 555.3h0M176.6 571.7h0M128 559.6h0M127.2 548.9h0M125.6 560.7h0M127.4 539.9h0M126.2 558.4h0M125.8 541.5h0M125.7 567.5h0M124.5 542.7h0M126.9 553.9h0M124.3 515h0M126.8 548.8h0M126.5 538.3h0M127.3 549.4h0M124.7 554.3h0M125.4 577.2h0M152.8 581.9h0M153 582.6h0M152.9 582.9h0M153.6 583h0M152.8 581.9h0M152.3 582.8h0M154.3 582h0M153.1 582.6h0M152.9 581.3h0M154.8 583h0M152.1 581.3h0M152.4 583.4h0M187 570.4h0M187.8 558.5h0M187.3 551.2h0M186.1 557.8h0M166.4 560h0M166.9 575.3h0M167.1 569.2h0M167.8 571.2h0M166.3 557.9h0M167.9 574.6h0M167.7 573.5h0M167.4 565.8h0M165.4 577.2h0M167 562.9h0M167 563h0M164 563.1h0M98.1 555.6h0M100 543.1h0M162.1 572.6h0M161.5 573.5h0M162.5 582.5h0M159.4 583.1h0M162.3 569.1h0M159.5 576.2h0M160.4 583.5h0M159.7 581.8h0M159.6 582.9h0M159.8 581.2h0M162.8 567.2h0M162.2 583.2h0M159.9 562.9h0M109.6 540.8h0M109.8 561.1h0M108.6 542.4h0M109.6 546.1h0M109.6 528.3h0M107 541.9h0M110.3 566.7h0M108.8 547h0M108.8 558.5h0M109.6 563.9h0M108.7 539.9h0M107.6 547.3h0M106.6 561.2h0M108.5 529.7h0M107.3 561.5h0M114.6 525h0M112.1 542.2h0M111.2 492.6h0M111.1 565.8h0M114.6 547.4h0M110.6 535h0M114.8 559.3h0M112 564.6h0M113.6 553.4h0M111.4 555h0M113.4 554h0M112.7 565.4h0M111.7 568.8h0M112.6 568.4h0M117.5 572.6h0M115.9 553.3h0M117.9 545.9h0M116.9 534.7h0M116.3 551.8h0M115.2 547.4h0M115.7 553.4h0M115.7 549.1h0M119 548.6h0M116.3 559.2h0M117.2 528.4h0M115 532.5h0M147.2 583h0M149.6 583.5h0M147.9 583.1h0M149.9 582.9h0M150.2 582.5h0M158.6 582.7h0M156.5 580.2h0M157.5 583.4h0M156.9 577.3h0M159 576.7h0M157.7 576.7h0M155.3 578.1h0M156.9 577h0M157.6 581.3h0M157.9 583.3h0M157.1 575.5h0M158.5 570.3h0M155.6 582.1h0M157.1 579.7h0M133.4 560.5h0M133.3 582.6h0M136.7 581.1h0M135.1 578.9h0M135 571.9h0M136 566.8h0M134.9 574.9h0M132.8 579.7h0M135.8 560.1h0M136.2 561.4h0M136.5 575h0M135.7 574.9h0M133.3 580h0M132.8 550.4h0M135.7 579.7h0M134.1 581.9h0M138.6 581h0M138.9 583.2h0M139.6 583h0M139.3 577.8h0M137.9 582.1h0M139.9 582.4h0M139.3 574.7h0M137.1 578.4h0M137.6 567.5h0M139 579.8h0M138.7 580.5h0M138.5 583.4h0M140.6 580.4h0M140.5 582h0M138.3 571.4h0M180.1 569.8h0M177.4 568h0M179.1 575.1h0M179.4 567.1h0M181.4 570.3h0M178.6 575.7h0M181.4 546.1h0M179.4 555h0M177.4 568.9h0M179.8 573.4h0M129.9 561.2h0M129.3 554.4h0M132 575.6h0M129.1 559.5h0M130.6 572.8h0M132.6 574.3h0M129.5 557.2h0M128.4 558.5h0M132.5 582.1h0M128.4 558.4h0M132.4 569.1h0M128.2 537.5h0M129.6 543.9h0M130.4 555.1h0M129.4 543.4h0M119.9 538.7h0M123.7 564.1h0M122.1 568.6h0M123.2 560.1h0M122 559.5h0M119.7 551.1h0M122.8 544.3h0M121.1 503.9h0M121.1 542.6h0M121.5 556.3h0M120.6 550h0M120.7 537.8h0M123.4 548.3h0M120.7 550h0M122.7 539.7h0M119.8 563.5h0M123.6 573.6h0M122.7 557.7h0M120.5 547.2h0M121.7 551.5h0M123.6 526.1h0M123.3 536.4h0M142.4 581.3h0M141.6 582.7h0M141.8 582.9h0M145.9 582.7h0M144.1 580.9h0M182 571.7h0M185.1 570.3h0M183.4 553h0M185.5 555.6h0M185 562.5h0M183.8 546.6h0M183.1 544.5h0M185.7 557.3h0M182.6 567h0M185.6 547.6h0M170.5 559.1h0M171.8 560h0M172.2 578.7h0M172.5 568.5h0M172.1 559.1h0M169.5 570.5h0M170.4 562.4h0M168.8 572.1h0M171.7 576.3h0M171.1 563.3h0M91.9 538.3h0M90.5 533.2h0M208.9 534.9h0M234 429.4h0" stroke="#000" stroke-opacity=".35" stroke-width="2.6" stroke-linecap="round"/>
<path d="M91.9 538.3h0M90.5 533.2h0" stroke="#3d6cb3" stroke-width="1.9" stroke-linecap="round"/>
<path d="M98.1 555.6h0M100 543.1h0" stroke="#4b7bbe" stroke-width="1.9" stroke-linecap="round"/>
<path d="M109.6 540.8h0M109.8 561.1h0M108.6 542.4h0M109.6 546.1h0M109.6 528.3h0M107 541.9h0M110.3 566.7h0M108.8 547h0M108.8 558.5h0M109.6 563.9h0M108.7 539.9h0M107.6 547.3h0M106.6 561.2h0M108.5 529.7h0M107.3 561.5h0" stroke="#5f8ec8" stroke-width="1.9" stroke-linecap="round"/>
<path d="M114.6 525h0M112.1 542.2h0M111.2 492.6h0M111.1 565.8h0M114.6 547.4h0M110.6 535h0M114.8 559.3h0M112 564.6h0M113.6 553.4h0M111.4 555h0M113.4 554h0M112.7 565.4h0M111.7 568.8h0M112.6 568.4h0" stroke="#6c98ce" stroke-width="1.9" stroke-linecap="round"/>
<path d="M117.5 572.6h0M115.9 553.3h0M117.9 545.9h0M116.9 534.7h0M116.3 551.8h0M115.2 547.4h0M115.7 553.4h0M115.7 549.1h0M119 548.6h0M116.3 559.2h0M117.2 528.4h0M115 532.5h0" stroke="#7ca5d4" stroke-width="1.9" stroke-linecap="round"/>
<path d="M119.9 538.7h0M123.7 564.1h0M122.1 568.6h0M123.2 560.1h0M122 559.5h0M119.7 551.1h0M122.8 544.3h0M121.1 503.9h0M121.1 542.6h0M121.5 556.3h0M120.6 550h0M120.7 537.8h0M123.4 548.3h0M120.7 550h0M122.7 539.7h0M119.8 563.5h0M123.6 573.6h0M122.7 557.7h0M120.5 547.2h0M121.7 551.5h0M123.6 526.1h0M123.3 536.4h0" stroke="#8db1da" stroke-width="1.9" stroke-linecap="round"/>
<path d="M128 559.6h0M127.2 548.9h0M125.6 560.7h0M127.4 539.9h0M126.2 558.4h0M125.8 541.5h0M125.7 567.5h0M124.5 542.7h0M126.9 553.9h0M124.3 515h0M126.8 548.8h0M126.5 538.3h0M127.3 549.4h0M124.7 554.3h0M125.4 577.2h0" stroke="#9dbee0" stroke-width="1.9" stroke-linecap="round"/>
<path d="M129.9 561.2h0M129.3 554.4h0M132 575.6h0M129.1 559.5h0M130.6 572.8h0M132.6 574.3h0M129.5 557.2h0M128.4 558.5h0M132.5 582.1h0M128.4 558.4h0M132.4 569.1h0M128.2 537.5h0M129.6 543.9h0M130.4 555.1h0M129.4 543.4h0" stroke="#adc7e2" stroke-width="1.9" stroke-linecap="round"/>
<path d="M133.4 560.5h0M133.3 582.6h0M136.7 581.1h0M135.1 578.9h0M135 571.9h0M136 566.8h0M134.9 574.9h0M132.8 579.7h0M135.8 560.1h0M136.2 561.4h0M136.5 575h0M135.7 574.9h0M133.3 580h0M132.8 550.4h0M135.7 579.7h0M134.1 581.9h0" stroke="#bdd0e5" stroke-width="1.9" stroke-linecap="round"/>
<path d="M138.6 581h0M138.9 583.2h0M139.6 583h0M139.3 577.8h0M137.9 582.1h0M139.9 582.4h0M139.3 574.7h0M137.1 578.4h0M137.6 567.5h0M139 579.8h0M138.7 580.5h0M138.5 583.4h0M140.6 580.4h0M140.5 582h0M138.3 571.4h0" stroke="#ccdae7" stroke-width="1.9" stroke-linecap="round"/>
<path d="M142.4 581.3h0M141.6 582.7h0M141.8 582.9h0M145.9 582.7h0M144.1 580.9h0" stroke="#dce3ea" stroke-width="1.9" stroke-linecap="round"/>
<path d="M147.2 583h0M149.6 583.5h0M147.9 583.1h0M149.9 582.9h0M150.2 582.5h0" stroke="#ececec" stroke-width="1.9" stroke-linecap="round"/>
<path d="M152.8 581.9h0M153 582.6h0M152.9 582.9h0M153.6 583h0M152.8 581.9h0M152.3 582.8h0M154.3 582h0M153.1 582.6h0M152.9 581.3h0M154.8 583h0M152.1 581.3h0M152.4 583.4h0" stroke="#ede2da" stroke-width="1.9" stroke-linecap="round"/>
<path d="M158.6 582.7h0M156.5 580.2h0M157.5 583.4h0M156.9 577.3h0M159 576.7h0M157.7 576.7h0M155.3 578.1h0M156.9 577h0M157.6 581.3h0M157.9 583.3h0M157.1 575.5h0M158.5 570.3h0M155.6 582.1h0M157.1 579.7h0" stroke="#eed7c8" stroke-width="1.9" stroke-linecap="round"/>
<path d="M162.1 572.6h0M161.5 573.5h0M162.5 582.5h0M159.4 583.1h0M162.3 569.1h0M159.5 576.2h0M160.4 583.5h0M159.7 581.8h0M159.6 582.9h0M159.8 581.2h0M162.8 567.2h0M162.2 583.2h0M159.9 562.9h0" stroke="#eecdb6" stroke-width="1.9" stroke-linecap="round"/>
<path d="M166.4 560h0M166.9 575.3h0M167.1 569.2h0M167.8 571.2h0M166.3 557.9h0M167.9 574.6h0M167.7 573.5h0M167.4 565.8h0M165.4 577.2h0M167 562.9h0M167 563h0M164 563.1h0" stroke="#efc2a4" stroke-width="1.9" stroke-linecap="round"/>
<path d="M170.5 559.1h0M171.8 560h0M172.2 578.7h0M172.5 568.5h0M172.1 559.1h0M169.5 570.5h0M170.4 562.4h0M168.8 572.1h0M171.7 576.3h0M171.1 563.3h0" stroke="#ebad88" stroke-width="1.9" stroke-linecap="round"/>
<path d="M175.8 560.7h0M176.4 552h0M174.3 572.1h0M174.3 543.8h0M173 559.4h0M173.6 557h0M174.3 575.7h0M173.2 529.8h0M175.1 570.2h0M176.6 561.2h0M175.1 562h0M174.7 569.8h0M172.6 555.3h0M176.6 571.7h0" stroke="#e7986d" stroke-width="1.9" stroke-linecap="round"/>
<path d="M180.1 569.8h0M177.4 568h0M179.1 575.1h0M179.4 567.1h0M181.4 570.3h0M178.6 575.7h0M181.4 546.1h0M179.4 555h0M177.4 568.9h0M179.8 573.4h0" stroke="#e28454" stroke-width="1.9" stroke-linecap="round"/>
<path d="M182 571.7h0M185.1 570.3h0M183.4 553h0M185.5 555.6h0M185 562.5h0M183.8 546.6h0M183.1 544.5h0M185.7 557.3h0M182.6 567h0M185.6 547.6h0" stroke="#db6f3f" stroke-width="1.9" stroke-linecap="round"/>
<path d="M187 570.4h0M187.8 558.5h0M187.3 551.2h0M186.1 557.8h0" stroke="#d55a2a" stroke-width="1.9" stroke-linecap="round"/>
<path d="M208.9 534.9h0" stroke="#b0200f" stroke-width="1.9" stroke-linecap="round"/>
<path d="M234 429.4h0" stroke="#76051d" stroke-width="1.9" stroke-linecap="round"/>
<path d="M136 581h0M134.2 566.9h0M134.4 583.3h0M135.6 582.5h0M137 564.8h0M135.5 559.1h0M134.4 583.1h0M133.9 559h0M135.6 578.8h0M136.1 582.9h0M135.8 578.9h0M135.6 567.6h0M112.3 549.6h0M113.6 564.5h0M110.5 542.7h0M114.6 546.9h0M113.9 567.3h0M112.6 558.5h0M111.2 550.1h0M114.5 564.2h0M112.5 531.3h0M114.7 571.2h0M170.5 570.6h0M172.3 578.9h0M172.1 551.8h0M170.1 579.2h0M169.2 559.4h0M169.6 542.2h0M168.7 558.7h0M169.6 572.3h0M171.8 555.1h0M168.7 575.7h0M170.1 573.1h0M169 562.4h0M159.7 582.5h0M162.4 577.8h0M161.6 575.8h0M163.3 583.4h0M160.5 581.9h0M159.6 579.5h0M163.5 583.4h0M161.8 573.1h0M163.7 569h0M163.1 582h0M163.7 581.5h0M163.7 570.3h0M162.1 566.2h0M163.6 562.3h0M161.1 580.8h0M161.8 568.5h0M162.5 566.5h0M159.8 579.6h0M161.2 564.5h0M161 561h0M162 581.3h0M161.9 578.8h0M160 583.3h0M162.2 566.2h0M162.8 558.1h0M121.3 554.2h0M123.5 546.5h0M122.3 542h0M120.9 540.4h0M120 531.8h0M119.7 571.4h0M123.6 574.7h0M122.9 549h0M122.9 554.8h0M120.6 546.2h0M120.4 524.9h0M141.7 583.2h0M143.9 583.3h0M142.8 583.4h0M145.2 580.4h0M145 583.1h0M144.2 583.3h0M143.2 580.9h0M143.4 578.3h0M143.2 583.4h0M132.1 566.2h0M129.9 570.8h0M129.9 578.2h0M132 558.1h0M131.3 554.5h0M132.2 550.2h0M129.3 538.3h0M132.3 582.6h0M131.6 558.7h0M129.6 568.8h0M129.7 565.8h0M131.3 562.2h0M131.3 581.3h0M131 575.9h0M131.2 574.8h0M128.3 563.7h0M128.9 576.5h0M130.2 580.4h0M129.7 577.1h0M164.3 579.6h0M165.1 582.2h0M165.7 549.9h0M164.8 568.9h0M167.8 574h0M165 583.1h0M167.7 576.8h0M167.3 575h0M167.4 564.9h0M165.2 576.9h0M168 563.7h0M166.2 554.2h0M163.9 568.8h0M168 562.9h0M164.5 566.7h0M168 579.8h0M166.6 556.3h0M165.4 582.3h0M163.9 559.3h0M167.6 581h0M173.5 577.2h0M176.8 575.7h0M173.9 565.9h0M173.6 543.4h0M175.5 561.7h0M175.3 552h0M174.5 552.4h0M176.8 546.5h0M174.3 575.8h0M175.9 566.3h0M104.5 549.6h0M105 546.4h0M151 583.2h0M153.3 583h0M154.8 583.4h0M151.6 582.9h0M152.6 583.3h0M154 583.2h0M153.1 580h0M152.4 582.9h0M154.1 579.1h0M125.2 544.3h0M126.8 561.9h0M126.6 563.4h0M125.5 553.8h0M124 564.2h0M123.8 560.7h0M126 561.5h0M125.3 521.1h0M128 579.2h0M127.5 552.8h0M127.7 559h0M127.2 542.8h0M126.1 565h0M125.7 541.4h0M127.3 555.6h0M124.6 561.1h0M124.8 556.5h0M124.3 546.6h0M124.6 574.7h0M185.7 567.9h0M183.7 536h0M182.3 572.2h0M185.9 548.6h0M184.8 563.5h0M183.1 559.6h0M182.9 564.3h0M182.6 561.9h0M181.9 568.8h0M185.7 572.4h0M116.9 571h0M117.2 567.3h0M116.7 560.1h0M118.1 552.6h0M115.6 504.4h0M116.9 539.5h0M118.5 564.3h0M116.8 570.1h0M117.6 556.7h0M118 528.6h0M117 559.6h0M118.8 570.3h0M116.4 567.5h0M118 541h0M118.9 562h0M177.6 551.1h0M179.8 564.5h0M179.6 553.4h0M177.5 554h0M179.7 573.4h0M179.1 547.4h0M180.9 569.1h0M181.3 560.5h0M180.4 567.4h0M177.8 555.5h0M178.1 553.6h0M181.1 561.3h0M177.6 568.4h0M156.2 580.7h0M157.5 577.5h0M155.5 580.8h0M158.9 566h0M156.8 578.9h0M158.8 583.3h0M155.9 582.6h0M155.2 583h0M159.2 583.5h0M155.4 576.4h0M159.1 579.3h0M158.5 580.9h0M156.2 572.6h0M140.6 582h0M137.2 582.4h0M139.2 582.6h0M141.1 583.3h0M140 582.2h0M139.8 580.1h0M137.7 581.9h0M138.3 567.8h0M108.9 546.6h0M106.2 550.5h0M108.7 549.9h0M108.2 560.6h0M109.6 550h0M107.1 543.4h0M110.1 567.4h0M109.6 540.8h0M108 541.7h0M110.3 534.9h0M147.9 583h0M150.1 582.8h0M147.9 583.3h0M148.8 583.2h0M150.4 583.1h0M97.9 564.2h0M100.8 551.6h0M101.3 550.1h0M186.6 565.4h0M186.4 570h0M200 550h0M95.3 544.9h0" stroke="#000" stroke-opacity=".35" stroke-width="2.6" stroke-linecap="round"/>
<path d="M95.3 544.9h0" stroke="#4473b8" stroke-width="1.9" stroke-linecap="round"/>
<path d="M97.9 564.2h0M100.8 551.6h0M101.3 550.1h0" stroke="#4b7bbe" stroke-width="1.9" stroke-linecap="round"/>
<path d="M104.5 549.6h0M105 546.4h0" stroke="#5283c3" stroke-width="1.9" stroke-linecap="round"/>
<path d="M108.9 546.6h0M106.2 550.5h0M108.7 549.9h0M108.2 560.6h0M109.6 550h0M107.1 543.4h0M110.1 567.4h0M109.6 540.8h0M108 541.7h0M110.3 534.9h0" stroke="#5f8ec8" stroke-width="1.9" stroke-linecap="round"/>
<path d="M112.3 549.6h0M113.6 564.5h0M110.5 542.7h0M114.6 546.9h0M113.9 567.3h0M112.6 558.5h0M111.2 550.1h0M114.5 564.2h0M112.5 531.3h0M114.7 571.2h0" stroke="#6c98ce" stroke-width="1.9" stroke-linecap="round"/>
<path d="M116.9 571h0M117.2 567.3h0M116.7 560.1h0M118.1 552.6h0M115.6 504.4h0M116.9 539.5h0M118.5 564.3h0M116.8 570.1h0M117.6 556.7h0M118 528.6h0M117 559.6h0M118.8 570.3h0M116.4 567.5h0M118 541h0M118.9 562h0" stroke="#7ca5d4" stroke-width="1.9" stroke-linecap="round"/>
<path d="M121.3 554.2h0M123.5 546.5h0M122.3 542h0M120.9 540.4h0M120 531.8h0M119.7 571.4h0M123.6 574.7h0M122.9 549h0M122.9 554.8h0M120.6 546.2h0M120.4 524.9h0" stroke="#8db1da" stroke-width="1.9" stroke-linecap="round"/>
<path d="M125.2 544.3h0M126.8 561.9h0M126.6 563.4h0M125.5 553.8h0M124 564.2h0M123.8 560.7h0M126 561.5h0M125.3 521.1h0M128 579.2h0M127.5 552.8h0M127.7 559h0M127.2 542.8h0M126.1 565h0M125.7 541.4h0M127.3 555.6h0M124.6 561.1h0M124.8 556.5h0M124.3 546.6h0M124.6 574.7h0" stroke="#9dbee0" stroke-width="1.9" stroke-linecap="round"/>
<path d="M132.1 566.2h0M129.9 570.8h0M129.9 578.2h0M132 558.1h0M131.3 554.5h0M132.2 550.2h0M129.3 538.3h0M132.3 582.6h0M131.6 558.7h0M129.6 568.8h0M129.7 565.8h0M131.3 562.2h0M131.3 581.3h0M131 575.9h0M131.2 574.8h0M128.3 563.7h0M128.9 576.5h0M130.2 580.4h0M129.7 577.1h0" stroke="#adc7e2" stroke-width="1.9" stroke-linecap="round"/>
<path d="M136 581h0M134.2 566.9h0M134.4 583.3h0M135.6 582.5h0M137 564.8h0M135.5 559.1h0M134.4 583.1h0M133.9 559h0M135.6 578.8h0M136.1 582.9h0M135.8 578.9h0M135.6 567.6h0" stroke="#bdd0e5" stroke-width="1.9" stroke-linecap="round"/>
<path d="M140.6 582h0M137.2 582.4h0M139.2 582.6h0M141.1 583.3h0M140 582.2h0M139.8 580.1h0M137.7 581.9h0M138.3 567.8h0" stroke="#ccdae7" stroke-width="1.9" stroke-linecap="round"/>
<path d="M141.7 583.2h0M143.9 583.3h0M142.8 583.4h0M145.2 580.4h0M145 583.1h0M144.2 583.3h0M143.2 580.9h0M143.4 578.3h0M143.2 583.4h0" stroke="#dce3ea" stroke-width="1.9" stroke-linecap="round"/>
<path d="M147.9 583h0M150.1 582.8h0M147.9 583.3h0M148.8 583.2h0M150.4 583.1h0" stroke="#ececec" stroke-width="1.9" stroke-linecap="round"/>
<path d="M151 583.2h0M153.3 583h0M154.8 583.4h0M151.6 582.9h0M152.6 583.3h0M154 583.2h0M153.1 580h0M152.4 582.9h0M154.1 579.1h0" stroke="#ede2da" stroke-width="1.9" stroke-linecap="round"/>
<path d="M156.2 580.7h0M157.5 577.5h0M155.5 580.8h0M158.9 566h0M156.8 578.9h0M158.8 583.3h0M155.9 582.6h0M155.2 583h0M159.2 583.5h0M155.4 576.4h0M159.1 579.3h0M158.5 580.9h0M156.2 572.6h0" stroke="#eed7c8" stroke-width="1.9" stroke-linecap="round"/>
<path d="M159.7 582.5h0M162.4 577.8h0M161.6 575.8h0M163.3 583.4h0M160.5 581.9h0M159.6 579.5h0M163.5 583.4h0M161.8 573.1h0M163.7 569h0M163.1 582h0M163.7 581.5h0M163.7 570.3h0M162.1 566.2h0M163.6 562.3h0M161.1 580.8h0M161.8 568.5h0M162.5 566.5h0M159.8 579.6h0M161.2 564.5h0M161 561h0M162 581.3h0M161.9 578.8h0M160 583.3h0M162.2 566.2h0M162.8 558.1h0" stroke="#eecdb6" stroke-width="1.9" stroke-linecap="round"/>
<path d="M164.3 579.6h0M165.1 582.2h0M165.7 549.9h0M164.8 568.9h0M167.8 574h0M165 583.1h0M167.7 576.8h0M167.3 575h0M167.4 564.9h0M165.2 576.9h0M168 563.7h0M166.2 554.2h0M163.9 568.8h0M168 562.9h0M164.5 566.7h0M168 579.8h0M166.6 556.3h0M165.4 582.3h0M163.9 559.3h0M167.6 581h0" stroke="#efc2a4" stroke-width="1.9" stroke-linecap="round"/>
<path d="M170.5 570.6h0M172.3 578.9h0M172.1 551.8h0M170.1 579.2h0M169.2 559.4h0M169.6 542.2h0M168.7 558.7h0M169.6 572.3h0M171.8 555.1h0M168.7 575.7h0M170.1 573.1h0M169 562.4h0" stroke="#ebad88" stroke-width="1.9" stroke-linecap="round"/>
<path d="M173.5 577.2h0M176.8 575.7h0M173.9 565.9h0M173.6 543.4h0M175.5 561.7h0M175.3 552h0M174.5 552.4h0M176.8 546.5h0M174.3 575.8h0M175.9 566.3h0" stroke="#e7986d" stroke-width="1.9" stroke-linecap="round"/>
<path d="M177.6 551.1h0M179.8 564.5h0M179.6 553.4h0M177.5 554h0M179.7 573.4h0M179.1 547.4h0M180.9 569.1h0M181.3 560.5h0M180.4 567.4h0M177.8 555.5h0M178.1 553.6h0M181.1 561.3h0M177.6 568.4h0" stroke="#e28454" stroke-width="1.9" stroke-linecap="round"/>
<path d="M185.7 567.9h0M183.7 536h0M182.3 572.2h0M185.9 548.6h0M184.8 563.5h0M183.1 559.6h0M182.9 564.3h0M182.6 561.9h0M181.9 568.8h0M185.7 572.4h0" stroke="#db6f3f" stroke-width="1.9" stroke-linecap="round"/>
<path d="M186.6 565.4h0M186.4 570h0" stroke="#d55a2a" stroke-width="1.9" stroke-linecap="round"/>
<path d="M200 550h0" stroke="#bf3314" stroke-width="1.9" stroke-linecap="round"/>
<path d="M142.9 583h0M144 583.2h0M142.5 580.2h0M145.3 583.4h0M142.5 581.3h0M142.1 582.7h0M142.8 583h0M142 583.3h0M144.6 581.3h0M144.3 581.7h0M142.5 583.1h0M145.1 582.4h0M143.3 582.1h0M142.2 580.8h0M178.5 564.5h0M177.4 550.7h0M179 548h0M177.5 576.2h0M177.1 570.6h0M179.2 575.9h0M177.5 567.4h0M177.8 536.2h0M180.8 573.7h0M177.3 562.4h0M177.9 575.1h0M178.6 572.6h0M180.2 550.8h0M180 567.1h0M177.4 556.3h0M179.3 568.5h0M179.4 538.7h0M178.3 570.7h0M180.2 571.1h0M178.6 568.9h0M133.7 567.7h0M136.5 565h0M132.9 571.4h0M136.3 563.2h0M132.9 565.3h0M136.2 567.9h0M135.5 573.6h0M133.5 561.6h0M133.4 574.1h0M133.3 570.9h0M135.5 558.5h0M136 576.6h0M135.2 561h0M132.9 563.1h0M136.4 575.6h0M134.5 581.3h0M128.5 578.5h0M132.6 580.7h0M128.3 560.5h0M131.6 581.3h0M132.6 573.5h0M131.5 568.9h0M129.5 543.8h0M131.3 554.2h0M128.7 562.2h0M129.5 543.3h0M129.1 578h0M130.1 546.3h0M129.9 560.5h0M129.1 578.3h0M119.3 540.1h0M116.8 551.5h0M115.5 555.9h0M116.1 553.8h0M116.4 571.1h0M116.4 551h0M118 544.1h0M115.1 563.6h0M116.3 553.2h0M116 571.5h0M138.7 583.3h0M139.7 569.4h0M139.4 574.5h0M139.4 570.9h0M140.6 582.9h0M138.3 582.4h0M137.2 566.5h0M138.6 583.4h0M140.7 583h0M139 573.2h0M137.9 582.2h0M141.1 581.4h0M184.4 566.3h0M167.5 571.1h0M163.8 573.1h0M167.1 582.5h0M166.9 563h0M166.3 574.1h0M166.5 569.7h0M165.4 579.4h0M167 577.4h0M163.8 574.6h0M166.6 573.1h0M166.5 566.5h0M167.7 565.9h0M164.6 554.6h0M201.5 526.5h0M99.7 559.2h0M101.1 541.6h0M186.7 563.2h0M186.9 566.8h0M189.6 565h0M189 564.3h0M114.7 548.4h0M111.4 545h0M114.6 546.8h0M110.9 554.1h0M114.3 565.3h0M114.7 555.2h0M112.7 568.6h0M112 559.1h0M111 549.9h0M113.3 552.7h0M114.2 542.3h0M111.8 520h0M113.8 562.1h0M113.6 556.5h0M110.7 568.8h0M111.7 554.2h0M169.5 578.6h0M170 564h0M170.4 580.1h0M170 549h0M170.7 571.3h0M170 573.6h0M170.2 567.5h0M172.2 552.2h0M171.3 553.2h0M170.6 553.3h0M169.6 574.6h0M169.7 578.5h0M170.3 576.1h0M172 569.8h0M171.9 579.1h0M172.1 562.8h0M168.5 567.9h0M169.7 577.4h0M172.5 566.2h0M169.6 565.6h0M169.7 556.8h0M168.5 579.6h0M170.1 564.2h0M161.6 582.9h0M161.1 580.6h0M160 583h0M160 569h0M162.4 559h0M162 580.6h0M160 583.3h0M162.2 580.7h0M159.7 582.4h0M162.5 581.5h0M161.8 573h0M161.7 574.9h0M162.2 570.2h0M162.8 574.4h0M122.2 549.2h0M123.6 547.7h0M123.7 534.3h0M119.9 551.4h0M122.2 537.4h0M121.7 570.3h0M121.2 538.6h0M119.5 562.8h0M123 527.3h0M119.7 573.5h0M123.2 563.4h0M121.4 569.6h0M122.4 554.8h0M120.2 542.2h0M123.7 559.4h0M121.5 556.7h0M157.5 582.8h0M155.9 579.7h0M157.9 577.5h0M156.3 583.4h0M158.7 578.2h0M155.1 581.6h0M156.1 582.1h0M156.7 582.9h0M155.4 583.4h0M156.8 581.9h0M158.1 575.4h0M157.2 573.2h0M157.2 581.4h0M176.3 564.8h0M173.4 563h0M175 554.6h0M174 566.8h0M175.9 562.4h0M174.1 561.9h0M176.5 573.2h0M172.7 568.7h0M173.5 557.4h0M174.3 556.8h0M175.4 560.4h0M174.2 553.6h0M173.2 542.5h0M124.9 558.6h0M125.8 573.2h0M125 546.1h0M127.9 562.7h0M124.2 569.1h0M124 551.1h0M126.5 551.9h0M126.3 561.1h0M124.1 561.7h0M125.3 566.4h0M124.6 568.2h0M125.4 533.4h0M124.3 569.5h0M103 554.4h0M104.7 562.7h0M101.6 514.7h0M104.7 538.8h0M102.1 563.4h0M109.8 559.8h0M107.2 538.5h0M108.2 509h0M107.2 550.2h0M109.4 542.9h0M149.2 583.1h0M149.1 583.1h0M153.6 581.9h0M153.3 580.5h0M152.9 583.1h0M153.5 582.7h0M152.3 580.5h0M152.9 583h0M154.2 580.8h0M152.8 582.3h0M153 579.1h0M150.8 581.8h0M216.3 515.2h0M197 552.9h0" stroke="#000" stroke-opacity=".35" stroke-width="2.6" stroke-linecap="round"/>
<path d="M99.7 559.2h0M101.1 541.6h0" stroke="#4b7bbe" stroke-width="1.9" stroke-linecap="round"/>
<path d="M103 554.4h0M104.7 562.7h0M101.6 514.7h0M104.7 538.8h0M102.1 563.4h0" stroke="#5283c3" stroke-width="1.9" stroke-linecap="round"/>
<path d="M109.8 559.8h0M107.2 538.5h0M108.2 509h0M107.2 550.2h0M109.4 542.9h0" stroke="#5f8ec8" stroke-width="1.9" stroke-linecap="round"/>
<path d="M114.7 548.4h0M111.4 545h0M114.6 546.8h0M110.9 554.1h0M114.3 565.3h0M114.7 555.2h0M112.7 568.6h0M112 559.1h0M111 549.9h0M113.3 552.7h0M114.2 542.3h0M111.8 520h0M113.8 562.1h0M113.6 556.5h0M110.7 568.8h0M111.7 554.2h0" stroke="#6c98ce" stroke-width="1.9" stroke-linecap="round"/>
<path d="M119.3 540.1h0M116.8 551.5h0M115.5 555.9h0M116.1 553.8h0M116.4 571.1h0M116.4 551h0M118 544.1h0M115.1 563.6h0M116.3 553.2h0M116 571.5h0" stroke="#7ca5d4" stroke-width="1.9" stroke-linecap="round"/>
<path d="M122.2 549.2h0M123.6 547.7h0M123.7 534.3h0M119.9 551.4h0M122.2 537.4h0M121.7 570.3h0M121.2 538.6h0M119.5 562.8h0M123 527.3h0M119.7 573.5h0M123.2 563.4h0M121.4 569.6h0M122.4 554.8h0M120.2 542.2h0M123.7 559.4h0M121.5 556.7h0" stroke="#8db1da" stroke-width="1.9" stroke-linecap="round"/>
<path d="M124.9 558.6h0M125.8 573.2h0M125 546.1h0M127.9 562.7h0M124.2 569.1h0M124 551.1h0M126.5 551.9h0M126.3 561.1h0M124.1 561.7h0M125.3 566.4h0M124.6 568.2h0M125.4 533.4h0M124.3 569.5h0" stroke="#9dbee0" stroke-width="1.9" stroke-linecap="round"/>
<path d="M128.5 578.5h0M132.6 580.7h0M128.3 560.5h0M131.6 581.3h0M132.6 573.5h0M131.5 568.9h0M129.5 543.8h0M131.3 554.2h0M128.7 562.2h0M129.5 543.3h0M129.1 578h0M130.1 546.3h0M129.9 560.5h0M129.1 578.3h0" stroke="#adc7e2" stroke-width="1.9" stroke-linecap="round"/>
<path d="M133.7 567.7h0M136.5 565h0M132.9 571.4h0M136.3 563.2h0M132.9 565.3h0M136.2 567.9h0M135.5 573.6h0M133.5 561.6h0M133.4 574.1h0M133.3 570.9h0M135.5 558.5h0M136 576.6h0M135.2 561h0M132.9 563.1h0M136.4 575.6h0M134.5 581.3h0" stroke="#bdd0e5" stroke-width="1.9" stroke-linecap="round"/>
<path d="M138.7 583.3h0M139.7 569.4h0M139.4 574.5h0M139.4 570.9h0M140.6 582.9h0M138.3 582.4h0M137.2 566.5h0M138.6 583.4h0M140.7 583h0M139 573.2h0M137.9 582.2h0M141.1 581.4h0" stroke="#ccdae7" stroke-width="1.9" stroke-linecap="round"/>
<path d="M142.9 583h0M144 583.2h0M142.5 580.2h0M145.3 583.4h0M142.5 581.3h0M142.1 582.7h0M142.8 583h0M142 583.3h0M144.6 581.3h0M144.3 581.7h0M142.5 583.1h0M145.1 582.4h0M143.3 582.1h0M142.2 580.8h0" stroke="#dce3ea" stroke-width="1.9" stroke-linecap="round"/>
<path d="M149.2 583.1h0M149.1 583.1h0" stroke="#ececec" stroke-width="1.9" stroke-linecap="round"/>
<path d="M153.6 581.9h0M153.3 580.5h0M152.9 583.1h0M153.5 582.7h0M152.3 580.5h0M152.9 583h0M154.2 580.8h0M152.8 582.3h0M153 579.1h0M150.8 581.8h0" stroke="#ede2da" stroke-width="1.9" stroke-linecap="round"/>
<path d="M157.5 582.8h0M155.9 579.7h0M157.9 577.5h0M156.3 583.4h0M158.7 578.2h0M155.1 581.6h0M156.1 582.1h0M156.7 582.9h0M155.4 583.4h0M156.8 581.9h0M158.1 575.4h0M157.2 573.2h0M157.2 581.4h0" stroke="#eed7c8" stroke-width="1.9" stroke-linecap="round"/>
<path d="M161.6 582.9h0M161.1 580.6h0M160 583h0M160 569h0M162.4 559h0M162 580.6h0M160 583.3h0M162.2 580.7h0M159.7 582.4h0M162.5 581.5h0M161.8 573h0M161.7 574.9h0M162.2 570.2h0M162.8 574.4h0" stroke="#eecdb6" stroke-width="1.9" stroke-linecap="round"/>
<path d="M167.5 571.1h0M163.8 573.1h0M167.1 582.5h0M166.9 563h0M166.3 574.1h0M166.5 569.7h0M165.4 579.4h0M167 577.4h0M163.8 574.6h0M166.6 573.1h0M166.5 566.5h0M167.7 565.9h0M164.6 554.6h0" stroke="#efc2a4" stroke-width="1.9" stroke-linecap="round"/>
<path d="M169.5 578.6h0M170 564h0M170.4 580.1h0M170 549h0M170.7 571.3h0M170 573.6h0M170.2 567.5h0M172.2 552.2h0M171.3 553.2h0M170.6 553.3h0M169.6 574.6h0M169.7 578.5h0M170.3 576.1h0M172 569.8h0M171.9 579.1h0M172.1 562.8h0M168.5 567.9h0M169.7 577.4h0M172.5 566.2h0M169.6 565.6h0M169.7 556.8h0M168.5 579.6h0M170.1 564.2h0" stroke="#ebad88" stroke-width="1.9" stroke-linecap="round"/>
<path d="M176.3 564.8h0M173.4 563h0M175 554.6h0M174 566.8h0M175.9 562.4h0M174.1 561.9h0M176.5 573.2h0M172.7 568.7h0M173.5 557.4h0M174.3 556.8h0M175.4 560.4h0M174.2 553.6h0M173.2 542.5h0" stroke="#e7986d" stroke-width="1.9" stroke-linecap="round"/>
<path d="M178.5 564.5h0M177.4 550.7h0M179 548h0M177.5 576.2h0M177.1 570.6h0M179.2 575.9h0M177.5 567.4h0M177.8 536.2h0M180.8 573.7h0M177.3 562.4h0M177.9 575.1h0M178.6 572.6h0M180.2 550.8h0M180 567.1h0M177.4 556.3h0M179.3 568.5h0M179.4 538.7h0M178.3 570.7h0M180.2 571.1h0M178.6 568.9h0" stroke="#e28454" stroke-width="1.9" stroke-linecap="round"/>
<path d="M184.4 566.3h0" stroke="#db6f3f" stroke-width="1.9" stroke-linecap="round"/>
<path d="M186.7 563.2h0M186.9 566.8h0M189.6 565h0M189 564.3h0" stroke="#d55a2a" stroke-width="1.9" stroke-linecap="round"/>
<path d="M197 552.9h0" stroke="#c63c16" stroke-width="1.9" stroke-linecap="round"/>
<path d="M201.5 526.5h0" stroke="#bf3314" stroke-width="1.9" stroke-linecap="round"/>
<path d="M216.3 515.2h0" stroke="#a41b12" stroke-width="1.9" stroke-linecap="round"/>
<path d="M182.4 562.6h0M183.3 566.9h0M184 560.6h0M184.3 561.6h0M185.4 551.2h0M182.7 559.8h0M185.4 564.6h0M182.3 568.7h0M184 568.2h0M159.6 583.2h0M160.2 582.8h0M160.5 582.3h0M163.5 561.8h0M159.8 578.1h0M163.7 579.6h0M163.6 561.6h0M163.3 558.3h0M160.7 577.2h0M160 575.6h0M161.9 583.1h0M161.5 578.3h0M161.2 566.8h0M160.8 568.1h0M162.8 582.6h0M161.7 574.3h0M160.1 583h0M163 573.8h0M180.8 559.8h0M181.4 561.5h0M180.1 540h0M179.1 561h0M178 575.9h0M181.1 568.8h0M180.7 572.5h0M177.3 560.5h0M178.7 541.3h0M179 570.2h0M178.4 567.6h0M180.8 537.9h0M166.8 569.4h0M167.9 549.6h0M167.9 562.2h0M165.9 579.2h0M164.9 583.3h0M164.1 552.5h0M167.1 571.5h0M167.1 582.4h0M165.5 571h0M165.9 557.4h0M167.7 582.1h0M166.2 576.9h0M163.9 566.6h0M167.8 564.3h0M165 568.3h0M164 583.3h0M167.1 564.9h0M127.5 553h0M124.9 549.9h0M123.9 559.5h0M125.7 546.9h0M128 538.3h0M126 566h0M127.6 543.9h0M124.3 568.7h0M126.5 545.7h0M127.3 560.4h0M124.7 572.7h0M125.1 569.6h0M125.3 552h0M125 542h0M126.8 543.3h0M127.5 565.7h0M143.3 581.8h0M145.5 583.2h0M142.9 581.7h0M141.7 582.6h0M142.6 582.5h0M145.1 582.4h0M144.3 582.6h0M143.9 583.2h0M141.9 581.2h0M135.3 578.1h0M136.6 583.2h0M136.8 579.4h0M135.2 581.6h0M135.9 564.5h0M134.9 577.1h0M135.8 560.4h0M136 571.9h0M134.2 581.7h0M135.6 566.9h0M133.3 582.3h0M133.2 573.9h0M133 555.9h0M136.4 583.4h0M136.4 563.5h0M136.7 574h0M135.6 580.2h0M135.1 583.3h0M134.9 562.6h0M119.6 558.8h0M123.3 557.1h0M120.4 563.7h0M122 559.2h0M120.5 561.8h0M122 546.6h0M121.4 567.8h0M123.3 569.5h0M119.5 557.6h0M121.1 556.4h0M121.3 570.9h0M122.8 571.8h0M123.6 573.4h0M122 547.7h0M121.9 560.8h0M120.4 540.4h0M122 551h0M121.7 540.3h0M130.6 561h0M132.3 560.6h0M129.5 553.6h0M129.6 571.5h0M129.8 560.2h0M131.4 554.5h0M128.9 539h0M129.8 561.8h0M130.7 563.2h0M130.1 542.9h0M132.2 560.6h0M130.6 559.7h0M130 553.7h0M130 570.6h0M132.3 580.7h0M130.2 569.6h0M130.6 571.7h0M169.1 577.7h0M172.6 566.7h0M172.2 569.4h0M169.6 580.6h0M169.9 552.2h0M168.3 567.9h0M169 544.4h0M170.3 577.5h0M172.3 571.7h0M170.6 574.8h0M168.2 565h0M193.4 555.9h0M177 561.2h0M175.9 548.8h0M175.8 560.7h0M176.1 568.1h0M174.8 575.9h0M175.5 538.3h0M175.2 574h0M175.5 575.4h0M175 551.6h0M155 580h0M156.6 583h0M157.7 581.8h0M156.3 582.2h0M157.8 581.6h0M157.2 577.4h0M158.2 582.6h0M158.7 566.2h0M157.9 575.4h0M158.3 582.4h0M159.3 579.8h0M158.1 582.3h0M156 581.9h0M156.7 580.1h0M156.7 582.8h0M156.7 578.5h0M139.3 582.6h0M141.4 580.8h0M138.4 569.7h0M141.3 581.8h0M141.3 581.1h0M138 583.1h0M141.5 582.4h0M141.2 579.2h0M139 582.2h0M140.5 581.3h0M139.3 582.9h0M141.3 583h0M187.1 553.1h0M188.2 569.2h0M186.5 543h0M186.7 539.5h0M187.9 537.4h0M186.7 569.5h0M146.5 583.2h0M148.4 583.5h0M148.6 583.1h0M149.1 583.2h0M150.2 583.2h0M118.1 560.9h0M117.4 558.7h0M119.2 564.5h0M116.5 568.6h0M117.1 571.9h0M118.1 519.9h0M119.2 573.4h0M118.6 557.1h0M116.8 564.6h0M108.7 562.7h0M109.3 558.9h0M109.6 559.8h0M108.8 555.6h0M109.6 560h0M109.1 562.8h0M107.8 558h0M109.5 567.3h0M106.9 550.9h0M89 547.9h0M91.4 547.9h0M92.5 554.6h0M89 559.6h0M112.9 555.9h0M114.5 554.7h0M113.6 557h0M110.7 548.2h0M114.6 545.3h0M110.7 545.4h0M113.1 555.9h0M111.6 544.7h0M87.5 498.9h0M153.3 582.1h0M150.7 582.3h0M153.9 578.3h0M152.4 581.9h0M153.1 582.6h0M153.7 583h0M154.8 579.4h0M153.9 583h0M150.5 582.6h0M154.4 580.5h0M153.8 580.2h0M153.4 582.4h0M94.5 550.2h0" stroke="#000" stroke-opacity=".35" stroke-width="2.6" stroke-linecap="round"/>
<path d="M87.5 498.9h0" stroke="#3664ad" stroke-width="1.9" stroke-linecap="round"/>
<path d="M89 547.9h0M91.4 547.9h0M92.5 554.6h0M89 559.6h0" stroke="#3d6cb3" stroke-width="1.9" stroke-linecap="round"/>
<path d="M94.5 550.2h0" stroke="#4473b8" stroke-width="1.9" stroke-linecap="round"/>
<path d="M108.7 562.7h0M109.3 558.9h0M109.6 559.8h0M108.8 555.6h0M109.6 560h0M109.1 562.8h0M107.8 558h0M109.5 567.3h0M106.9 550.9h0" stroke="#5f8ec8" stroke-width="1.9" stroke-linecap="round"/>
<path d="M112.9 555.9h0M114.5 554.7h0M113.6 557h0M110.7 548.2h0M114.6 545.3h0M110.7 545.4h0M113.1 555.9h0M111.6 544.7h0" stroke="#6c98ce" stroke-width="1.9" stroke-linecap="round"/>
<path d="M118.1 560.9h0M117.4 558.7h0M119.2 564.5h0M116.5 568.6h0M117.1 571.9h0M118.1 519.9h0M119.2 573.4h0M118.6 557.1h0M116.8 564.6h0" stroke="#7ca5d4" stroke-width="1.9" stroke-linecap="round"/>
<path d="M119.6 558.8h0M123.3 557.1h0M120.4 563.7h0M122 559.2h0M120.5 561.8h0M122 546.6h0M121.4 567.8h0M123.3 569.5h0M119.5 557.6h0M121.1 556.4h0M121.3 570.9h0M122.8 571.8h0M123.6 573.4h0M122 547.7h0M121.9 560.8h0M120.4 540.4h0M122 551h0M121.7 540.3h0" stroke="#8db1da" stroke-width="1.9" stroke-linecap="round"/>
<path d="M127.5 553h0M124.9 549.9h0M123.9 559.5h0M125.7 546.9h0M128 538.3h0M126 566h0M127.6 543.9h0M124.3 568.7h0M126.5 545.7h0M127.3 560.4h0M124.7 572.7h0M125.1 569.6h0M125.3 552h0M125 542h0M126.8 543.3h0M127.5 565.7h0" stroke="#9dbee0" stroke-width="1.9" stroke-linecap="round"/>
<path d="M130.6 561h0M132.3 560.6h0M129.5 553.6h0M129.6 571.5h0M129.8 560.2h0M131.4 554.5h0M128.9 539h0M129.8 561.8h0M130.7 563.2h0M130.1 542.9h0M132.2 560.6h0M130.6 559.7h0M130 553.7h0M130 570.6h0M132.3 580.7h0M130.2 569.6h0M130.6 571.7h0" stroke="#adc7e2" stroke-width="1.9" stroke-linecap="round"/>
<path d="M135.3 578.1h0M136.6 583.2h0M136.8 579.4h0M135.2 581.6h0M135.9 564.5h0M134.9 577.1h0M135.8 560.4h0M136 571.9h0M134.2 581.7h0M135.6 566.9h0M133.3 582.3h0M133.2 573.9h0M133 555.9h0M136.4 583.4h0M136.4 563.5h0M136.7 574h0M135.6 580.2h0M135.1 583.3h0M134.9 562.6h0" stroke="#bdd0e5" stroke-width="1.9" stroke-linecap="round"/>
<path d="M139.3 582.6h0M141.4 580.8h0M138.4 569.7h0M141.3 581.8h0M141.3 581.1h0M138 583.1h0M141.5 582.4h0M141.2 579.2h0M139 582.2h0M140.5 581.3h0M139.3 582.9h0M141.3 583h0" stroke="#ccdae7" stroke-width="1.9" stroke-linecap="round"/>
<path d="M143.3 581.8h0M145.5 583.2h0M142.9 581.7h0M141.7 582.6h0M142.6 582.5h0M145.1 582.4h0M144.3 582.6h0M143.9 583.2h0M141.9 581.2h0" stroke="#dce3ea" stroke-width="1.9" stroke-linecap="round"/>
<path d="M146.5 583.2h0M148.4 583.5h0M148.6 583.1h0M149.1 583.2h0M150.2 583.2h0" stroke="#ececec" stroke-width="1.9" stroke-linecap="round"/>
<path d="M153.3 582.1h0M150.7 582.3h0M153.9 578.3h0M152.4 581.9h0M153.1 582.6h0M153.7 583h0M154.8 579.4h0M153.9 583h0M150.5 582.6h0M154.4 580.5h0M153.8 580.2h0M153.4 582.4h0" stroke="#ede2da" stroke-width="1.9" stroke-linecap="round"/>
<path d="M155 580h0M156.6 583h0M157.7 581.8h0M156.3 582.2h0M157.8 581.6h0M157.2 577.4h0M158.2 582.6h0M158.7 566.2h0M157.9 575.4h0M158.3 582.4h0M159.3 579.8h0M158.1 582.3h0M156 581.9h0M156.7 580.1h0M156.7 582.8h0M156.7 578.5h0" stroke="#eed7c8" stroke-width="1.9" stroke-linecap="round"/>
<path d="M159.6 583.2h0M160.2 582.8h0M160.5 582.3h0M163.5 561.8h0M159.8 578.1h0M163.7 579.6h0M163.6 561.6h0M163.3 558.3h0M160.7 577.2h0M160 575.6h0M161.9 583.1h0M161.5 578.3h0M161.2 566.8h0M160.8 568.1h0M162.8 582.6h0M161.7 574.3h0M160.1 583h0M163 573.8h0" stroke="#eecdb6" stroke-width="1.9" stroke-linecap="round"/>
<path d="M166.8 569.4h0M167.9 549.6h0M167.9 562.2h0M165.9 579.2h0M164.9 583.3h0M164.1 552.5h0M167.1 571.5h0M167.1 582.4h0M165.5 571h0M165.9 557.4h0M167.7 582.1h0M166.2 576.9h0M163.9 566.6h0M167.8 564.3h0M165 568.3h0M164 583.3h0M167.1 564.9h0" stroke="#efc2a4" stroke-width="1.9" stroke-linecap="round"/>
<path d="M169.1 577.7h0M172.6 566.7h0M172.2 569.4h0M169.6 580.6h0M169.9 552.2h0M168.3 567.9h0M169 544.4h0M170.3 577.5h0M172.3 571.7h0M170.6 574.8h0M168.2 565h0" stroke="#ebad88" stroke-width="1.9" stroke-linecap="round"/>
<path d="M177 561.2h0M175.9 548.8h0M175.8 560.7h0M176.1 568.1h0M174.8 575.9h0M175.5 538.3h0M175.2 574h0M175.5 575.4h0M175 551.6h0" stroke="#e7986d" stroke-width="1.9" stroke-linecap="round"/>
<path d="M180.8 559.8h0M181.4 561.5h0M180.1 540h0M179.1 561h0M178 575.9h0M181.1 568.8h0M180.7 572.5h0M177.3 560.5h0M178.7 541.3h0M179 570.2h0M178.4 567.6h0M180.8 537.9h0" stroke="#e28454" stroke-width="1.9" stroke-linecap="round"/>
<path d="M182.4 562.6h0M183.3 566.9h0M184 560.6h0M184.3 561.6h0M185.4 551.2h0M182.7 559.8h0M185.4 564.6h0M182.3 568.7h0M184 568.2h0" stroke="#db6f3f" stroke-width="1.9" stroke-linecap="round"/>
<path d="M187.1 553.1h0M188.2 569.2h0M186.5 543h0M186.7 539.5h0M187.9 537.4h0M186.7 569.5h0" stroke="#d55a2a" stroke-width="1.9" stroke-linecap="round"/>
<path d="M193.4 555.9h0" stroke="#ce4b20" stroke-width="1.9" stroke-linecap="round"/>
<rect x="54.05" y="390.6" width="188.05" height="201.3" fill="none" stroke="#000" stroke-width="1.75"/>
<path d="M59.4 591.9v4.5M103.8 591.9v4.5M148.2 591.9v4.5M192.6 591.9v4.5M237 591.9v4.5M54.05 583.5h-4.6M54.05 541.62h-4.6M54.05 499.75h-4.6M54.05 457.88h-4.6M54.05 416h-4.6" stroke="#000" stroke-width="1.2"/>
<text x="59.4" y="611.6" font-size="12" text-anchor="middle">–6</text>
<text x="103.8" y="611.6" font-size="12" text-anchor="middle">–3</text>
<text x="148.2" y="611.6" font-size="12" text-anchor="middle">0</text>
<text x="192.6" y="611.6" font-size="12" text-anchor="middle">3</text>
<text x="237" y="611.6" font-size="12" text-anchor="middle">6</text>
<text x="44.6" y="587.6" font-size="12" text-anchor="end">0</text>
<text x="44.6" y="545.73" font-size="12" text-anchor="end">10</text>
<text x="44.6" y="503.85" font-size="12" text-anchor="end">20</text>
<text x="44.6" y="461.98" font-size="12" text-anchor="end">30</text>
<text x="44.6" y="420.1" font-size="12" text-anchor="end">40</text>
<path d="M323.5 390.7V592M369.2 390.7V592M415.2 390.7V592M460.8 390.7V592M493.5 390.7V592M321.15 583.5H509.4M321.15 524.77H509.4M321.15 466.04H509.4M321.15 407.31H509.4" stroke="#f2f2f2" stroke-width="0.6"/>
<path d="M433.2 581.7h0M431.7 559.6h0M432.5 566.7h0M434 563.6h0M432.9 564.6h0M432 575.1h0M431.3 568.3h0M433.2 564.3h0M435.6 552.1h0M433.2 566.4h0M432.1 580.9h0M433.5 559.8h0M433.2 567.7h0M434.4 551.3h0M431.7 569.9h0M435.2 576.4h0M434.7 583.2h0M432.4 582.2h0M434.5 574.9h0M425.9 578.4h0M426.1 572h0M424.7 578.4h0M425.3 572.8h0M425.7 572.2h0M423.7 579.9h0M423.8 580.4h0M426.2 580.4h0M424.2 582.9h0M425.3 578.3h0M424.5 580.3h0M424.5 581.5h0M425.5 573.3h0M423.9 579.4h0M393.2 570.5h0M392.7 539.9h0M392.2 563.5h0M393.1 561.4h0M392.8 557.3h0M394.3 583.4h0M390.6 560.5h0M392 575.9h0M391.1 548.6h0M393.3 553.7h0M391.3 572.7h0M391 578.5h0M439.9 572.5h0M437.5 559.3h0M439.3 574.5h0M438.7 570.9h0M438.3 567.2h0M435.9 571.1h0M436.2 558.5h0M439.5 564.9h0M438.1 572.5h0M439.6 558.7h0M436.8 574.3h0M437.4 576.2h0M436.7 564.9h0M398.5 580.1h0M395.6 559.8h0M398.2 580.8h0M396.3 578.8h0M396.8 574.1h0M397.9 581.9h0M395.9 575.3h0M416.3 583.2h0M417.4 583.1h0M416.2 583.2h0M415.3 583.1h0M415.5 582.8h0M379.8 570.1h0M378.9 532.5h0M376.6 568.5h0M377 568h0M380 542.8h0M379.3 549.4h0M380.7 567.3h0M376.6 567.1h0M376.4 568.4h0M377.1 562.1h0M428.5 578.8h0M429.9 579.1h0M426.9 582h0M426.9 569.7h0M427 572.1h0M427.4 579.2h0M427.4 568.9h0M429 580.4h0M427.7 582.3h0M430.8 571.9h0M427.7 571.5h0M382.6 563.2h0M382.1 564.4h0M385.2 544.1h0M381.4 566.5h0M381.7 556.9h0M385.2 561.4h0M383.9 549.4h0M381.6 568.4h0M383.7 570.2h0M384.1 547.2h0M382 555.2h0M400.5 577h0M403 566.8h0M402.6 573.9h0M400 583h0M401 568.2h0M400.6 583.3h0M403.1 575.7h0M403.1 582.1h0M403.1 579.2h0M401.5 578h0M399.9 572.7h0M402.2 575.8h0M402 563.7h0M400.7 569.6h0M462.3 568.8h0M458.7 558.3h0M460.8 566.2h0M460.9 555.1h0M461.4 494.8h0M453.2 563.1h0M453.6 559.3h0M452.8 555.8h0M453 558.4h0M451.9 547h0M453.2 562.1h0M441.1 573h0M444.9 567.2h0M443.5 548h0M440.9 572.7h0M442.6 552h0M440.9 557h0M440.4 575h0M440.9 573.7h0M443.8 568.3h0M441.6 569.1h0M444.2 562.3h0M440.6 545h0M441.5 575.9h0M444.3 557h0M443.4 550.3h0M440.9 568.9h0M442.1 567.8h0M443.3 564.2h0M441.4 559.5h0M340.2 555.3h0M421.6 583h0M419.6 583h0M421.9 582.9h0M418.9 582.8h0M419.2 582.8h0M421.1 581h0M419.1 583.3h0M421.3 582.7h0M421.8 582h0M405.4 583.4h0M408.2 581.5h0M405.9 582.2h0M407.5 582.7h0M406.4 577.9h0M403.8 577.5h0M406.9 581.2h0M386.2 555.4h0M386.2 548.4h0M388.2 564.5h0M387.2 542.7h0M387 567.3h0M387.8 543.8h0M387.5 538.4h0M388.8 557.8h0M389 569.6h0M386.6 567.8h0M386.8 568.5h0M388.4 579.2h0M448.4 568.8h0M447.9 557.6h0M445.5 574.1h0M447 565h0M449.1 559.9h0M448.5 553.1h0M371.5 550.7h0M367.6 506h0M367.4 531.3h0M371.3 533.2h0M410.4 581.1h0M410.4 582.8h0M411.8 582.8h0M409.6 579.5h0M410.7 582h0M410.5 583.4h0M411.8 583h0M412.5 583.2h0M408.8 583.1h0M374.4 546.8h0M375.5 571.9h0M372.4 560.8h0M373.8 543.8h0M373.5 554.4h0M373.8 564.5h0M374.3 545.3h0M454.5 569.3h0M455.8 549.5h0M454.4 555.7h0M456.2 563.3h0M454.8 563.9h0M454.6 555.5h0M353.8 541.2h0M356.6 516h0M470.6 534.8h0" stroke="#000" stroke-opacity=".35" stroke-width="2.6" stroke-linecap="round"/>
<path d="M340.2 555.3h0" stroke="#2b54a0" stroke-width="1.9" stroke-linecap="round"/>
<path d="M353.8 541.2h0M356.6 516h0" stroke="#3d6cb3" stroke-width="1.9" stroke-linecap="round"/>
<path d="M371.5 550.7h0M367.6 506h0M367.4 531.3h0M371.3 533.2h0" stroke="#5283c3" stroke-width="1.9" stroke-linecap="round"/>
<path d="M374.4 546.8h0M375.5 571.9h0M372.4 560.8h0M373.8 543.8h0M373.5 554.4h0M373.8 564.5h0M374.3 545.3h0" stroke="#5f8ec8" stroke-width="1.9" stroke-linecap="round"/>
<path d="M379.8 570.1h0M378.9 532.5h0M376.6 568.5h0M377 568h0M380 542.8h0M379.3 549.4h0M380.7 567.3h0M376.6 567.1h0M376.4 568.4h0M377.1 562.1h0" stroke="#6c98ce" stroke-width="1.9" stroke-linecap="round"/>
<path d="M382.6 563.2h0M382.1 564.4h0M385.2 544.1h0M381.4 566.5h0M381.7 556.9h0M385.2 561.4h0M383.9 549.4h0M381.6 568.4h0M383.7 570.2h0M384.1 547.2h0M382 555.2h0" stroke="#7ca5d4" stroke-width="1.9" stroke-linecap="round"/>
<path d="M386.2 555.4h0M386.2 548.4h0M388.2 564.5h0M387.2 542.7h0M387 567.3h0M387.8 543.8h0M387.5 538.4h0M388.8 557.8h0M389 569.6h0M386.6 567.8h0M386.8 568.5h0M388.4 579.2h0" stroke="#8db1da" stroke-width="1.9" stroke-linecap="round"/>
<path d="M393.2 570.5h0M392.7 539.9h0M392.2 563.5h0M393.1 561.4h0M392.8 557.3h0M394.3 583.4h0M390.6 560.5h0M392 575.9h0M391.1 548.6h0M393.3 553.7h0M391.3 572.7h0M391 578.5h0" stroke="#9dbee0" stroke-width="1.9" stroke-linecap="round"/>
<path d="M398.5 580.1h0M395.6 559.8h0M398.2 580.8h0M396.3 578.8h0M396.8 574.1h0M397.9 581.9h0M395.9 575.3h0" stroke="#adc7e2" stroke-width="1.9" stroke-linecap="round"/>
<path d="M400.5 577h0M403 566.8h0M402.6 573.9h0M400 583h0M401 568.2h0M400.6 583.3h0M403.1 575.7h0M403.1 582.1h0M403.1 579.2h0M401.5 578h0M399.9 572.7h0M402.2 575.8h0M402 563.7h0M400.7 569.6h0" stroke="#bdd0e5" stroke-width="1.9" stroke-linecap="round"/>
<path d="M405.4 583.4h0M408.2 581.5h0M405.9 582.2h0M407.5 582.7h0M406.4 577.9h0M403.8 577.5h0M406.9 581.2h0" stroke="#ccdae7" stroke-width="1.9" stroke-linecap="round"/>
<path d="M410.4 581.1h0M410.4 582.8h0M411.8 582.8h0M409.6 579.5h0M410.7 582h0M410.5 583.4h0M411.8 583h0M412.5 583.2h0M408.8 583.1h0" stroke="#dce3ea" stroke-width="1.9" stroke-linecap="round"/>
<path d="M416.3 583.2h0M417.4 583.1h0M416.2 583.2h0M415.3 583.1h0M415.5 582.8h0" stroke="#ececec" stroke-width="1.9" stroke-linecap="round"/>
<path d="M421.6 583h0M419.6 583h0M421.9 582.9h0M418.9 582.8h0M419.2 582.8h0M421.1 581h0M419.1 583.3h0M421.3 582.7h0M421.8 582h0" stroke="#ede2da" stroke-width="1.9" stroke-linecap="round"/>
<path d="M425.9 578.4h0M426.1 572h0M424.7 578.4h0M425.3 572.8h0M425.7 572.2h0M423.7 579.9h0M423.8 580.4h0M426.2 580.4h0M424.2 582.9h0M425.3 578.3h0M424.5 580.3h0M424.5 581.5h0M425.5 573.3h0M423.9 579.4h0" stroke="#eed7c8" stroke-width="1.9" stroke-linecap="round"/>
<path d="M428.5 578.8h0M429.9 579.1h0M426.9 582h0M426.9 569.7h0M427 572.1h0M427.4 579.2h0M427.4 568.9h0M429 580.4h0M427.7 582.3h0M430.8 571.9h0M427.7 571.5h0" stroke="#eecdb6" stroke-width="1.9" stroke-linecap="round"/>
<path d="M433.2 581.7h0M431.7 559.6h0M432.5 566.7h0M434 563.6h0M432.9 564.6h0M432 575.1h0M431.3 568.3h0M433.2 564.3h0M435.6 552.1h0M433.2 566.4h0M432.1 580.9h0M433.5 559.8h0M433.2 567.7h0M434.4 551.3h0M431.7 569.9h0M435.2 576.4h0M434.7 583.2h0M432.4 582.2h0M434.5 574.9h0" stroke="#efc2a4" stroke-width="1.9" stroke-linecap="round"/>
<path d="M439.9 572.5h0M437.5 559.3h0M439.3 574.5h0M438.7 570.9h0M438.3 567.2h0M435.9 571.1h0M436.2 558.5h0M439.5 564.9h0M438.1 572.5h0M439.6 558.7h0M436.8 574.3h0M437.4 576.2h0M436.7 564.9h0" stroke="#ebad88" stroke-width="1.9" stroke-linecap="round"/>
<path d="M441.1 573h0M444.9 567.2h0M443.5 548h0M440.9 572.7h0M442.6 552h0M440.9 557h0M440.4 575h0M440.9 573.7h0M443.8 568.3h0M441.6 569.1h0M444.2 562.3h0M440.6 545h0M441.5 575.9h0M444.3 557h0M443.4 550.3h0M440.9 568.9h0M442.1 567.8h0M443.3 564.2h0M441.4 559.5h0" stroke="#e7986d" stroke-width="1.9" stroke-linecap="round"/>
<path d="M448.4 568.8h0M447.9 557.6h0M445.5 574.1h0M447 565h0M449.1 559.9h0M448.5 553.1h0" stroke="#e28454" stroke-width="1.9" stroke-linecap="round"/>
<path d="M453.2 563.1h0M453.6 559.3h0M452.8 555.8h0M453 558.4h0M451.9 547h0M453.2 562.1h0" stroke="#db6f3f" stroke-width="1.9" stroke-linecap="round"/>
<path d="M454.5 569.3h0M455.8 549.5h0M454.4 555.7h0M456.2 563.3h0M454.8 563.9h0M454.6 555.5h0" stroke="#d55a2a" stroke-width="1.9" stroke-linecap="round"/>
<path d="M462.3 568.8h0M458.7 558.3h0M460.8 566.2h0M460.9 555.1h0M461.4 494.8h0" stroke="#ce4b20" stroke-width="1.9" stroke-linecap="round"/>
<path d="M470.6 534.8h0" stroke="#b72911" stroke-width="1.9" stroke-linecap="round"/>
<path d="M408.8 583.2h0M409.7 583.1h0M411.6 582.7h0M409.9 583h0M410.8 582.8h0M411.2 583h0M410.6 580.1h0M426.9 573.1h0M430.9 577.5h0M430.6 582.3h0M431.2 583.4h0M428.6 564.5h0M430.1 562.4h0M427.7 579.9h0M429.9 571h0M430.9 577.1h0M427.7 583.5h0M428.7 578.1h0M429.6 573.8h0M427.4 579.9h0M375.3 568.8h0M374.4 534.5h0M371.8 547.5h0M371.9 552h0M372.7 539.2h0M375.8 561.5h0M374.2 558.1h0M423.9 582h0M422.7 583.4h0M426.3 581.5h0M422.5 583h0M423.5 579.3h0M423.6 583.4h0M423.9 580.9h0M423.4 577.7h0M422.9 581.3h0M424.7 575.2h0M422.2 578.9h0M425.4 582.3h0M424.9 574.1h0M394.4 553.1h0M392.3 556h0M390.6 554h0M392.3 540.6h0M393 573.7h0M391.8 564.8h0M394.6 579.3h0M394.4 580.3h0M394 562.7h0M390.1 571.5h0M393.4 556.7h0M392.5 537.5h0M391.5 550.6h0M401.3 581.9h0M402.8 567.2h0M403.1 567h0M400.6 573.9h0M400 564.5h0M403.7 581.8h0M402.4 579.5h0M400.2 581h0M401.6 567.3h0M402.8 583.3h0M399.4 579.9h0M401.9 578.5h0M401.7 583.4h0M452.4 563.4h0M452.1 551.3h0M451.3 571h0M451.5 560.5h0M454 564.2h0M450 558.3h0M450.6 545.4h0M449.8 566.4h0M452.5 561.9h0M452.3 537.6h0M453 546.6h0M397.8 577.4h0M397.3 549.9h0M397.2 576.9h0M398 583.3h0M395.5 582.1h0M396.9 552h0M398.4 579.9h0M395.4 559.1h0M394.9 545.5h0M398.7 571.6h0M398.5 553.3h0M397.1 551.6h0M398.3 571.7h0M404.9 583.3h0M406.3 579.2h0M405.2 581.6h0M408.2 581.1h0M405.3 583.2h0M406.3 582.4h0M403.9 570.7h0M405.1 580.3h0M405.6 579.5h0M406 582.3h0M404.5 582h0M404.1 575.7h0M405.1 578.7h0M405.3 582.4h0M404 583.3h0M405.6 575.2h0M408 583.3h0M444.2 573.4h0M444.3 568.5h0M444.3 567.1h0M443.9 567.4h0M441.5 565.9h0M441.4 548h0M441.4 561.8h0M382.9 563.6h0M382.4 566h0M382.7 561.4h0M381.8 572.5h0M382.2 565.2h0M385 577.6h0M385 569.6h0M383.6 555.4h0M381.5 549.1h0M384.5 555.8h0M381.6 566.6h0M457.3 559.6h0M455.2 570.8h0M386.4 534.7h0M389.7 533h0M386.7 560.4h0M389 547.3h0M387.6 548.4h0M387.1 576h0M388.1 559.1h0M389.7 570.7h0M389.8 562.5h0M386.7 554.5h0M479 539.5h0M413.5 583.1h0M417.5 582.8h0M412.9 582.6h0M413 582.9h0M437.4 566.4h0M437.2 574.6h0M437.2 574.8h0M436 573.9h0M435.8 555.2h0M440.2 560.6h0M436.5 570.1h0M439.4 577.4h0M439.3 550.2h0M438.2 569.4h0M438.4 564.6h0M376.5 530.6h0M378.9 545.4h0M376.9 567.4h0M376.6 550.1h0M380.7 567.3h0M378.9 569.1h0M376.7 542.1h0M379.3 552.8h0M377.3 563h0M378.6 560.3h0M380 548.3h0M377.7 556.4h0M379.1 556.4h0M379.7 533.9h0M376.8 561.6h0M380.1 557.7h0M431.2 583.5h0M434.1 572.8h0M431.8 565.5h0M433.1 573.2h0M433.1 572.4h0M435.2 582.3h0M435.8 566.6h0M431.2 582.7h0M433.3 583.4h0M433.6 562.1h0M434.3 561.7h0M419.8 581.6h0M418.5 582.3h0M421.5 579.7h0M418.6 581.4h0M418.9 581.3h0M418.9 581.7h0M421.6 583.2h0M470 547.7h0M445.9 567.7h0M447.9 559h0M445.8 567.6h0M449.3 571.9h0M449.2 549.5h0M445.4 562.2h0M473.4 548h0M472.6 540.9h0M366.9 553.6h0M365.4 548.4h0M366.2 562.7h0M462.4 565.9h0M463.2 568.5h0M367.5 562h0M370.8 552.8h0M367.3 559.2h0M466.3 563.3h0M466.7 556.5h0M460.9 548.6h0M461.4 546.4h0M492 521.2h0M354.8 430.8h0" stroke="#000" stroke-opacity=".35" stroke-width="2.6" stroke-linecap="round"/>
<path d="M354.8 430.8h0" stroke="#3d6cb3" stroke-width="1.9" stroke-linecap="round"/>
<path d="M366.9 553.6h0M365.4 548.4h0M366.2 562.7h0" stroke="#4b7bbe" stroke-width="1.9" stroke-linecap="round"/>
<path d="M367.5 562h0M370.8 552.8h0M367.3 559.2h0" stroke="#5283c3" stroke-width="1.9" stroke-linecap="round"/>
<path d="M375.3 568.8h0M374.4 534.5h0M371.8 547.5h0M371.9 552h0M372.7 539.2h0M375.8 561.5h0M374.2 558.1h0" stroke="#5f8ec8" stroke-width="1.9" stroke-linecap="round"/>
<path d="M376.5 530.6h0M378.9 545.4h0M376.9 567.4h0M376.6 550.1h0M380.7 567.3h0M378.9 569.1h0M376.7 542.1h0M379.3 552.8h0M377.3 563h0M378.6 560.3h0M380 548.3h0M377.7 556.4h0M379.1 556.4h0M379.7 533.9h0M376.8 561.6h0M380.1 557.7h0" stroke="#6c98ce" stroke-width="1.9" stroke-linecap="round"/>
<path d="M382.9 563.6h0M382.4 566h0M382.7 561.4h0M381.8 572.5h0M382.2 565.2h0M385 577.6h0M385 569.6h0M383.6 555.4h0M381.5 549.1h0M384.5 555.8h0M381.6 566.6h0" stroke="#7ca5d4" stroke-width="1.9" stroke-linecap="round"/>
<path d="M386.4 534.7h0M389.7 533h0M386.7 560.4h0M389 547.3h0M387.6 548.4h0M387.1 576h0M388.1 559.1h0M389.7 570.7h0M389.8 562.5h0M386.7 554.5h0" stroke="#8db1da" stroke-width="1.9" stroke-linecap="round"/>
<path d="M394.4 553.1h0M392.3 556h0M390.6 554h0M392.3 540.6h0M393 573.7h0M391.8 564.8h0M394.6 579.3h0M394.4 580.3h0M394 562.7h0M390.1 571.5h0M393.4 556.7h0M392.5 537.5h0M391.5 550.6h0" stroke="#9dbee0" stroke-width="1.9" stroke-linecap="round"/>
<path d="M397.8 577.4h0M397.3 549.9h0M397.2 576.9h0M398 583.3h0M395.5 582.1h0M396.9 552h0M398.4 579.9h0M395.4 559.1h0M394.9 545.5h0M398.7 571.6h0M398.5 553.3h0M397.1 551.6h0M398.3 571.7h0" stroke="#adc7e2" stroke-width="1.9" stroke-linecap="round"/>
<path d="M401.3 581.9h0M402.8 567.2h0M403.1 567h0M400.6 573.9h0M400 564.5h0M403.7 581.8h0M402.4 579.5h0M400.2 581h0M401.6 567.3h0M402.8 583.3h0M399.4 579.9h0M401.9 578.5h0M401.7 583.4h0" stroke="#bdd0e5" stroke-width="1.9" stroke-linecap="round"/>
<path d="M404.9 583.3h0M406.3 579.2h0M405.2 581.6h0M408.2 581.1h0M405.3 583.2h0M406.3 582.4h0M403.9 570.7h0M405.1 580.3h0M405.6 579.5h0M406 582.3h0M404.5 582h0M404.1 575.7h0M405.1 578.7h0M405.3 582.4h0M404 583.3h0M405.6 575.2h0M408 583.3h0" stroke="#ccdae7" stroke-width="1.9" stroke-linecap="round"/>
<path d="M408.8 583.2h0M409.7 583.1h0M411.6 582.7h0M409.9 583h0M410.8 582.8h0M411.2 583h0M410.6 580.1h0" stroke="#dce3ea" stroke-width="1.9" stroke-linecap="round"/>
<path d="M413.5 583.1h0M417.5 582.8h0M412.9 582.6h0M413 582.9h0" stroke="#ececec" stroke-width="1.9" stroke-linecap="round"/>
<path d="M419.8 581.6h0M418.5 582.3h0M421.5 579.7h0M418.6 581.4h0M418.9 581.3h0M418.9 581.7h0M421.6 583.2h0" stroke="#ede2da" stroke-width="1.9" stroke-linecap="round"/>
<path d="M423.9 582h0M422.7 583.4h0M426.3 581.5h0M422.5 583h0M423.5 579.3h0M423.6 583.4h0M423.9 580.9h0M423.4 577.7h0M422.9 581.3h0M424.7 575.2h0M422.2 578.9h0M425.4 582.3h0M424.9 574.1h0" stroke="#eed7c8" stroke-width="1.9" stroke-linecap="round"/>
<path d="M426.9 573.1h0M430.9 577.5h0M430.6 582.3h0M431.2 583.4h0M428.6 564.5h0M430.1 562.4h0M427.7 579.9h0M429.9 571h0M430.9 577.1h0M427.7 583.5h0M428.7 578.1h0M429.6 573.8h0M427.4 579.9h0" stroke="#eecdb6" stroke-width="1.9" stroke-linecap="round"/>
<path d="M431.2 583.5h0M434.1 572.8h0M431.8 565.5h0M433.1 573.2h0M433.1 572.4h0M435.2 582.3h0M435.8 566.6h0M431.2 582.7h0M433.3 583.4h0M433.6 562.1h0M434.3 561.7h0" stroke="#efc2a4" stroke-width="1.9" stroke-linecap="round"/>
<path d="M437.4 566.4h0M437.2 574.6h0M437.2 574.8h0M436 573.9h0M435.8 555.2h0M440.2 560.6h0M436.5 570.1h0M439.4 577.4h0M439.3 550.2h0M438.2 569.4h0M438.4 564.6h0" stroke="#ebad88" stroke-width="1.9" stroke-linecap="round"/>
<path d="M444.2 573.4h0M444.3 568.5h0M444.3 567.1h0M443.9 567.4h0M441.5 565.9h0M441.4 548h0M441.4 561.8h0" stroke="#e7986d" stroke-width="1.9" stroke-linecap="round"/>
<path d="M445.9 567.7h0M447.9 559h0M445.8 567.6h0M449.3 571.9h0M449.2 549.5h0M445.4 562.2h0" stroke="#e28454" stroke-width="1.9" stroke-linecap="round"/>
<path d="M452.4 563.4h0M452.1 551.3h0M451.3 571h0M451.5 560.5h0M454 564.2h0M450 558.3h0M450.6 545.4h0M449.8 566.4h0M452.5 561.9h0M452.3 537.6h0M453 546.6h0" stroke="#db6f3f" stroke-width="1.9" stroke-linecap="round"/>
<path d="M457.3 559.6h0M455.2 570.8h0" stroke="#d55a2a" stroke-width="1.9" stroke-linecap="round"/>
<path d="M460.9 548.6h0M461.4 546.4h0" stroke="#ce4b20" stroke-width="1.9" stroke-linecap="round"/>
<path d="M462.4 565.9h0M463.2 568.5h0" stroke="#c63c16" stroke-width="1.9" stroke-linecap="round"/>
<path d="M466.3 563.3h0M466.7 556.5h0" stroke="#bf3314" stroke-width="1.9" stroke-linecap="round"/>
<path d="M470 547.7h0" stroke="#b72911" stroke-width="1.9" stroke-linecap="round"/>
<path d="M473.4 548h0M472.6 540.9h0" stroke="#b0200f" stroke-width="1.9" stroke-linecap="round"/>
<path d="M479 539.5h0" stroke="#991515" stroke-width="1.9" stroke-linecap="round"/>
<path d="M492 521.2h0" stroke="#6a0020" stroke-width="1.9" stroke-linecap="round"/>
<path d="M419.2 582.8h0M417.9 582.8h0M417.6 582.5h0M420.6 582.6h0M418 582.7h0M420.9 580.6h0M421.4 581h0M419.5 583.1h0M418.6 581.5h0M419.8 582.8h0M419.7 583.4h0M382.2 563.6h0M385.4 556.6h0M381.1 568.5h0M384 575.6h0M382.8 562.2h0M384.8 578.2h0M383.1 561.1h0M385.4 557.4h0M381.3 550.4h0M382.8 568.2h0M389.6 554.3h0M390 551.2h0M388.2 554.1h0M388.6 547.5h0M387.7 542.9h0M389.7 551.1h0M388.7 554.3h0M387.8 557.7h0M390 570.1h0M389.8 554.6h0M387.7 562.1h0M371.9 567.4h0M372.4 569.6h0M374 543.3h0M375 539.8h0M380.6 555h0M378.7 549.8h0M379.9 553.6h0M378 571.3h0M379.6 546.9h0M379.9 563.1h0M376.4 549.2h0M376.4 570.2h0M377.9 567.9h0M380.9 546.4h0M376.4 537.4h0M377.7 570h0M378 529.1h0M407.9 580.4h0M406.7 578.5h0M407.7 582.3h0M405.5 581.9h0M406.6 581.6h0M408.3 580.9h0M406.2 582.9h0M407.7 582.5h0M407.4 582.5h0M406.1 583h0M404.9 583h0M406.5 575.7h0M406.5 582.8h0M407.7 581.1h0M407.9 582.1h0M443 562.2h0M444.6 559.2h0M443.8 572.7h0M443.6 575.5h0M443.8 570h0M444.9 558.7h0M444 564.9h0M444.7 558.1h0M440.8 560.8h0M446.5 565.4h0M447.2 561.6h0M448 549.4h0M448.6 562.6h0M445.6 567.7h0M448.1 566.4h0M446.6 554.9h0M446 573.8h0M446 549.3h0M448.6 563.3h0M444.9 569.8h0M445.7 568.8h0M413.2 582.4h0M417.2 583.1h0M413.2 583.3h0M455 550h0M456.3 565.5h0M458.3 554.1h0M456.1 571.6h0M457.8 568.2h0M454.7 549.3h0M401.8 583.5h0M400.7 565.5h0M400.9 560.1h0M402.7 570.2h0M403.4 577.5h0M402.4 581.2h0M402.9 572.1h0M402.5 578h0M399.3 580.5h0M399.5 569h0M401.7 578h0M402 563.3h0M402.1 580.3h0M403.5 582.8h0M403.6 583.3h0M403.3 575.5h0M401 577.8h0M402.6 582.4h0M403.6 582.7h0M399.8 562h0M400.7 564h0M402.6 567.8h0M355.3 527.7h0M425.2 582.7h0M425.5 582.1h0M424.9 582.4h0M424.6 582.6h0M425.6 583h0M422.9 582.2h0M424.8 583.1h0M423.2 582.4h0M426.6 569.9h0M422.7 580.2h0M425.2 578.9h0M426.4 570.5h0M435.3 556.3h0M434.7 581.2h0M432.8 570h0M435.1 580.2h0M432.6 579.4h0M434.5 560.4h0M435.1 570.6h0M436 556.5h0M440.2 576.8h0M438 566h0M435.8 574.9h0M438.3 564.5h0M439.6 576.6h0M437 564.1h0M436.2 548.3h0M466 545.3h0M466 516h0M396.1 574h0M398.1 574.4h0M395.1 573.6h0M398.9 561.1h0M395.2 567.6h0M396 561h0M395.5 566.7h0M395.2 578.7h0M397.2 580h0M398.9 571.3h0M396.6 554.8h0M397 557.7h0M396.1 582.9h0M398.8 569h0M395.6 548h0M397.8 580.4h0M397.5 579.7h0M429.7 570.8h0M427.3 568.3h0M431 582.6h0M430 571.8h0M427 579.4h0M430.1 568.8h0M428.6 579.3h0M427 574.5h0M430.2 580.7h0M368.4 527.1h0M369.6 550.8h0M369.1 524.3h0M370.1 567.3h0M369.5 544.5h0M370.7 557.7h0M370.7 529.9h0M369.3 568.7h0M370.7 563.6h0M450.8 558.7h0M453.6 561.8h0M451.5 561h0M450.3 566.5h0M450 569.4h0M453.9 558.5h0M454 563.6h0M450.3 573.4h0M352.8 552.4h0M472.5 554.1h0M474.9 559.8h0M390.7 566.5h0M391.6 565.3h0M393.7 569.5h0M393.6 547.4h0M392.5 551.4h0M392 538.4h0M394.1 550.4h0M358.5 496h0M411.2 582.5h0M408.8 580.4h0M408.5 578.8h0M408.4 577.2h0M408.5 583.3h0M409.5 583.3h0M484.2 483.7h0M476.4 549.4h0M364.7 548.7h0M469.9 507.7h0" stroke="#000" stroke-opacity=".35" stroke-width="2.6" stroke-linecap="round"/>
<path d="M352.8 552.4h0" stroke="#3664ad" stroke-width="1.9" stroke-linecap="round"/>
<path d="M355.3 527.7h0" stroke="#3d6cb3" stroke-width="1.9" stroke-linecap="round"/>
<path d="M358.5 496h0" stroke="#4473b8" stroke-width="1.9" stroke-linecap="round"/>
<path d="M364.7 548.7h0" stroke="#4b7bbe" stroke-width="1.9" stroke-linecap="round"/>
<path d="M368.4 527.1h0M369.6 550.8h0M369.1 524.3h0M370.1 567.3h0M369.5 544.5h0M370.7 557.7h0M370.7 529.9h0M369.3 568.7h0M370.7 563.6h0" stroke="#5283c3" stroke-width="1.9" stroke-linecap="round"/>
<path d="M371.9 567.4h0M372.4 569.6h0M374 543.3h0M375 539.8h0" stroke="#5f8ec8" stroke-width="1.9" stroke-linecap="round"/>
<path d="M380.6 555h0M378.7 549.8h0M379.9 553.6h0M378 571.3h0M379.6 546.9h0M379.9 563.1h0M376.4 549.2h0M376.4 570.2h0M377.9 567.9h0M380.9 546.4h0M376.4 537.4h0M377.7 570h0M378 529.1h0" stroke="#6c98ce" stroke-width="1.9" stroke-linecap="round"/>
<path d="M382.2 563.6h0M385.4 556.6h0M381.1 568.5h0M384 575.6h0M382.8 562.2h0M384.8 578.2h0M383.1 561.1h0M385.4 557.4h0M381.3 550.4h0M382.8 568.2h0" stroke="#7ca5d4" stroke-width="1.9" stroke-linecap="round"/>
<path d="M389.6 554.3h0M390 551.2h0M388.2 554.1h0M388.6 547.5h0M387.7 542.9h0M389.7 551.1h0M388.7 554.3h0M387.8 557.7h0M390 570.1h0M389.8 554.6h0M387.7 562.1h0" stroke="#8db1da" stroke-width="1.9" stroke-linecap="round"/>
<path d="M390.7 566.5h0M391.6 565.3h0M393.7 569.5h0M393.6 547.4h0M392.5 551.4h0M392 538.4h0M394.1 550.4h0" stroke="#9dbee0" stroke-width="1.9" stroke-linecap="round"/>
<path d="M396.1 574h0M398.1 574.4h0M395.1 573.6h0M398.9 561.1h0M395.2 567.6h0M396 561h0M395.5 566.7h0M395.2 578.7h0M397.2 580h0M398.9 571.3h0M396.6 554.8h0M397 557.7h0M396.1 582.9h0M398.8 569h0M395.6 548h0M397.8 580.4h0M397.5 579.7h0" stroke="#adc7e2" stroke-width="1.9" stroke-linecap="round"/>
<path d="M401.8 583.5h0M400.7 565.5h0M400.9 560.1h0M402.7 570.2h0M403.4 577.5h0M402.4 581.2h0M402.9 572.1h0M402.5 578h0M399.3 580.5h0M399.5 569h0M401.7 578h0M402 563.3h0M402.1 580.3h0M403.5 582.8h0M403.6 583.3h0M403.3 575.5h0M401 577.8h0M402.6 582.4h0M403.6 582.7h0M399.8 562h0M400.7 564h0M402.6 567.8h0" stroke="#bdd0e5" stroke-width="1.9" stroke-linecap="round"/>
<path d="M407.9 580.4h0M406.7 578.5h0M407.7 582.3h0M405.5 581.9h0M406.6 581.6h0M408.3 580.9h0M406.2 582.9h0M407.7 582.5h0M407.4 582.5h0M406.1 583h0M404.9 583h0M406.5 575.7h0M406.5 582.8h0M407.7 581.1h0M407.9 582.1h0" stroke="#ccdae7" stroke-width="1.9" stroke-linecap="round"/>
<path d="M411.2 582.5h0M408.8 580.4h0M408.5 578.8h0M408.4 577.2h0M408.5 583.3h0M409.5 583.3h0" stroke="#dce3ea" stroke-width="1.9" stroke-linecap="round"/>
<path d="M413.2 582.4h0M417.2 583.1h0M413.2 583.3h0" stroke="#ececec" stroke-width="1.9" stroke-linecap="round"/>
<path d="M419.2 582.8h0M417.9 582.8h0M417.6 582.5h0M420.6 582.6h0M418 582.7h0M420.9 580.6h0M421.4 581h0M419.5 583.1h0M418.6 581.5h0M419.8 582.8h0M419.7 583.4h0" stroke="#ede2da" stroke-width="1.9" stroke-linecap="round"/>
<path d="M425.2 582.7h0M425.5 582.1h0M424.9 582.4h0M424.6 582.6h0M425.6 583h0M422.9 582.2h0M424.8 583.1h0M423.2 582.4h0M426.6 569.9h0M422.7 580.2h0M425.2 578.9h0M426.4 570.5h0" stroke="#eed7c8" stroke-width="1.9" stroke-linecap="round"/>
<path d="M429.7 570.8h0M427.3 568.3h0M431 582.6h0M430 571.8h0M427 579.4h0M430.1 568.8h0M428.6 579.3h0M427 574.5h0M430.2 580.7h0" stroke="#eecdb6" stroke-width="1.9" stroke-linecap="round"/>
<path d="M435.3 556.3h0M434.7 581.2h0M432.8 570h0M435.1 580.2h0M432.6 579.4h0M434.5 560.4h0M435.1 570.6h0" stroke="#efc2a4" stroke-width="1.9" stroke-linecap="round"/>
<path d="M436 556.5h0M440.2 576.8h0M438 566h0M435.8 574.9h0M438.3 564.5h0M439.6 576.6h0M437 564.1h0M436.2 548.3h0" stroke="#ebad88" stroke-width="1.9" stroke-linecap="round"/>
<path d="M443 562.2h0M444.6 559.2h0M443.8 572.7h0M443.6 575.5h0M443.8 570h0M444.9 558.7h0M444 564.9h0M444.7 558.1h0M440.8 560.8h0" stroke="#e7986d" stroke-width="1.9" stroke-linecap="round"/>
<path d="M446.5 565.4h0M447.2 561.6h0M448 549.4h0M448.6 562.6h0M445.6 567.7h0M448.1 566.4h0M446.6 554.9h0M446 573.8h0M446 549.3h0M448.6 563.3h0M444.9 569.8h0M445.7 568.8h0" stroke="#e28454" stroke-width="1.9" stroke-linecap="round"/>
<path d="M450.8 558.7h0M453.6 561.8h0M451.5 561h0M450.3 566.5h0M450 569.4h0M453.9 558.5h0M454 563.6h0M450.3 573.4h0" stroke="#db6f3f" stroke-width="1.9" stroke-linecap="round"/>
<path d="M455 550h0M456.3 565.5h0M458.3 554.1h0M456.1 571.6h0M457.8 568.2h0M454.7 549.3h0" stroke="#d55a2a" stroke-width="1.9" stroke-linecap="round"/>
<path d="M466 545.3h0M466 516h0" stroke="#bf3314" stroke-width="1.9" stroke-linecap="round"/>
<path d="M469.9 507.7h0" stroke="#b72911" stroke-width="1.9" stroke-linecap="round"/>
<path d="M472.5 554.1h0M474.9 559.8h0" stroke="#b0200f" stroke-width="1.9" stroke-linecap="round"/>
<path d="M476.4 549.4h0" stroke="#a41b12" stroke-width="1.9" stroke-linecap="round"/>
<path d="M484.2 483.7h0" stroke="#8d1018" stroke-width="1.9" stroke-linecap="round"/>
<path d="M401.4 572h0M402.5 583.3h0M402.5 566.4h0M403.6 578.3h0M399.2 582.1h0M402.8 565.6h0M403 577.2h0M399.4 582.6h0M401 571.9h0M399.2 578.8h0M400.2 574.2h0M399.3 569.6h0M402.8 566.2h0M403.1 580.7h0M448.1 545.2h0M448.1 540.6h0M447.9 574.1h0M447.1 568.4h0M446.6 562.7h0M448.9 569h0M449.1 564.8h0M445.8 572.4h0M447.4 562.5h0M447.5 551.5h0M446.6 564.1h0M448.7 563h0M445.5 566.1h0M448.9 560.8h0M392.6 567.9h0M393.5 581.6h0M392.1 553.9h0M390.7 555.1h0M393.4 569.3h0M390.7 576h0M392.4 541.2h0M392 570.3h0M391.4 548.8h0M392 548.7h0M393.3 575.8h0M391.7 550h0M391.7 535.2h0M390.1 571.5h0M393.1 552.9h0M391.6 555.3h0M392.8 549.6h0M437.5 564.5h0M437.5 563.2h0M438.7 553.3h0M438.2 553.8h0M438.1 571.1h0M439.7 569.8h0M438.9 570h0M438.7 573.6h0M438.7 548.7h0M438.5 565.8h0M435.9 564.2h0M439.1 567.3h0M438.3 575.8h0M384.1 542.8h0M384.2 562.2h0M381.5 550.2h0M385.3 578.5h0M382.1 570.7h0M384.6 555h0M383.5 556h0M385.4 569.1h0M384.4 546.2h0M382.2 567h0M385.4 576.4h0M383.9 557.9h0M384.4 571.7h0M380.9 567h0M397.8 563.2h0M396.1 552.5h0M398.4 573.9h0M396.4 554.1h0M397 562.9h0M395.9 577.2h0M397.5 571h0M398.2 583.3h0M396.1 556.8h0M397.7 581.1h0M399 558.3h0M398.4 574.5h0M398.2 554.8h0M416.1 583.2h0M417.2 583.1h0M416.5 583.5h0M414.4 583.3h0M414 582.8h0M452.9 566.1h0M449.5 570.3h0M450.3 572.6h0M450.8 561.1h0M453.3 569h0M388.6 580.2h0M387.2 567.9h0M389.5 577.9h0M388 559.6h0M389.4 551.7h0M386.1 562.3h0M387.4 544.8h0M389.2 574.8h0M388.7 559.5h0M404.7 578.7h0M404.6 582.3h0M407.1 577.9h0M404.9 583.3h0M404.3 573.7h0M405.1 581.6h0M406.6 583.2h0M408.3 582.4h0M406.9 582.6h0M404.5 581.8h0M405.2 578.4h0M404.3 575.4h0M404.4 583.1h0M426.5 573.4h0M423.9 581.8h0M425.6 580.8h0M422.8 581.9h0M426.4 583.2h0M424.5 577.5h0M423.2 583.4h0M422.4 579.9h0M424.7 581.4h0M423.6 583.3h0M425.4 575.5h0M424.4 581.4h0M423.5 579.2h0M424.3 582.8h0M425.1 575.1h0M424 581.8h0M426.6 582h0M362.8 558.9h0M378.1 568.7h0M377.3 570.1h0M378.6 550.7h0M377.2 504.1h0M380.3 568.8h0M376.6 573h0M376.9 570.7h0M376.9 560.7h0M369.6 539.9h0M371.7 569h0M370.9 563.1h0M434.7 583.3h0M432.7 556.4h0M433 574.5h0M432.6 568.6h0M431.9 568.9h0M431.4 566.3h0M432 574.4h0M435.3 562.1h0M435.8 578.2h0M432.7 573.8h0M434.5 559.6h0M435 559.4h0M432.6 580.7h0M432.1 576.3h0M410.2 581.4h0M409.2 581h0M409.1 582.9h0M409.3 578.9h0M458.2 530h0M457.8 568.6h0M458.2 552.7h0M457.5 566.6h0M456.1 556.5h0M372.5 567.2h0M372.8 543.9h0M372.5 551.9h0M376 551h0M372 546.5h0M427.9 568.5h0M428.4 574.2h0M430.6 575.6h0M426.7 580h0M428.8 579.7h0M428.8 580.4h0M429.7 564.3h0M429.2 571.7h0M431.1 575.7h0M430.8 566.7h0M431.2 573h0M430 582.1h0M428 577h0M464.4 561.3h0M464.1 563.7h0M465.4 547.2h0M464.5 559.7h0M353.9 480.1h0M356.5 549.6h0M357.5 541.9h0M491.4 431.4h0M418.8 583.3h0M419.2 581.9h0M420.8 583h0M418.9 583.5h0M419.2 583.4h0M443.7 573.5h0M441.8 553.5h0M440.5 558.5h0M443.8 567.8h0M353 549.2h0M333.8 507.2h0M485.5 497.8h0M343.8 518.9h0M470.8 556.6h0M461.3 554.8h0" stroke="#000" stroke-opacity=".35" stroke-width="2.6" stroke-linecap="round"/>
<path d="M333.8 507.2h0" stroke="#234590" stroke-width="1.9" stroke-linecap="round"/>
<path d="M343.8 518.9h0" stroke="#2b54a0" stroke-width="1.9" stroke-linecap="round"/>
<path d="M353 549.2h0" stroke="#3664ad" stroke-width="1.9" stroke-linecap="round"/>
<path d="M353.9 480.1h0M356.5 549.6h0M357.5 541.9h0" stroke="#3d6cb3" stroke-width="1.9" stroke-linecap="round"/>
<path d="M362.8 558.9h0" stroke="#4b7bbe" stroke-width="1.9" stroke-linecap="round"/>
<path d="M369.6 539.9h0M371.7 569h0M370.9 563.1h0" stroke="#5283c3" stroke-width="1.9" stroke-linecap="round"/>
<path d="M372.5 567.2h0M372.8 543.9h0M372.5 551.9h0M376 551h0M372 546.5h0" stroke="#5f8ec8" stroke-width="1.9" stroke-linecap="round"/>
<path d="M378.1 568.7h0M377.3 570.1h0M378.6 550.7h0M377.2 504.1h0M380.3 568.8h0M376.6 573h0M376.9 570.7h0M376.9 560.7h0" stroke="#6c98ce" stroke-width="1.9" stroke-linecap="round"/>
<path d="M384.1 542.8h0M384.2 562.2h0M381.5 550.2h0M385.3 578.5h0M382.1 570.7h0M384.6 555h0M383.5 556h0M385.4 569.1h0M384.4 546.2h0M382.2 567h0M385.4 576.4h0M383.9 557.9h0M384.4 571.7h0M380.9 567h0" stroke="#7ca5d4" stroke-width="1.9" stroke-linecap="round"/>
<path d="M388.6 580.2h0M387.2 567.9h0M389.5 577.9h0M388 559.6h0M389.4 551.7h0M386.1 562.3h0M387.4 544.8h0M389.2 574.8h0M388.7 559.5h0" stroke="#8db1da" stroke-width="1.9" stroke-linecap="round"/>
<path d="M392.6 567.9h0M393.5 581.6h0M392.1 553.9h0M390.7 555.1h0M393.4 569.3h0M390.7 576h0M392.4 541.2h0M392 570.3h0M391.4 548.8h0M392 548.7h0M393.3 575.8h0M391.7 550h0M391.7 535.2h0M390.1 571.5h0M393.1 552.9h0M391.6 555.3h0M392.8 549.6h0" stroke="#9dbee0" stroke-width="1.9" stroke-linecap="round"/>
<path d="M397.8 563.2h0M396.1 552.5h0M398.4 573.9h0M396.4 554.1h0M397 562.9h0M395.9 577.2h0M397.5 571h0M398.2 583.3h0M396.1 556.8h0M397.7 581.1h0M399 558.3h0M398.4 574.5h0M398.2 554.8h0" stroke="#adc7e2" stroke-width="1.9" stroke-linecap="round"/>
<path d="M401.4 572h0M402.5 583.3h0M402.5 566.4h0M403.6 578.3h0M399.2 582.1h0M402.8 565.6h0M403 577.2h0M399.4 582.6h0M401 571.9h0M399.2 578.8h0M400.2 574.2h0M399.3 569.6h0M402.8 566.2h0M403.1 580.7h0" stroke="#bdd0e5" stroke-width="1.9" stroke-linecap="round"/>
<path d="M404.7 578.7h0M404.6 582.3h0M407.1 577.9h0M404.9 583.3h0M404.3 573.7h0M405.1 581.6h0M406.6 583.2h0M408.3 582.4h0M406.9 582.6h0M404.5 581.8h0M405.2 578.4h0M404.3 575.4h0M404.4 583.1h0" stroke="#ccdae7" stroke-width="1.9" stroke-linecap="round"/>
<path d="M410.2 581.4h0M409.2 581h0M409.1 582.9h0M409.3 578.9h0" stroke="#dce3ea" stroke-width="1.9" stroke-linecap="round"/>
<path d="M416.1 583.2h0M417.2 583.1h0M416.5 583.5h0M414.4 583.3h0M414 582.8h0" stroke="#ececec" stroke-width="1.9" stroke-linecap="round"/>
<path d="M418.8 583.3h0M419.2 581.9h0M420.8 583h0M418.9 583.5h0M419.2 583.4h0" stroke="#ede2da" stroke-width="1.9" stroke-linecap="round"/>
<path d="M426.5 573.4h0M423.9 581.8h0M425.6 580.8h0M422.8 581.9h0M426.4 583.2h0M424.5 577.5h0M423.2 583.4h0M422.4 579.9h0M424.7 581.4h0M423.6 583.3h0M425.4 575.5h0M424.4 581.4h0M423.5 579.2h0M424.3 582.8h0M425.1 575.1h0M424 581.8h0M426.6 582h0" stroke="#eed7c8" stroke-width="1.9" stroke-linecap="round"/>
<path d="M427.9 568.5h0M428.4 574.2h0M430.6 575.6h0M426.7 580h0M428.8 579.7h0M428.8 580.4h0M429.7 564.3h0M429.2 571.7h0M431.1 575.7h0M430.8 566.7h0M431.2 573h0M430 582.1h0M428 577h0" stroke="#eecdb6" stroke-width="1.9" stroke-linecap="round"/>
<path d="M434.7 583.3h0M432.7 556.4h0M433 574.5h0M432.6 568.6h0M431.9 568.9h0M431.4 566.3h0M432 574.4h0M435.3 562.1h0M435.8 578.2h0M432.7 573.8h0M434.5 559.6h0M435 559.4h0M432.6 580.7h0M432.1 576.3h0" stroke="#efc2a4" stroke-width="1.9" stroke-linecap="round"/>
<path d="M437.5 564.5h0M437.5 563.2h0M438.7 553.3h0M438.2 553.8h0M438.1 571.1h0M439.7 569.8h0M438.9 570h0M438.7 573.6h0M438.7 548.7h0M438.5 565.8h0M435.9 564.2h0M439.1 567.3h0M438.3 575.8h0" stroke="#ebad88" stroke-width="1.9" stroke-linecap="round"/>
<path d="M443.7 573.5h0M441.8 553.5h0M440.5 558.5h0M443.8 567.8h0" stroke="#e7986d" stroke-width="1.9" stroke-linecap="round"/>
<path d="M448.1 545.2h0M448.1 540.6h0M447.9 574.1h0M447.1 568.4h0M446.6 562.7h0M448.9 569h0M449.1 564.8h0M445.8 572.4h0M447.4 562.5h0M447.5 551.5h0M446.6 564.1h0M448.7 563h0M445.5 566.1h0M448.9 560.8h0" stroke="#e28454" stroke-width="1.9" stroke-linecap="round"/>
<path d="M452.9 566.1h0M449.5 570.3h0M450.3 572.6h0M450.8 561.1h0M453.3 569h0" stroke="#db6f3f" stroke-width="1.9" stroke-linecap="round"/>
<path d="M458.2 530h0M457.8 568.6h0M458.2 552.7h0M457.5 566.6h0M456.1 556.5h0" stroke="#d55a2a" stroke-width="1.9" stroke-linecap="round"/>
<path d="M461.3 554.8h0" stroke="#ce4b20" stroke-width="1.9" stroke-linecap="round"/>
<path d="M464.4 561.3h0M464.1 563.7h0M465.4 547.2h0M464.5 559.7h0" stroke="#c63c16" stroke-width="1.9" stroke-linecap="round"/>
<path d="M470.8 556.6h0" stroke="#b72911" stroke-width="1.9" stroke-linecap="round"/>
<path d="M485.5 497.8h0" stroke="#810b1a" stroke-width="1.9" stroke-linecap="round"/>
<path d="M491.4 431.4h0" stroke="#76051d" stroke-width="1.9" stroke-linecap="round"/>
<path d="M438.9 557.3h0M435.9 553.3h0M435.9 548.4h0M439.3 571.3h0M440.2 565.3h0M436.3 562.4h0M437.9 571.6h0M436.8 571.4h0M435.9 578.4h0M439.2 573.6h0M438.3 570.2h0M436.5 556.4h0M437.6 546.5h0M439.8 564.3h0M440.1 549.8h0M440.3 572h0M436 571.9h0M456.2 553.7h0M454.6 568.1h0M457.3 559.6h0M456.2 566.2h0M455.2 559.5h0M396.5 582.8h0M398.7 563.1h0M395.6 550.4h0M397.5 553h0M398.2 574.5h0M399 572.3h0M398.5 556.7h0M395.9 562.1h0M397.8 569.9h0M397.9 575.5h0M396 566.9h0M396.6 579h0M397.7 557.4h0M397 557.3h0M422.8 578h0M423.5 580.6h0M424.4 582.4h0M423.8 577.5h0M425.5 574.7h0M424.2 579h0M424.1 579.9h0M425.3 582.1h0M422.3 582.4h0M423.3 578.3h0M423.7 583.3h0M422.3 580.7h0M422.7 581h0M401.9 579.4h0M400.3 574h0M400.1 583.1h0M401.1 560.9h0M401.4 582.8h0M401.1 571.5h0M400.9 575h0M399.8 578.6h0M403.6 573.7h0M400.7 570.4h0M407.6 577.8h0M407 579.7h0M407.4 582.9h0M406.5 580h0M405.4 578.8h0M406.5 580.3h0M406.1 582.9h0M407.9 580.4h0M406.9 574.7h0M405 583h0M475.1 530.1h0M408.7 582.8h0M411.4 581.9h0M410.6 582.1h0M412.2 583.3h0M412.8 582.4h0M410.1 581.8h0M366.3 556.5h0M365.4 549.1h0M363.7 534.2h0M380.3 563.9h0M380.6 565h0M379.2 555.9h0M378 561h0M379.7 557.3h0M379.4 550h0M379.3 536.3h0M380.6 548.4h0M379.1 569.2h0M380.1 570.1h0M380.5 572.3h0M380.4 563.5h0M380 530.1h0M379 554.4h0M378.5 562.6h0M380 571.8h0M388.2 570.3h0M385.6 574.3h0M387 554.5h0M388.9 566.1h0M389.2 563.3h0M389.6 540.7h0M388.4 570.4h0M388.4 557.5h0M385.7 542.1h0M443.3 571.6h0M443.7 551.1h0M444.3 538.5h0M442.4 541.8h0M440.8 544.6h0M444.7 570.3h0M444.3 565.5h0M440.4 559.1h0M443.5 541.1h0M444.1 575.7h0M441.9 571.5h0M384 568.8h0M381.9 563.9h0M383.2 547.4h0M381.2 551.4h0M385.4 565.9h0M384.6 528.4h0M381.9 562h0M384.1 570h0M382.4 573h0M382.1 557.8h0M381.9 561.5h0M385.2 571.1h0M383.7 553.9h0M356.6 484.8h0M355 549.6h0M429.4 565.3h0M431 577.1h0M429.6 572.9h0M428.6 565.2h0M427.6 580.9h0M429.1 579.5h0M429 573.4h0M428.6 567.9h0M427.3 570.6h0M427.5 582.7h0M433.9 583.1h0M432.1 565.1h0M434.3 572.8h0M432.9 556.9h0M433.7 572.9h0M432.4 569.7h0M434.9 555.6h0M432.7 583.1h0M432.2 577.1h0M434.9 581.8h0M432.8 569.4h0M390.1 569.5h0M391.7 536.2h0M392.5 576.4h0M390.9 563.3h0M394.2 567.6h0M390.5 553.1h0M392 565.7h0M392.2 564.6h0M394.1 581.1h0M390.2 541.4h0M392.9 573.8h0M391.9 551h0M451.4 562.7h0M451.3 568.8h0M452.4 568.1h0M452.8 543.9h0M450.8 572.6h0M451.9 565h0M450.9 559.5h0M450 571.3h0M420.9 583.4h0M420.4 583h0M420.8 580.1h0M420.1 583.1h0M421.2 580.7h0M419.8 582.6h0M368.3 543.4h0M370.5 562.8h0M446.4 561.8h0M449.4 551.9h0M445.5 556.8h0M446.8 560.4h0M448.2 568h0M445 569.6h0M375.9 555.6h0M373.4 545h0M374.3 550.2h0M375.5 570.4h0M375.4 544.5h0M372.3 557.5h0M372.4 569h0M372.7 551.4h0M373 549.1h0M372.3 569.3h0M461.6 534.4h0M462.1 518.9h0M461.4 558.5h0M342 540h0M486.8 524.8h0M360.3 482.5h0M362.1 476h0M359 535.7h0M352.6 548.4h0M351.9 524.5h0M416.2 582.9h0M415.5 583.3h0M471.4 544.1h0M467.9 549h0" stroke="#000" stroke-opacity=".35" stroke-width="2.6" stroke-linecap="round"/>
<path d="M342 540h0" stroke="#2b54a0" stroke-width="1.9" stroke-linecap="round"/>
<path d="M352.6 548.4h0M351.9 524.5h0" stroke="#3664ad" stroke-width="1.9" stroke-linecap="round"/>
<path d="M356.6 484.8h0M355 549.6h0" stroke="#3d6cb3" stroke-width="1.9" stroke-linecap="round"/>
<path d="M360.3 482.5h0M362.1 476h0M359 535.7h0" stroke="#4473b8" stroke-width="1.9" stroke-linecap="round"/>
<path d="M366.3 556.5h0M365.4 549.1h0M363.7 534.2h0" stroke="#4b7bbe" stroke-width="1.9" stroke-linecap="round"/>
<path d="M368.3 543.4h0M370.5 562.8h0" stroke="#5283c3" stroke-width="1.9" stroke-linecap="round"/>
<path d="M375.9 555.6h0M373.4 545h0M374.3 550.2h0M375.5 570.4h0M375.4 544.5h0M372.3 557.5h0M372.4 569h0M372.7 551.4h0M373 549.1h0M372.3 569.3h0" stroke="#5f8ec8" stroke-width="1.9" stroke-linecap="round"/>
<path d="M380.3 563.9h0M380.6 565h0M379.2 555.9h0M378 561h0M379.7 557.3h0M379.4 550h0M379.3 536.3h0M380.6 548.4h0M379.1 569.2h0M380.1 570.1h0M380.5 572.3h0M380.4 563.5h0M380 530.1h0M379 554.4h0M378.5 562.6h0M380 571.8h0" stroke="#6c98ce" stroke-width="1.9" stroke-linecap="round"/>
<path d="M384 568.8h0M381.9 563.9h0M383.2 547.4h0M381.2 551.4h0M385.4 565.9h0M384.6 528.4h0M381.9 562h0M384.1 570h0M382.4 573h0M382.1 557.8h0M381.9 561.5h0M385.2 571.1h0M383.7 553.9h0" stroke="#7ca5d4" stroke-width="1.9" stroke-linecap="round"/>
<path d="M388.2 570.3h0M385.6 574.3h0M387 554.5h0M388.9 566.1h0M389.2 563.3h0M389.6 540.7h0M388.4 570.4h0M388.4 557.5h0M385.7 542.1h0" stroke="#8db1da" stroke-width="1.9" stroke-linecap="round"/>
<path d="M390.1 569.5h0M391.7 536.2h0M392.5 576.4h0M390.9 563.3h0M394.2 567.6h0M390.5 553.1h0M392 565.7h0M392.2 564.6h0M394.1 581.1h0M390.2 541.4h0M392.9 573.8h0M391.9 551h0" stroke="#9dbee0" stroke-width="1.9" stroke-linecap="round"/>
<path d="M396.5 582.8h0M398.7 563.1h0M395.6 550.4h0M397.5 553h0M398.2 574.5h0M399 572.3h0M398.5 556.7h0M395.9 562.1h0M397.8 569.9h0M397.9 575.5h0M396 566.9h0M396.6 579h0M397.7 557.4h0M397 557.3h0" stroke="#adc7e2" stroke-width="1.9" stroke-linecap="round"/>
<path d="M401.9 579.4h0M400.3 574h0M400.1 583.1h0M401.1 560.9h0M401.4 582.8h0M401.1 571.5h0M400.9 575h0M399.8 578.6h0M403.6 573.7h0M400.7 570.4h0" stroke="#bdd0e5" stroke-width="1.9" stroke-linecap="round"/>
<path d="M407.6 577.8h0M407 579.7h0M407.4 582.9h0M406.5 580h0M405.4 578.8h0M406.5 580.3h0M406.1 582.9h0M407.9 580.4h0M406.9 574.7h0M405 583h0" stroke="#ccdae7" stroke-width="1.9" stroke-linecap="round"/>
<path d="M408.7 582.8h0M411.4 581.9h0M410.6 582.1h0M412.2 583.3h0M412.8 582.4h0M410.1 581.8h0" stroke="#dce3ea" stroke-width="1.9" stroke-linecap="round"/>
<path d="M416.2 582.9h0M415.5 583.3h0" stroke="#ececec" stroke-width="1.9" stroke-linecap="round"/>
<path d="M420.9 583.4h0M420.4 583h0M420.8 580.1h0M420.1 583.1h0M421.2 580.7h0M419.8 582.6h0" stroke="#ede2da" stroke-width="1.9" stroke-linecap="round"/>
<path d="M422.8 578h0M423.5 580.6h0M424.4 582.4h0M423.8 577.5h0M425.5 574.7h0M424.2 579h0M424.1 579.9h0M425.3 582.1h0M422.3 582.4h0M423.3 578.3h0M423.7 583.3h0M422.3 580.7h0M422.7 581h0" stroke="#eed7c8" stroke-width="1.9" stroke-linecap="round"/>
<path d="M429.4 565.3h0M431 577.1h0M429.6 572.9h0M428.6 565.2h0M427.6 580.9h0M429.1 579.5h0M429 573.4h0M428.6 567.9h0M427.3 570.6h0M427.5 582.7h0" stroke="#eecdb6" stroke-width="1.9" stroke-linecap="round"/>
<path d="M433.9 583.1h0M432.1 565.1h0M434.3 572.8h0M432.9 556.9h0M433.7 572.9h0M432.4 569.7h0M434.9 555.6h0M432.7 583.1h0M432.2 577.1h0M434.9 581.8h0M432.8 569.4h0" stroke="#efc2a4" stroke-width="1.9" stroke-linecap="round"/>
<path d="M438.9 557.3h0M435.9 553.3h0M435.9 548.4h0M439.3 571.3h0M440.2 565.3h0M436.3 562.4h0M437.9 571.6h0M436.8 571.4h0M435.9 578.4h0M439.2 573.6h0M438.3 570.2h0M436.5 556.4h0M437.6 546.5h0M439.8 564.3h0M440.1 549.8h0M440.3 572h0M436 571.9h0" stroke="#ebad88" stroke-width="1.9" stroke-linecap="round"/>
<path d="M443.3 571.6h0M443.7 551.1h0M444.3 538.5h0M442.4 541.8h0M440.8 544.6h0M444.7 570.3h0M444.3 565.5h0M440.4 559.1h0M443.5 541.1h0M444.1 575.7h0M441.9 571.5h0" stroke="#e7986d" stroke-width="1.9" stroke-linecap="round"/>
<path d="M446.4 561.8h0M449.4 551.9h0M445.5 556.8h0M446.8 560.4h0M448.2 568h0M445 569.6h0" stroke="#e28454" stroke-width="1.9" stroke-linecap="round"/>
<path d="M451.4 562.7h0M451.3 568.8h0M452.4 568.1h0M452.8 543.9h0M450.8 572.6h0M451.9 565h0M450.9 559.5h0M450 571.3h0" stroke="#db6f3f" stroke-width="1.9" stroke-linecap="round"/>
<path d="M456.2 553.7h0M454.6 568.1h0M457.3 559.6h0M456.2 566.2h0M455.2 559.5h0" stroke="#d55a2a" stroke-width="1.9" stroke-linecap="round"/>
<path d="M461.6 534.4h0M462.1 518.9h0M461.4 558.5h0" stroke="#ce4b20" stroke-width="1.9" stroke-linecap="round"/>
<path d="M467.9 549h0" stroke="#bf3314" stroke-width="1.9" stroke-linecap="round"/>
<path d="M471.4 544.1h0" stroke="#b72911" stroke-width="1.9" stroke-linecap="round"/>
<path d="M475.1 530.1h0" stroke="#b0200f" stroke-width="1.9" stroke-linecap="round"/>
<path d="M486.8 524.8h0" stroke="#810b1a" stroke-width="1.9" stroke-linecap="round"/>
<path d="M389.2 541.6h0M385.8 556.1h0M389.3 576.3h0M388.5 574.4h0M387.7 543.7h0M385.8 578.4h0M387.5 559.6h0M388.8 539.5h0M386.8 546.4h0M389.5 551.3h0M388.7 542.7h0M385.6 561.1h0M389.7 572.8h0M389.6 537.4h0M385.5 557.2h0M386.8 545.7h0M390 579.6h0M385.8 554.8h0M386 554h0M386 575.4h0M442.3 567.9h0M441.5 573.5h0M443.2 559.2h0M441.8 548.6h0M441.6 565h0M441 574.5h0M441.4 558.8h0M444.7 574.1h0M441.2 567.7h0M441.9 574.8h0M440.8 554.7h0M411.4 581.8h0M410.9 582.7h0M410 583.2h0M409.1 580.9h0M410.2 580.6h0M410.8 582.1h0M412.7 583.2h0M409.4 582.9h0M438 562.2h0M439.2 570.1h0M437.6 550h0M439.3 564h0M436.4 559.7h0M438.4 573.7h0M440 576.1h0M437.1 557.6h0M438.9 557.3h0M390.1 535.6h0M390.3 558.6h0M393.7 545.3h0M391.1 566.2h0M391.2 546.7h0M391.9 564.6h0M394 549.6h0M391.5 579.1h0M392.3 569.1h0M391.4 566.4h0M394.5 546.8h0M394.4 581.3h0M390.5 557.4h0M457 552.8h0M454.2 554.2h0M454.7 569.4h0M455.2 557.4h0M455.6 559.9h0M455.3 571.8h0M451.9 570.6h0M449.7 566.6h0M451.3 555.5h0M451.4 570.8h0M452.3 563.1h0M452.6 568.7h0M404.9 580.3h0M406 576.6h0M404.4 580.3h0M406 577.2h0M408.3 580.6h0M406.9 576.3h0M405.5 572.8h0M405.9 581.3h0M406 582.4h0M406.9 582h0M407.6 580.6h0M406 583.2h0M461.7 569.6h0M461.3 549.4h0M434.3 571.4h0M431.6 565.6h0M433.9 581.6h0M434.2 557.7h0M431.9 566.5h0M431.8 571.1h0M433.7 575.9h0M433.7 560h0M433.2 561.6h0M432.9 555.4h0M433.3 582.2h0M432.3 557h0M416.1 583.3h0M416.6 582.6h0M413.6 582.5h0M420.8 582h0M417.9 583.4h0M419.6 582.6h0M418.4 581.7h0M418.9 581.6h0M418.5 582.1h0M421.5 579.7h0M369.2 566.8h0M369.8 558.2h0M370 556.9h0M370.4 540h0M369.3 549.1h0M368.2 528.4h0M380.8 529.4h0M378.9 566.3h0M378.6 546.3h0M379.2 572.4h0M377 541.4h0M378.9 565h0M378.5 545.7h0M378.8 573.5h0M377.9 570.5h0M378.3 563.4h0M376.6 522.9h0M379.6 549.2h0M379.2 574.2h0M380.1 559.1h0M426.7 569.2h0M429.4 581.7h0M428 571.8h0M427.5 580.3h0M429.5 578.7h0M428.1 573.6h0M426.8 573h0M427.3 581h0M428.8 567.1h0M428.7 570.7h0M429.8 569.5h0M430.4 568.3h0M381.6 571.1h0M384.7 557.9h0M384.1 569.7h0M382.8 577.1h0M383.1 571h0M382 556.3h0M381.3 543h0M381.5 569.6h0M401.3 571.5h0M401.3 576.1h0M401.9 581.9h0M402.9 577.6h0M402.5 573.4h0M403.5 578.2h0M400.7 560h0M403.2 579.5h0M403.5 583.2h0M402.5 583.2h0M401.4 576.3h0M402 582.8h0M401.8 581.8h0M425.6 577.9h0M425.6 576.1h0M426 582.6h0M425 582.5h0M422.1 581.3h0M422.6 581.2h0M425.1 577.5h0M374.6 561h0M372.3 547.2h0M376.1 554.1h0M375.2 559.2h0M374.6 544.4h0M373.3 531.6h0M374.3 532.7h0M395.5 575.8h0M398.2 581.9h0M396.9 565.4h0M398.6 582.7h0M394.8 561.8h0M395 557.1h0M395.4 559.1h0M398.2 561.9h0M397.7 578.1h0M396.5 581.5h0M398.3 581.6h0M397.6 562.4h0M447.4 573h0M445.2 572.9h0M446.4 554.6h0M449.4 561.9h0M445.1 565.5h0M448.9 565.9h0M445.4 570.6h0M448.6 558.7h0M445.4 570.3h0M449.2 573.3h0M449 570.1h0M445.6 569h0M364.3 551.2h0M366.7 552.3h0M473 536.8h0M473 543.8h0M342.9 560.6h0M488.8 467.2h0M351.2 555.7h0M353.3 518.9h0M360 525.6h0" stroke="#000" stroke-opacity=".35" stroke-width="2.6" stroke-linecap="round"/>
<path d="M342.9 560.6h0" stroke="#2b54a0" stroke-width="1.9" stroke-linecap="round"/>
<path d="M351.2 555.7h0M353.3 518.9h0" stroke="#3664ad" stroke-width="1.9" stroke-linecap="round"/>
<path d="M360 525.6h0" stroke="#4473b8" stroke-width="1.9" stroke-linecap="round"/>
<path d="M364.3 551.2h0M366.7 552.3h0" stroke="#4b7bbe" stroke-width="1.9" stroke-linecap="round"/>
<path d="M369.2 566.8h0M369.8 558.2h0M370 556.9h0M370.4 540h0M369.3 549.1h0M368.2 528.4h0" stroke="#5283c3" stroke-width="1.9" stroke-linecap="round"/>
<path d="M374.6 561h0M372.3 547.2h0M376.1 554.1h0M375.2 559.2h0M374.6 544.4h0M373.3 531.6h0M374.3 532.7h0" stroke="#5f8ec8" stroke-width="1.9" stroke-linecap="round"/>
<path d="M380.8 529.4h0M378.9 566.3h0M378.6 546.3h0M379.2 572.4h0M377 541.4h0M378.9 565h0M378.5 545.7h0M378.8 573.5h0M377.9 570.5h0M378.3 563.4h0M376.6 522.9h0M379.6 549.2h0M379.2 574.2h0M380.1 559.1h0" stroke="#6c98ce" stroke-width="1.9" stroke-linecap="round"/>
<path d="M381.6 571.1h0M384.7 557.9h0M384.1 569.7h0M382.8 577.1h0M383.1 571h0M382 556.3h0M381.3 543h0M381.5 569.6h0" stroke="#7ca5d4" stroke-width="1.9" stroke-linecap="round"/>
<path d="M389.2 541.6h0M385.8 556.1h0M389.3 576.3h0M388.5 574.4h0M387.7 543.7h0M385.8 578.4h0M387.5 559.6h0M388.8 539.5h0M386.8 546.4h0M389.5 551.3h0M388.7 542.7h0M385.6 561.1h0M389.7 572.8h0M389.6 537.4h0M385.5 557.2h0M386.8 545.7h0M390 579.6h0M385.8 554.8h0M386 554h0M386 575.4h0" stroke="#8db1da" stroke-width="1.9" stroke-linecap="round"/>
<path d="M390.1 535.6h0M390.3 558.6h0M393.7 545.3h0M391.1 566.2h0M391.2 546.7h0M391.9 564.6h0M394 549.6h0M391.5 579.1h0M392.3 569.1h0M391.4 566.4h0M394.5 546.8h0M394.4 581.3h0M390.5 557.4h0" stroke="#9dbee0" stroke-width="1.9" stroke-linecap="round"/>
<path d="M395.5 575.8h0M398.2 581.9h0M396.9 565.4h0M398.6 582.7h0M394.8 561.8h0M395 557.1h0M395.4 559.1h0M398.2 561.9h0M397.7 578.1h0M396.5 581.5h0M398.3 581.6h0M397.6 562.4h0" stroke="#adc7e2" stroke-width="1.9" stroke-linecap="round"/>
<path d="M401.3 571.5h0M401.3 576.1h0M401.9 581.9h0M402.9 577.6h0M402.5 573.4h0M403.5 578.2h0M400.7 560h0M403.2 579.5h0M403.5 583.2h0M402.5 583.2h0M401.4 576.3h0M402 582.8h0M401.8 581.8h0" stroke="#bdd0e5" stroke-width="1.9" stroke-linecap="round"/>
<path d="M404.9 580.3h0M406 576.6h0M404.4 580.3h0M406 577.2h0M408.3 580.6h0M406.9 576.3h0M405.5 572.8h0M405.9 581.3h0M406 582.4h0M406.9 582h0M407.6 580.6h0M406 583.2h0" stroke="#ccdae7" stroke-width="1.9" stroke-linecap="round"/>
<path d="M411.4 581.8h0M410.9 582.7h0M410 583.2h0M409.1 580.9h0M410.2 580.6h0M410.8 582.1h0M412.7 583.2h0M409.4 582.9h0" stroke="#dce3ea" stroke-width="1.9" stroke-linecap="round"/>
<path d="M416.1 583.3h0M416.6 582.6h0M413.6 582.5h0" stroke="#ececec" stroke-width="1.9" stroke-linecap="round"/>
<path d="M420.8 582h0M417.9 583.4h0M419.6 582.6h0M418.4 581.7h0M418.9 581.6h0M418.5 582.1h0M421.5 579.7h0" stroke="#ede2da" stroke-width="1.9" stroke-linecap="round"/>
<path d="M425.6 577.9h0M425.6 576.1h0M426 582.6h0M425 582.5h0M422.1 581.3h0M422.6 581.2h0M425.1 577.5h0" stroke="#eed7c8" stroke-width="1.9" stroke-linecap="round"/>
<path d="M426.7 569.2h0M429.4 581.7h0M428 571.8h0M427.5 580.3h0M429.5 578.7h0M428.1 573.6h0M426.8 573h0M427.3 581h0M428.8 567.1h0M428.7 570.7h0M429.8 569.5h0M430.4 568.3h0" stroke="#eecdb6" stroke-width="1.9" stroke-linecap="round"/>
<path d="M434.3 571.4h0M431.6 565.6h0M433.9 581.6h0M434.2 557.7h0M431.9 566.5h0M431.8 571.1h0M433.7 575.9h0M433.7 560h0M433.2 561.6h0M432.9 555.4h0M433.3 582.2h0M432.3 557h0" stroke="#efc2a4" stroke-width="1.9" stroke-linecap="round"/>
<path d="M438 562.2h0M439.2 570.1h0M437.6 550h0M439.3 564h0M436.4 559.7h0M438.4 573.7h0M440 576.1h0M437.1 557.6h0M438.9 557.3h0" stroke="#ebad88" stroke-width="1.9" stroke-linecap="round"/>
<path d="M442.3 567.9h0M441.5 573.5h0M443.2 559.2h0M441.8 548.6h0M441.6 565h0M441 574.5h0M441.4 558.8h0M444.7 574.1h0M441.2 567.7h0M441.9 574.8h0M440.8 554.7h0" stroke="#e7986d" stroke-width="1.9" stroke-linecap="round"/>
<path d="M447.4 573h0M445.2 572.9h0M446.4 554.6h0M449.4 561.9h0M445.1 565.5h0M448.9 565.9h0M445.4 570.6h0M448.6 558.7h0M445.4 570.3h0M449.2 573.3h0M449 570.1h0M445.6 569h0" stroke="#e28454" stroke-width="1.9" stroke-linecap="round"/>
<path d="M451.9 570.6h0M449.7 566.6h0M451.3 555.5h0M451.4 570.8h0M452.3 563.1h0M452.6 568.7h0" stroke="#db6f3f" stroke-width="1.9" stroke-linecap="round"/>
<path d="M457 552.8h0M454.2 554.2h0M454.7 569.4h0M455.2 557.4h0M455.6 559.9h0M455.3 571.8h0" stroke="#d55a2a" stroke-width="1.9" stroke-linecap="round"/>
<path d="M461.7 569.6h0M461.3 549.4h0" stroke="#ce4b20" stroke-width="1.9" stroke-linecap="round"/>
<path d="M473 536.8h0M473 543.8h0" stroke="#b0200f" stroke-width="1.9" stroke-linecap="round"/>
<path d="M488.8 467.2h0" stroke="#76051d" stroke-width="1.9" stroke-linecap="round"/>
<path d="M457.4 570.6h0M454.5 561.5h0M456.3 563.4h0M454.6 550h0M456.4 556.6h0M454.2 549.9h0M455.1 570.1h0M457.6 552.9h0M433.2 567h0M432.5 570.3h0M435.6 551.9h0M435.4 576.3h0M434.4 575.2h0M434.3 571.7h0M434 565.3h0M432.6 567.2h0M431.4 583.3h0M433.2 557.6h0M432.6 579.3h0M435.2 570.7h0M432.6 556.2h0M432.3 567.7h0M433.3 555.1h0M376.9 571.5h0M379.6 556.6h0M379.7 546.4h0M377 566.3h0M378.3 543.7h0M380.6 566.5h0M376 558.2h0M374.6 525.1h0M373.2 553h0M373 553.6h0M374.6 566.4h0M373.1 550.3h0M375.6 552h0M375.2 567.8h0M373.5 566h0M375.8 555.2h0M382.7 571.7h0M382.3 562.7h0M385.1 569.5h0M383.7 558.3h0M382.1 556.2h0M383.1 569.3h0M385.2 541.6h0M383.8 553.7h0M354.8 505.4h0M371.5 520.6h0M369.5 530.2h0M370.5 567.8h0M371.7 560.8h0M370.1 558.8h0M371 569.4h0M371.2 567.6h0M435.9 572.6h0M437.1 561.8h0M440 577.2h0M436 576.6h0M439.9 569.7h0M438 558.4h0M437 575.4h0M439.3 576.6h0M439.9 549.5h0M453.2 553.3h0M451.3 566.6h0M452.1 551h0M453.1 561.8h0M449.7 557.2h0M453.2 572.5h0M451.2 569.1h0M450.2 544.2h0M453.8 529.8h0M450.4 556h0M450.7 566.8h0M392.2 579h0M391.1 560.7h0M391.5 572.4h0M391.6 539.9h0M393.4 568.3h0M391.4 546.2h0M391.2 562.4h0M392.7 550.6h0M393.6 582.6h0M394.2 553.8h0M393.8 555.6h0M394.3 566.7h0M391.4 555h0M393.8 547.5h0M393.9 548.4h0M393.6 566.6h0M446.1 573.2h0M447.9 547.9h0M447.6 558.7h0M447.1 557.8h0M447.7 567.5h0M449.2 561.5h0M445.3 565.9h0M426.5 581.3h0M423.7 578.6h0M425.7 579.6h0M423.6 582.8h0M423.4 581.9h0M423.6 581.9h0M425.8 580.3h0M423.3 583.3h0M423.5 583.1h0M423.3 578.3h0M426.8 569.3h0M427.1 569.1h0M431.2 565.6h0M430 570h0M429.7 577.2h0M429.4 580.3h0M429.4 577.4h0M427.4 582.6h0M428.3 579.1h0M428.4 577.1h0M427.9 575.3h0M394.7 583.4h0M399.1 565.4h0M395.2 568.4h0M396 581.2h0M397.9 558h0M396 570h0M395.2 558.7h0M396.1 578.8h0M395.3 570.4h0M408 583.4h0M404.9 581.8h0M405.4 583h0M404 583.4h0M405.5 577.4h0M405 570.5h0M407.7 582.2h0M406.3 580h0M405.4 578.9h0M405.7 573.9h0M405 580.4h0M405.8 577.9h0M389.8 538h0M387.1 549.5h0M387.3 566.3h0M387.6 550.4h0M385.5 538.1h0M385.9 559.2h0M387.4 532h0M387.9 558.2h0M388.5 556.6h0M389.9 539.4h0M387.3 562.8h0M388.9 551h0M385.8 572h0M440.7 572.3h0M442 573.5h0M442.8 563.7h0M444.3 573.7h0M444.9 547.9h0M443.5 570.5h0M443.9 575.2h0M441.3 573.5h0M443.5 563.8h0M444.5 567.8h0M399.6 567h0M399.7 571h0M403.1 581.1h0M399.7 560.7h0M401.7 580.9h0M402.8 581.9h0M403.5 574.5h0M403.7 582.3h0M402.2 580.3h0M401.1 580.3h0M401.4 578.5h0M401.6 570.5h0M412.9 583.3h0M411.9 583.1h0M411.3 581.4h0M411.8 582.5h0M410.4 582.4h0M409.1 581.5h0M408.7 579.1h0M410.5 583.4h0M463.4 531.8h0M418.7 582.3h0M418.1 582.9h0M421.7 581.7h0M419.5 583.2h0M420 582.3h0M420.2 579.9h0M421.9 583.2h0M418.2 582.1h0M421.5 579.4h0M484.2 501.3h0M484.9 526.5h0M461 554.4h0M459.9 568.3h0M460.4 559.2h0M414 583.4h0M415.7 583.3h0M414.6 583.3h0M364.9 501.3h0M365 549.5h0M364 488.4h0M470.9 557.4h0M331 447.8h0M488.1 464.9h0M466.5 556.9h0M349.3 548.3h0" stroke="#000" stroke-opacity=".35" stroke-width="2.6" stroke-linecap="round"/>
<path d="M331 447.8h0" stroke="#234590" stroke-width="1.9" stroke-linecap="round"/>
<path d="M349.3 548.3h0" stroke="#3664ad" stroke-width="1.9" stroke-linecap="round"/>
<path d="M354.8 505.4h0" stroke="#3d6cb3" stroke-width="1.9" stroke-linecap="round"/>
<path d="M364.9 501.3h0M365 549.5h0M364 488.4h0" stroke="#4b7bbe" stroke-width="1.9" stroke-linecap="round"/>
<path d="M371.5 520.6h0M369.5 530.2h0M370.5 567.8h0M371.7 560.8h0M370.1 558.8h0M371 569.4h0M371.2 567.6h0" stroke="#5283c3" stroke-width="1.9" stroke-linecap="round"/>
<path d="M376 558.2h0M374.6 525.1h0M373.2 553h0M373 553.6h0M374.6 566.4h0M373.1 550.3h0M375.6 552h0M375.2 567.8h0M373.5 566h0M375.8 555.2h0" stroke="#5f8ec8" stroke-width="1.9" stroke-linecap="round"/>
<path d="M376.9 571.5h0M379.6 556.6h0M379.7 546.4h0M377 566.3h0M378.3 543.7h0M380.6 566.5h0" stroke="#6c98ce" stroke-width="1.9" stroke-linecap="round"/>
<path d="M382.7 571.7h0M382.3 562.7h0M385.1 569.5h0M383.7 558.3h0M382.1 556.2h0M383.1 569.3h0M385.2 541.6h0M383.8 553.7h0" stroke="#7ca5d4" stroke-width="1.9" stroke-linecap="round"/>
<path d="M389.8 538h0M387.1 549.5h0M387.3 566.3h0M387.6 550.4h0M385.5 538.1h0M385.9 559.2h0M387.4 532h0M387.9 558.2h0M388.5 556.6h0M389.9 539.4h0M387.3 562.8h0M388.9 551h0M385.8 572h0" stroke="#8db1da" stroke-width="1.9" stroke-linecap="round"/>
<path d="M392.2 579h0M391.1 560.7h0M391.5 572.4h0M391.6 539.9h0M393.4 568.3h0M391.4 546.2h0M391.2 562.4h0M392.7 550.6h0M393.6 582.6h0M394.2 553.8h0M393.8 555.6h0M394.3 566.7h0M391.4 555h0M393.8 547.5h0M393.9 548.4h0M393.6 566.6h0" stroke="#9dbee0" stroke-width="1.9" stroke-linecap="round"/>
<path d="M394.7 583.4h0M399.1 565.4h0M395.2 568.4h0M396 581.2h0M397.9 558h0M396 570h0M395.2 558.7h0M396.1 578.8h0M395.3 570.4h0" stroke="#adc7e2" stroke-width="1.9" stroke-linecap="round"/>
<path d="M399.6 567h0M399.7 571h0M403.1 581.1h0M399.7 560.7h0M401.7 580.9h0M402.8 581.9h0M403.5 574.5h0M403.7 582.3h0M402.2 580.3h0M401.1 580.3h0M401.4 578.5h0M401.6 570.5h0" stroke="#bdd0e5" stroke-width="1.9" stroke-linecap="round"/>
<path d="M408 583.4h0M404.9 581.8h0M405.4 583h0M404 583.4h0M405.5 577.4h0M405 570.5h0M407.7 582.2h0M406.3 580h0M405.4 578.9h0M405.7 573.9h0M405 580.4h0M405.8 577.9h0" stroke="#ccdae7" stroke-width="1.9" stroke-linecap="round"/>
<path d="M412.9 583.3h0M411.9 583.1h0M411.3 581.4h0M411.8 582.5h0M410.4 582.4h0M409.1 581.5h0M408.7 579.1h0M410.5 583.4h0" stroke="#dce3ea" stroke-width="1.9" stroke-linecap="round"/>
<path d="M414 583.4h0M415.7 583.3h0M414.6 583.3h0" stroke="#ececec" stroke-width="1.9" stroke-linecap="round"/>
<path d="M418.7 582.3h0M418.1 582.9h0M421.7 581.7h0M419.5 583.2h0M420 582.3h0M420.2 579.9h0M421.9 583.2h0M418.2 582.1h0M421.5 579.4h0" stroke="#ede2da" stroke-width="1.9" stroke-linecap="round"/>
<path d="M426.5 581.3h0M423.7 578.6h0M425.7 579.6h0M423.6 582.8h0M423.4 581.9h0M423.6 581.9h0M425.8 580.3h0M423.3 583.3h0M423.5 583.1h0M423.3 578.3h0" stroke="#eed7c8" stroke-width="1.9" stroke-linecap="round"/>
<path d="M426.8 569.3h0M427.1 569.1h0M431.2 565.6h0M430 570h0M429.7 577.2h0M429.4 580.3h0M429.4 577.4h0M427.4 582.6h0M428.3 579.1h0M428.4 577.1h0M427.9 575.3h0" stroke="#eecdb6" stroke-width="1.9" stroke-linecap="round"/>
<path d="M433.2 567h0M432.5 570.3h0M435.6 551.9h0M435.4 576.3h0M434.4 575.2h0M434.3 571.7h0M434 565.3h0M432.6 567.2h0M431.4 583.3h0M433.2 557.6h0M432.6 579.3h0M435.2 570.7h0M432.6 556.2h0M432.3 567.7h0M433.3 555.1h0" stroke="#efc2a4" stroke-width="1.9" stroke-linecap="round"/>
<path d="M435.9 572.6h0M437.1 561.8h0M440 577.2h0M436 576.6h0M439.9 569.7h0M438 558.4h0M437 575.4h0M439.3 576.6h0M439.9 549.5h0" stroke="#ebad88" stroke-width="1.9" stroke-linecap="round"/>
<path d="M440.7 572.3h0M442 573.5h0M442.8 563.7h0M444.3 573.7h0M444.9 547.9h0M443.5 570.5h0M443.9 575.2h0M441.3 573.5h0M443.5 563.8h0M444.5 567.8h0" stroke="#e7986d" stroke-width="1.9" stroke-linecap="round"/>
<path d="M446.1 573.2h0M447.9 547.9h0M447.6 558.7h0M447.1 557.8h0M447.7 567.5h0M449.2 561.5h0M445.3 565.9h0" stroke="#e28454" stroke-width="1.9" stroke-linecap="round"/>
<path d="M453.2 553.3h0M451.3 566.6h0M452.1 551h0M453.1 561.8h0M449.7 557.2h0M453.2 572.5h0M451.2 569.1h0M450.2 544.2h0M453.8 529.8h0M450.4 556h0M450.7 566.8h0" stroke="#db6f3f" stroke-width="1.9" stroke-linecap="round"/>
<path d="M457.4 570.6h0M454.5 561.5h0M456.3 563.4h0M454.6 550h0M456.4 556.6h0M454.2 549.9h0M455.1 570.1h0M457.6 552.9h0" stroke="#d55a2a" stroke-width="1.9" stroke-linecap="round"/>
<path d="M461 554.4h0M459.9 568.3h0M460.4 559.2h0" stroke="#ce4b20" stroke-width="1.9" stroke-linecap="round"/>
<path d="M463.4 531.8h0" stroke="#c63c16" stroke-width="1.9" stroke-linecap="round"/>
<path d="M466.5 556.9h0" stroke="#bf3314" stroke-width="1.9" stroke-linecap="round"/>
<path d="M470.9 557.4h0" stroke="#b72911" stroke-width="1.9" stroke-linecap="round"/>
<path d="M484.2 501.3h0M484.9 526.5h0" stroke="#8d1018" stroke-width="1.9" stroke-linecap="round"/>
<path d="M488.1 464.9h0" stroke="#810b1a" stroke-width="1.9" stroke-linecap="round"/>
<path d="M435.5 560.5h0M431.4 580h0M433.6 557h0M433.2 575.1h0M432.2 570.6h0M432.6 582h0M435 583.4h0M435.6 566.9h0M435.3 563.7h0M433.5 554.5h0M432.2 560.8h0M434.3 568.1h0M374.5 541.8h0M374 568.4h0M373.5 545.4h0M376.2 565.1h0M375 539.5h0M375.4 562.9h0M406.1 583.4h0M404 582.9h0M405.4 574.7h0M408 582.5h0M405.8 582.4h0M406.9 583.2h0M406.2 576.5h0M405.7 582.4h0M404.9 576.6h0M404.4 581h0M405.6 579.9h0M406.9 581.1h0M408.1 581h0M378.6 532.6h0M377.8 532.3h0M376.7 550.4h0M378.8 572h0M378.4 539.7h0M380 574.3h0M377.5 549.3h0M377.6 571.9h0M443.1 574.6h0M442.4 566.4h0M444 557.7h0M444 575.4h0M443.1 572.1h0M443.9 562.8h0M441.5 573h0M440.4 572.3h0M443.2 572.6h0M444.9 574.9h0M441.5 552h0M441.7 568.9h0M443 571.8h0M441.2 545.1h0M444.3 575.5h0M442.5 563.3h0M420 582.5h0M421.7 582.4h0M419.8 583.4h0M421.2 583.1h0M420.4 582h0M420.5 580.9h0M421.1 582.6h0M421.3 579h0M418 583.5h0M421.7 582h0M421.7 577.6h0M420.3 581.6h0M430.4 561.2h0M429.2 566.7h0M429.6 583.3h0M428.9 565.3h0M429.4 567.7h0M428 582.6h0M428 580.2h0M426.7 569.1h0M429.7 583.3h0M427.8 575.5h0M429.8 580.5h0M426.8 577.6h0M429.5 573.1h0M400.3 583.5h0M403.3 579.7h0M403.3 582.9h0M400 577.2h0M400.4 567.3h0M401.4 583.3h0M399.6 583.3h0M399.7 580.9h0M403.6 574.5h0M402.1 562.9h0M401.3 566.4h0M399.9 575.4h0M402.3 582.4h0M347.5 531.8h0M346.6 399.7h0M425.5 574.7h0M422.6 581.9h0M426.2 581.4h0M426.5 583.4h0M425.1 582.9h0M423.2 576.7h0M423.3 583.1h0M426.1 579.6h0M422.8 581h0M386.5 536.2h0M389.4 580.9h0M389.8 549.2h0M389.7 568h0M387.9 579.8h0M385.7 540.7h0M388.2 570.5h0M385.6 567.4h0M387 566.4h0M381.7 560.7h0M382.3 551.5h0M383.1 523.1h0M381.9 575h0M385.4 539h0M382.1 544.4h0M384.7 544.3h0M384.5 560.3h0M384.2 547.9h0M381.6 546.3h0M382.2 551.9h0M382.7 567.9h0M450.8 558.9h0M452.9 541.5h0M452.7 569.1h0M452.4 559.3h0M452.3 568.2h0M451.9 550.1h0M452.8 564.8h0M450.8 560.1h0M451.3 561.2h0M450.2 569.7h0M450 561.9h0M451.7 571.7h0M451.6 572.6h0M454 549.9h0M451.1 562.4h0M453.7 566.2h0M465.5 544h0M465.2 552.4h0M436.5 575h0M440.3 563.2h0M437.9 552h0M439.9 568.8h0M437.6 572.8h0M436.7 559h0M436.2 562.6h0M440.4 572.2h0M438 575.9h0M438.4 573.2h0M438.2 566.6h0M439.6 551.7h0M438.5 570.6h0M395.4 571.9h0M396.7 553.5h0M398.3 558.3h0M396.8 571.6h0M397.3 575.9h0M396.3 579h0M397.4 558.8h0M397.5 578.2h0M394.9 580.5h0M396.9 558.9h0M395.1 580.8h0M396.1 552.4h0M396.7 582.3h0M395.3 557.6h0M397.2 553h0M465.8 555.6h0M467 552.1h0M468.7 550.3h0M468.7 550.1h0M409.6 582.2h0M411.2 583h0M409.7 581.8h0M411.4 582.8h0M410.3 583.2h0M371 557.5h0M371.7 542.4h0M457 546.7h0M455.8 567.9h0M457.4 560.2h0M455.2 556.6h0M457.3 553.5h0M454.3 560.7h0M394.4 552.1h0M392.1 553.7h0M390.6 547.1h0M393.1 577.5h0M393.8 582.2h0M392.5 567.2h0M393.4 558.1h0M393.6 574.4h0M446.8 567.7h0M445.7 560h0M448 567h0M445.9 572.5h0M445.5 565.1h0M448.5 554.9h0M446.2 571.6h0M446.3 558.2h0M366.3 559.6h0M462 566.5h0M458.8 545.4h0M480.3 544.7h0M352.6 537.1h0" stroke="#000" stroke-opacity=".35" stroke-width="2.6" stroke-linecap="round"/>
<path d="M347.5 531.8h0M346.6 399.7h0" stroke="#2f5ca8" stroke-width="1.9" stroke-linecap="round"/>
<path d="M352.6 537.1h0" stroke="#3664ad" stroke-width="1.9" stroke-linecap="round"/>
<path d="M366.3 559.6h0" stroke="#4b7bbe" stroke-width="1.9" stroke-linecap="round"/>
<path d="M371 557.5h0M371.7 542.4h0" stroke="#5283c3" stroke-width="1.9" stroke-linecap="round"/>
<path d="M374.5 541.8h0M374 568.4h0M373.5 545.4h0M376.2 565.1h0M375 539.5h0M375.4 562.9h0" stroke="#5f8ec8" stroke-width="1.9" stroke-linecap="round"/>
<path d="M378.6 532.6h0M377.8 532.3h0M376.7 550.4h0M378.8 572h0M378.4 539.7h0M380 574.3h0M377.5 549.3h0M377.6 571.9h0" stroke="#6c98ce" stroke-width="1.9" stroke-linecap="round"/>
<path d="M381.7 560.7h0M382.3 551.5h0M383.1 523.1h0M381.9 575h0M385.4 539h0M382.1 544.4h0M384.7 544.3h0M384.5 560.3h0M384.2 547.9h0M381.6 546.3h0M382.2 551.9h0M382.7 567.9h0" stroke="#7ca5d4" stroke-width="1.9" stroke-linecap="round"/>
<path d="M386.5 536.2h0M389.4 580.9h0M389.8 549.2h0M389.7 568h0M387.9 579.8h0M385.7 540.7h0M388.2 570.5h0M385.6 567.4h0M387 566.4h0" stroke="#8db1da" stroke-width="1.9" stroke-linecap="round"/>
<path d="M394.4 552.1h0M392.1 553.7h0M390.6 547.1h0M393.1 577.5h0M393.8 582.2h0M392.5 567.2h0M393.4 558.1h0M393.6 574.4h0" stroke="#9dbee0" stroke-width="1.9" stroke-linecap="round"/>
<path d="M395.4 571.9h0M396.7 553.5h0M398.3 558.3h0M396.8 571.6h0M397.3 575.9h0M396.3 579h0M397.4 558.8h0M397.5 578.2h0M394.9 580.5h0M396.9 558.9h0M395.1 580.8h0M396.1 552.4h0M396.7 582.3h0M395.3 557.6h0M397.2 553h0" stroke="#adc7e2" stroke-width="1.9" stroke-linecap="round"/>
<path d="M400.3 583.5h0M403.3 579.7h0M403.3 582.9h0M400 577.2h0M400.4 567.3h0M401.4 583.3h0M399.6 583.3h0M399.7 580.9h0M403.6 574.5h0M402.1 562.9h0M401.3 566.4h0M399.9 575.4h0M402.3 582.4h0" stroke="#bdd0e5" stroke-width="1.9" stroke-linecap="round"/>
<path d="M406.1 583.4h0M404 582.9h0M405.4 574.7h0M408 582.5h0M405.8 582.4h0M406.9 583.2h0M406.2 576.5h0M405.7 582.4h0M404.9 576.6h0M404.4 581h0M405.6 579.9h0M406.9 581.1h0M408.1 581h0" stroke="#ccdae7" stroke-width="1.9" stroke-linecap="round"/>
<path d="M409.6 582.2h0M411.2 583h0M409.7 581.8h0M411.4 582.8h0M410.3 583.2h0" stroke="#dce3ea" stroke-width="1.9" stroke-linecap="round"/>
<path d="M420 582.5h0M421.7 582.4h0M419.8 583.4h0M421.2 583.1h0M420.4 582h0M420.5 580.9h0M421.1 582.6h0M421.3 579h0M418 583.5h0M421.7 582h0M421.7 577.6h0M420.3 581.6h0" stroke="#ede2da" stroke-width="1.9" stroke-linecap="round"/>
<path d="M425.5 574.7h0M422.6 581.9h0M426.2 581.4h0M426.5 583.4h0M425.1 582.9h0M423.2 576.7h0M423.3 583.1h0M426.1 579.6h0M422.8 581h0" stroke="#eed7c8" stroke-width="1.9" stroke-linecap="round"/>
<path d="M430.4 561.2h0M429.2 566.7h0M429.6 583.3h0M428.9 565.3h0M429.4 567.7h0M428 582.6h0M428 580.2h0M426.7 569.1h0M429.7 583.3h0M427.8 575.5h0M429.8 580.5h0M426.8 577.6h0M429.5 573.1h0" stroke="#eecdb6" stroke-width="1.9" stroke-linecap="round"/>
<path d="M435.5 560.5h0M431.4 580h0M433.6 557h0M433.2 575.1h0M432.2 570.6h0M432.6 582h0M435 583.4h0M435.6 566.9h0M435.3 563.7h0M433.5 554.5h0M432.2 560.8h0M434.3 568.1h0" stroke="#efc2a4" stroke-width="1.9" stroke-linecap="round"/>
<path d="M436.5 575h0M440.3 563.2h0M437.9 552h0M439.9 568.8h0M437.6 572.8h0M436.7 559h0M436.2 562.6h0M440.4 572.2h0M438 575.9h0M438.4 573.2h0M438.2 566.6h0M439.6 551.7h0M438.5 570.6h0" stroke="#ebad88" stroke-width="1.9" stroke-linecap="round"/>
<path d="M443.1 574.6h0M442.4 566.4h0M444 557.7h0M444 575.4h0M443.1 572.1h0M443.9 562.8h0M441.5 573h0M440.4 572.3h0M443.2 572.6h0M444.9 574.9h0M441.5 552h0M441.7 568.9h0M443 571.8h0M441.2 545.1h0M444.3 575.5h0M442.5 563.3h0" stroke="#e7986d" stroke-width="1.9" stroke-linecap="round"/>
<path d="M446.8 567.7h0M445.7 560h0M448 567h0M445.9 572.5h0M445.5 565.1h0M448.5 554.9h0M446.2 571.6h0M446.3 558.2h0" stroke="#e28454" stroke-width="1.9" stroke-linecap="round"/>
<path d="M450.8 558.9h0M452.9 541.5h0M452.7 569.1h0M452.4 559.3h0M452.3 568.2h0M451.9 550.1h0M452.8 564.8h0M450.8 560.1h0M451.3 561.2h0M450.2 569.7h0M450 561.9h0M451.7 571.7h0M451.6 572.6h0M454 549.9h0M451.1 562.4h0M453.7 566.2h0" stroke="#db6f3f" stroke-width="1.9" stroke-linecap="round"/>
<path d="M457 546.7h0M455.8 567.9h0M457.4 560.2h0M455.2 556.6h0M457.3 553.5h0M454.3 560.7h0" stroke="#d55a2a" stroke-width="1.9" stroke-linecap="round"/>
<path d="M462 566.5h0M458.8 545.4h0" stroke="#ce4b20" stroke-width="1.9" stroke-linecap="round"/>
<path d="M465.5 544h0M465.2 552.4h0" stroke="#c63c16" stroke-width="1.9" stroke-linecap="round"/>
<path d="M465.8 555.6h0M467 552.1h0M468.7 550.3h0M468.7 550.1h0" stroke="#bf3314" stroke-width="1.9" stroke-linecap="round"/>
<path d="M480.3 544.7h0" stroke="#991515" stroke-width="1.9" stroke-linecap="round"/>
<rect x="321.15" y="390.7" width="188.25" height="201.3" fill="none" stroke="#000" stroke-width="1.75"/>
<path d="M323.5 592v4.5M369.2 592v4.5M415.2 592v4.5M460.8 592v4.5M493.5 592v4.5M321.15 583.5h-4.6M321.15 524.77h-4.6M321.15 466.04h-4.6M321.15 407.31h-4.6" stroke="#000" stroke-width="1.2"/>
<text x="323.5" y="611.5" font-size="12" text-anchor="middle">-5.0</text>
<text x="369.2" y="611.5" font-size="12" text-anchor="middle">-2.5</text>
<text x="415.2" y="611.5" font-size="12" text-anchor="middle">0.0</text>
<text x="460.8" y="611.5" font-size="12" text-anchor="middle">2.5</text>
<text x="493.5" y="611.5" font-size="12" text-anchor="middle">5.0</text>
<text x="311.6" y="587.6" font-size="12" text-anchor="end">0</text>
<text x="311.6" y="528.87" font-size="12" text-anchor="end">10</text>
<text x="311.6" y="470.14" font-size="12" text-anchor="end">20</text>
<text x="311.6" y="411.41" font-size="12" text-anchor="end">30</text>
<text x="147.8" y="382.8" font-size="11.4" text-anchor="middle" textLength="165.2" lengthAdjust="spacingAndGlyphs">COVID-19 Non-ICU vs Healthy</text>
<text x="415" y="383" font-size="11.4" text-anchor="middle" textLength="137.3" lengthAdjust="spacingAndGlyphs">COVID-19 ICU vs Healthy</text>
<text x="148.3" y="631.9" font-size="14.4" text-anchor="middle" textLength="86.6" lengthAdjust="spacingAndGlyphs">Log2 fold change</text>
<text x="415.4" y="631.7" font-size="14.4" text-anchor="middle" textLength="86.8" lengthAdjust="spacingAndGlyphs">Log2 fold change</text>
<text transform="translate(23.3 491.4) rotate(-90)" x="0" y="0" font-size="13.6" text-anchor="middle" textLength="123.4" lengthAdjust="spacingAndGlyphs">–Log10 adjusted P-value</text>
<text transform="translate(291.2 491.5) rotate(-90)" x="0" y="0" font-size="13.6" text-anchor="middle" textLength="123.4" lengthAdjust="spacingAndGlyphs">-Log10 adjusted P-value</text>
<text x="10.6" y="24.9" font-size="17.6" font-weight="bold" textLength="13.2" lengthAdjust="spacingAndGlyphs">A</text>
<text x="278.4" y="24.9" font-size="17.6" font-weight="bold">B</text>
<text x="10.6" y="368.1" font-size="17.6" font-weight="bold">C</text>
<text x="278.4" y="368.1" font-size="17.6" font-weight="bold">D</text>
<rect x="0.75" y="0.75" width="518.5" height="644.5" fill="none" stroke="#000" stroke-width="1.6"/>
</svg>
</body></html>
